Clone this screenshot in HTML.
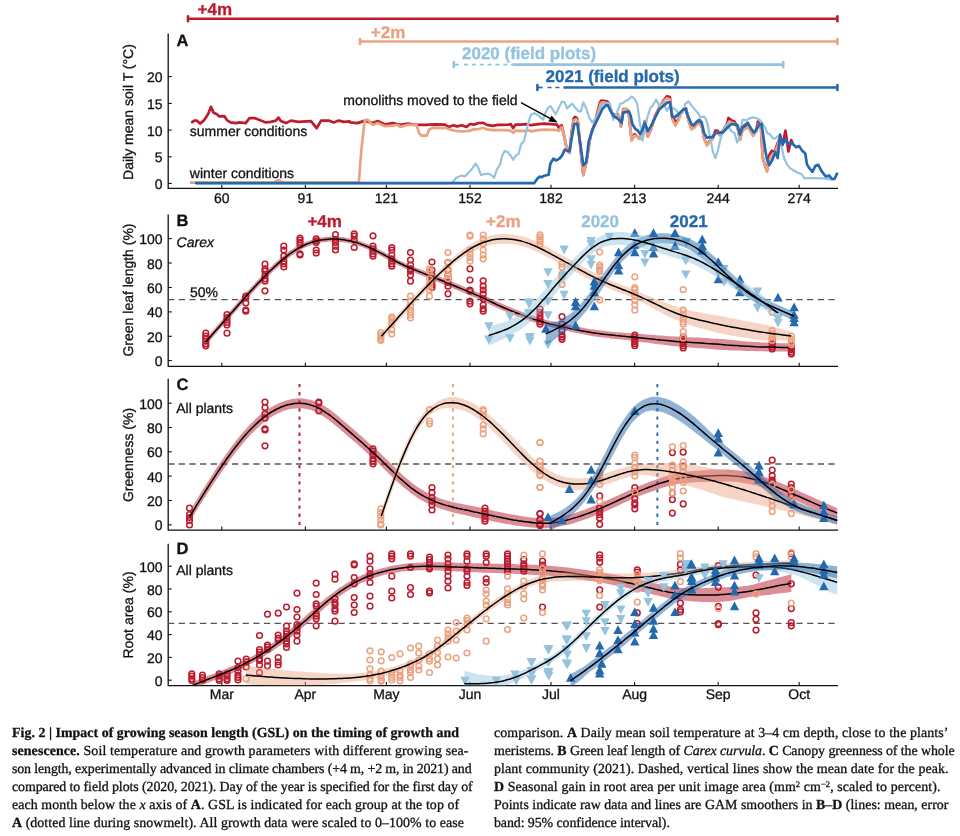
<!DOCTYPE html>
<html lang="en"><head><meta charset="utf-8"><title>Fig. 2</title>
<style>
html,body{margin:0;padding:0;background:#fff}
body{width:960px;height:836px;position:relative;overflow:hidden}
svg,.ln{will-change:transform;-webkit-font-smoothing:antialiased;text-rendering:geometricPrecision}
.ln{position:absolute;height:18px;line-height:18px;font-family:"Liberation Serif","DejaVu Serif",serif;font-size:13.9px;color:#111;white-space:nowrap;-webkit-text-stroke:0.3px #111}.ln sup{font-size:8.5px;line-height:0;vertical-align:4.5px}
</style></head><body>
<svg width="960" height="716" viewBox="0 0 960 716" style="position:absolute;left:0;top:0" font-family="'Liberation Sans', sans-serif">
<defs>
<clipPath id="cA"><rect x="168.2" y="25" width="670.4" height="163.4"/></clipPath>
<clipPath id="cB"><rect x="168.2" y="210" width="669.8" height="156.2"/></clipPath>
<clipPath id="cC"><rect x="168.2" y="375" width="669.8" height="155"/></clipPath>
<clipPath id="cD"><rect x="168.2" y="540" width="669.8" height="145.5"/></clipPath>
<path id="tu" d="M0 -5.6 L4.7 3.2 L-4.7 3.2 Z"/>
<path id="td" d="M0 5.6 L4.7 -3.2 L-4.7 -3.2 Z"/>
</defs>
<path d="M188 18.8 H837.4" stroke="#bc1c2e" stroke-width="2.6" fill="none"/><path d="M188 16.3 V21.3" stroke="#bc1c2e" stroke-width="2.6" stroke-linecap="round" fill="none"/><path d="M837.4 16.3 V21.3" stroke="#bc1c2e" stroke-width="2.6" stroke-linecap="round" fill="none"/>
<path d="M360 41.5 H837.4" stroke="#eba280" stroke-width="2.6" fill="none"/><path d="M360 39 V44" stroke="#eba280" stroke-width="2.6" stroke-linecap="round" fill="none"/><path d="M837.4 39 V44" stroke="#eba280" stroke-width="2.6" stroke-linecap="round" fill="none"/>
<path d="M453.8 64.6 H459" stroke="#95c3de" stroke-width="1.7" fill="none"/><path d="M464 64.6 H512.3" stroke="#95c3de" stroke-width="1.7" stroke-dasharray="4.1 3.75" fill="none"/><path d="M512.3 64.6 H783.2" stroke="#95c3de" stroke-width="2.6" fill="none"/><path d="M453.8 62.1 V67.1" stroke="#95c3de" stroke-width="2.6" stroke-linecap="round" fill="none"/><path d="M783.2 62.1 V67.1" stroke="#95c3de" stroke-width="2.6" stroke-linecap="round" fill="none"/>
<path d="M537.4 87.5 H542.6" stroke="#2468ad" stroke-width="1.7" fill="none"/><path d="M547.5 87.5 H563.6" stroke="#2468ad" stroke-width="1.7" stroke-dasharray="4.1 3.75" fill="none"/><path d="M563.6 87.5 H837.4" stroke="#2468ad" stroke-width="2.6" fill="none"/><path d="M537.4 85 V90" stroke="#2468ad" stroke-width="2.6" stroke-linecap="round" fill="none"/><path d="M837.4 85 V90" stroke="#2468ad" stroke-width="2.6" stroke-linecap="round" fill="none"/>
<text x="197.6" y="15.2" font-size="17" font-weight="bold" fill="#bc1c2e" text-anchor="start" stroke="#bc1c2e" stroke-width="0.3">+4m</text>
<text x="370.8" y="37.8" font-size="17" font-weight="bold" fill="#eba280" text-anchor="start" stroke="#eba280" stroke-width="0.3">+2m</text>
<text x="462" y="59.2" font-size="17" font-weight="bold" fill="#95c3de" text-anchor="start" stroke="#95c3de" stroke-width="0.3">2020 (field plots)</text>
<text x="545.6" y="81.8" font-size="17" font-weight="bold" fill="#2468ad" text-anchor="start" stroke="#2468ad" stroke-width="0.3">2021 (field plots)</text>
<path d="M168.2 33.4 V188.4 H838" stroke="#111" stroke-width="1.3" fill="none" stroke-linejoin="miter"/><path d="M221.8 188.4 V184.8" stroke="#111" stroke-width="1.1"/><path d="M305.4 188.4 V184.8" stroke="#111" stroke-width="1.1"/><path d="M386.4 188.4 V184.8" stroke="#111" stroke-width="1.1"/><path d="M470 188.4 V184.8" stroke="#111" stroke-width="1.1"/><path d="M551 188.4 V184.8" stroke="#111" stroke-width="1.1"/><path d="M634.6 188.4 V184.8" stroke="#111" stroke-width="1.1"/><path d="M718.2 188.4 V184.8" stroke="#111" stroke-width="1.1"/><path d="M799.2 188.4 V184.8" stroke="#111" stroke-width="1.1"/><path d="M168.2 76.6 H171.8" stroke="#111" stroke-width="1.1"/><text x="162.6" y="82.1" font-size="14" font-weight="normal" fill="#111" text-anchor="end" stroke="#111" stroke-width="0.3">20</text><path d="M168.2 103.4 H171.8" stroke="#111" stroke-width="1.1"/><text x="162.6" y="108.9" font-size="14" font-weight="normal" fill="#111" text-anchor="end" stroke="#111" stroke-width="0.3">15</text><path d="M168.2 130.1 H171.8" stroke="#111" stroke-width="1.1"/><text x="162.6" y="135.6" font-size="14" font-weight="normal" fill="#111" text-anchor="end" stroke="#111" stroke-width="0.3">10</text><path d="M168.2 156.8 H171.8" stroke="#111" stroke-width="1.1"/><text x="162.6" y="162.3" font-size="14" font-weight="normal" fill="#111" text-anchor="end" stroke="#111" stroke-width="0.3">5</text><path d="M168.2 183.4 H171.8" stroke="#111" stroke-width="1.1"/><text x="162.6" y="188.9" font-size="14" font-weight="normal" fill="#111" text-anchor="end" stroke="#111" stroke-width="0.3">0</text><text transform="translate(133.4 112) rotate(-90)" font-size="14" fill="#111" stroke="#111" stroke-width="0.3" text-anchor="middle">Daily mean soil T (°C)</text><text x="176.6" y="45.5" font-size="16.5" font-weight="bold" fill="#111" text-anchor="start" stroke="#111" stroke-width="0.3">A</text>
<text x="221.8" y="203.2" font-size="14" font-weight="normal" fill="#111" text-anchor="middle" stroke="#111" stroke-width="0.3">60</text>
<text x="305.4" y="203.2" font-size="14" font-weight="normal" fill="#111" text-anchor="middle" stroke="#111" stroke-width="0.3">91</text>
<text x="386.4" y="203.2" font-size="14" font-weight="normal" fill="#111" text-anchor="middle" stroke="#111" stroke-width="0.3">121</text>
<text x="470" y="203.2" font-size="14" font-weight="normal" fill="#111" text-anchor="middle" stroke="#111" stroke-width="0.3">152</text>
<text x="551" y="203.2" font-size="14" font-weight="normal" fill="#111" text-anchor="middle" stroke="#111" stroke-width="0.3">182</text>
<text x="634.6" y="203.2" font-size="14" font-weight="normal" fill="#111" text-anchor="middle" stroke="#111" stroke-width="0.3">213</text>
<text x="718.2" y="203.2" font-size="14" font-weight="normal" fill="#111" text-anchor="middle" stroke="#111" stroke-width="0.3">244</text>
<text x="799.2" y="203.2" font-size="14" font-weight="normal" fill="#111" text-anchor="middle" stroke="#111" stroke-width="0.3">274</text>
<g clip-path="url(#cA)" fill="none" stroke-linejoin="round" stroke-linecap="round">
<path d="M192.2 122.1 L194.2 120.6 L196.7 120.6 L200 123.6 L204.2 120.1 L208 114.3 L211 106.8 L213.5 112.6 L216.8 114.3 L219.3 116.4 L224.3 116.1 L226.9 120.1 L230.6 122.4 L235.7 123.1 L239.4 122.4 L245.7 123.1 L249.5 118.1 L254.5 118.1 L260.8 120.6 L265.8 122.4 L270.8 121.9 L275.9 120.6 L278.4 117.6 L280.9 121.1 L285.9 123.1 L290.9 120.6 L298.5 121.9 L306 121.4 L311 121.1 L316.6 128.2 L321.1 120.6 L328.6 120.6 L333.7 122.4 L338.7 120.6 L343.7 121.9 L349.7 121.4 L350 122.4 L357.5 123.1 L365.1 120.6 L372.6 123.1 L377.6 121.1 L385.2 124.4 L392.7 123.1 L400.3 124.9 L407.8 123.6 L415.3 124.9 L425.4 124.9 L435.4 124.4 L445 124.6 L448.6 127 L453.4 125.2 L457 126.4 L461.7 125.2 L466.5 127 L470.1 124 L474.3 124.6 L478.5 123 L483.3 122.8 L486.9 124.9 L492.8 125.8 L497.6 124.9 L502.4 124.9 L508.4 124.6 L510.8 124.2 L513.2 128.2 L515.6 124.6 L521.6 124.6 L526.3 124.2 L531.1 125.2 L538.3 124.2 L544.3 123.7 L557 124.6 L558.8 127.6 L561.7 125.2 L564.1 135.9 L567.1 150.3 L569.5 152.7 L571.9 130 L573.7 118.6 L574.9 117 L576.7 118 L577.9 121.6 L580.9 152.7 L583.3 174.8 L586.3 162.3 L590.5 135.9 L595.2 121.6 L600 102.4 L601.2 100.7 L607.2 101.3 L609 103.6 L612 113.2 L616.8 116.2 L618 114.4 L619.2 116.8 L621 126.4 L623.3 109 L626.9 109 L628.7 111.4 L629.9 125.2 L631.7 139.5 L634.7 134.1 L636.5 135.9 L639.5 138.9 L642.4 133.5 L644.8 121 L647.8 136.5 L650.8 130 L655 116.2 L659.1 107.8 L663.9 100.1 L666.9 96.2 L669.9 97.1 L672.3 118 L675.9 121.6 L678.3 119.8 L680.7 113.8 L683.7 109 L686.1 108.4 L688.4 119.8 L691.4 128.8 L694.4 127 L697.4 123.4 L699.8 123.4 L702.2 127 L704 138.3 L707 144.9 L709.4 141.3 L712.4 138.3 L715.4 130.6 L717.8 130.9 L719.5 134.1 L723.1 130.6 L727.3 122.8 L728.5 118 L731.5 120.4 L734.5 121.6 L737.5 127 L740 139.5 L742.4 130 L745.4 126.4 L747.8 125.8 L750.8 131.2 L753.2 135.3 L756.1 131.2 L757.9 121.6 L760.9 126.4 L762.7 157.5 L764.5 163.5 L766.9 171.2 L769.3 155.1 L771.7 150.9 L774.7 151.5 L777.7 143.1 L780.1 137.1 L782.5 144.9 L785.5 130.6 L788.4 151.5 L791.2 140.1 L792.6 143.1" stroke="#bc1c2e" stroke-width="2.7"/>
<path d="M190.9 182.7 L273.4 182.7 L278.4 180.2 L283.4 182.7 L349.7 182.7 L350 182.7 L358.8 182.7 L361.3 150.8 L364.6 120.6 L367.6 119.6 L372.6 124.9 L377.6 123.1 L385.2 126.2 L392.7 125.7 L397.7 124.9 L400.3 126.9 L407.8 124.9 L416.6 124.9 L419.1 133.2 L421.6 135.7 L426.6 135.7 L429.2 129.4 L432.9 127.7 L443 128.2 L445 127.6 L449.8 129.4 L457 131.2 L462.9 131.4 L468.9 130.9 L473.7 129.4 L479.7 128.8 L483.3 127.8 L486.9 129.4 L492.8 130.2 L498.8 130.2 L504.8 130.2 L510.8 130.6 L513.2 132.9 L515.6 130.6 L522.8 131.2 L528.7 130.2 L531.1 131.4 L538.3 130.2 L544.3 129.7 L557 130 L558.8 130.9 L561.7 127 L564.1 135.9 L567.1 150.3 L569.5 152.7 L571.9 131.2 L573.7 120.4 L576.1 119.2 L577.9 121.6 L580.9 152.7 L583.3 175.4 L586.3 162.3 L590.5 135.9 L595.2 122.8 L600.6 103.6 L602.4 102.4 L607.2 103 L609 103.6 L612 113.2 L616.8 117.4 L618.6 115 L621 126.4 L623.3 109.6 L626.9 109 L628.7 111.4 L629.9 125.2 L631.7 140.7 L634.1 135.9 L635.9 135.9 L639.5 138.9 L642.4 133.5 L644.8 121.6 L647.8 136.5 L650.8 130 L655 116.8 L659.1 108.4 L663.9 101.3 L666.9 98.3 L669.9 99.5 L672.3 119.2 L675.3 125.8 L678.3 120.4 L680.7 114.4 L683.7 109.6 L686.1 109.6 L688.4 120.4 L691.4 129.4 L694.4 127.6 L697.4 124 L699.8 124 L702.2 127.6 L704 138.3 L707 145.5 L709.4 141.9 L712.4 139.5 L714.8 133.5 L717.8 132.4 L719.5 135.3 L723.1 131.2 L727.3 124.6 L729.1 121.6 L732.1 122.8 L735.1 124 L737.5 127.6 L740 140.1 L742.4 130.6 L745.4 128.8 L747.8 127 L750.8 131.8 L753.2 135.9 L756.1 131.8 L758.5 124 L760.9 127 L762.7 157.5 L764.5 163.5 L766.9 171.2 L768.7 162.3 L771.1 156.3 L774.7 152.7 L777.7 145.5 L780.1 135.9" stroke="#eba280" stroke-width="2.7"/>
<path d="M194.8 183.1 L452 183.1 L452.2 182.8 L456.4 177.8 L461.7 175.4 L464.7 176.6 L468.9 172.4 L472.5 168.2 L475.5 163.5 L478.5 168.2 L480.9 174.8 L484.5 174.2 L488.7 173.6 L491.7 175.4 L494 177.8 L497 169.4 L500 164.6 L502.4 155.1 L504.8 150.9 L507.8 152.1 L510.8 155.7 L513.2 159.9 L515.6 155.7 L518.6 153.9 L521 144.3 L523.9 141.3 L526.3 131.2 L528.7 121.6 L531.1 114.4 L534.1 113.2 L537.1 114.4 L540.7 117.4 L543.1 119.8 L545 113.8 L547.4 108.4 L550.4 106 L552.8 109.6 L555.8 114.4 L559.4 106.6 L561.7 101.8 L564.1 101.8 L567.1 108.4 L571.9 103.6 L574.9 107.2 L578.5 111.4 L580.9 111.4 L583.3 102.4 L586.3 108.4 L589.3 118 L592.2 122.2 L595.2 119.2 L598.8 113.2 L601.8 105.4 L603.6 104.2 L609.6 103.6 L611.4 109.6 L613.2 119.8 L616.2 114.4 L620.4 103.6 L623.3 103 L625.7 100.7 L628.7 99.5 L631.7 96.5 L634.7 98.9 L637.1 103.6 L638.9 115.6 L640.1 125.2 L641.2 127.6 L642.4 140.7 L644.2 133.5 L647.2 118 L650.2 108.4 L653.2 104.8 L656.1 99.5 L659.1 105.4 L661.5 104.2 L664.5 106 L666.9 110.8 L669.9 106 L672.9 107.8 L675.9 110.2 L679.5 113.8 L682.5 112.6 L685.5 103.6 L688.4 101.3 L691.4 105.4 L695 109.6 L698 113.2 L700.4 117.4 L703.4 116.6 L705.2 117.4 L707.6 124 L710 137.1 L713 152.1 L715.4 158.1 L717.8 150.9 L720.7 138.3 L723.7 130 L726.1 124.6 L728.5 127 L732.1 131.8 L734.5 132.9 L737.1 142.5 L739.3 137.1 L742.4 119.8 L746 120.4 L749 118.6 L752.6 117.4 L756.1 118.2 L759.1 119.2 L762.1 122.8 L765.1 127.6 L767.5 133.5 L769.9 134.1 L772.9 138.3 L775.3 138.3 L778.3 135.9 L780.1 137.1 L781.9 147.9 L784.3 158.7 L787.2 164.6 L790.2 168.2 L793.8 170.6 L797.4 172.4 L801.6 174.2 L804.6 178.4 L811.8 178 L823.7 178.4 L832.1 179.6" stroke="#95c3de" stroke-width="2.2"/>
<path d="M196.2 183.1 L534.1 183.2 L537.1 179 L539.5 176.6 L541.9 177.2 L544.3 175.7 L548.6 174.8 L550.4 163.5 L553.4 158.7 L556.4 160.5 L560 158.1 L562.3 155.1 L564.7 149.7 L569.5 151.3 L571.9 137.1 L574.3 124 L577.3 123.7 L580.9 147.9 L583.3 165.2 L586.3 162.3 L588.7 141.9 L592.8 128.8 L597.6 119.2 L602.4 109 L606 105.4 L607.8 105.2 L610.2 110.2 L613.8 116.2 L616.8 118 L619.8 120.4 L621.6 122.8 L623.3 112.6 L628.7 111.4 L630.5 115 L632.3 124 L635.3 128.8 L637.7 130.6 L640.1 134.1 L642.4 130 L644.8 122.8 L647.8 131.2 L650.8 126.4 L655 118 L659.1 109.6 L663.9 105.4 L667.5 102.4 L669.9 102.4 L672.3 116.8 L674.7 117.4 L678.3 114.4 L683.1 109.6 L685.5 109 L687.8 115.6 L691.4 124 L693.8 125.2 L696.8 121.6 L699.2 119.8 L701.6 122.2 L704 132.9 L707 137.7 L710 137.1 L713 137.1 L715.4 132.9 L718.9 132.9 L723.1 132.4 L727.3 127.6 L731.5 124 L735.1 124.6 L737.5 125.2 L740 134.7 L742.4 127 L745.4 124.6 L747.8 122.8 L750.8 128.2 L753.8 132.4 L756.1 130 L759.1 124.6 L761.5 124 L763.3 135.9 L765.1 149.1 L766.9 158.7 L769.3 165.2 L772.3 159.9 L775.3 152.1 L777.7 158.1 L780.1 134.7 L782.5 144.3 L785.5 139.5 L788.4 144.3 L792 143.1 L796.2 147.3 L799.2 146.1 L802.2 150.9 L805.2 153.3 L807 164.6 L809.4 168.2 L812.4 171.8 L815.4 165.8 L818.3 164.9 L821.3 170.6 L824.3 174.8 L826.1 176.6 L829.1 175.4 L832.1 179 L834.5 178.8 L837.1 173.6" stroke="#2468ad" stroke-width="2.7"/>
</g>
<text x="189.8" y="135.6" font-size="14" font-weight="normal" fill="#111" text-anchor="start" stroke="#111" stroke-width="0.3">summer conditions</text>
<text x="189.8" y="178.4" font-size="14" font-weight="normal" fill="#111" text-anchor="start" stroke="#111" stroke-width="0.3">winter conditions</text>
<text x="517.6" y="105.2" font-size="14" font-weight="normal" fill="#111" text-anchor="end" stroke="#111" stroke-width="0.3">monoliths moved to the field</text>
<path d="M521 102.6 L556 121.6" stroke="#000" stroke-width="1.4" fill="none"/><path d="M557.6 122.6 L548.4 121.4 L551.6 115.4 Z" fill="#000"/>
<path d="M168.2 214.4 V366.3 H838" stroke="#111" stroke-width="1.3" fill="none" stroke-linejoin="miter"/><path d="M221.8 366.3 V362.7" stroke="#111" stroke-width="1.1"/><path d="M305.4 366.3 V362.7" stroke="#111" stroke-width="1.1"/><path d="M386.4 366.3 V362.7" stroke="#111" stroke-width="1.1"/><path d="M470 366.3 V362.7" stroke="#111" stroke-width="1.1"/><path d="M551 366.3 V362.7" stroke="#111" stroke-width="1.1"/><path d="M634.6 366.3 V362.7" stroke="#111" stroke-width="1.1"/><path d="M718.2 366.3 V362.7" stroke="#111" stroke-width="1.1"/><path d="M799.2 366.3 V362.7" stroke="#111" stroke-width="1.1"/><path d="M168.2 238.6 H171.8" stroke="#111" stroke-width="1.1"/><text x="162.6" y="244.1" font-size="14" font-weight="normal" fill="#111" text-anchor="end" stroke="#111" stroke-width="0.3">100</text><path d="M168.2 263 H171.8" stroke="#111" stroke-width="1.1"/><text x="162.6" y="268.5" font-size="14" font-weight="normal" fill="#111" text-anchor="end" stroke="#111" stroke-width="0.3">80</text><path d="M168.2 287.5 H171.8" stroke="#111" stroke-width="1.1"/><text x="162.6" y="293" font-size="14" font-weight="normal" fill="#111" text-anchor="end" stroke="#111" stroke-width="0.3">60</text><path d="M168.2 311.9 H171.8" stroke="#111" stroke-width="1.1"/><text x="162.6" y="317.4" font-size="14" font-weight="normal" fill="#111" text-anchor="end" stroke="#111" stroke-width="0.3">40</text><path d="M168.2 336.3 H171.8" stroke="#111" stroke-width="1.1"/><text x="162.6" y="341.8" font-size="14" font-weight="normal" fill="#111" text-anchor="end" stroke="#111" stroke-width="0.3">20</text><path d="M168.2 360.6 H171.8" stroke="#111" stroke-width="1.1"/><text x="162.6" y="366.1" font-size="14" font-weight="normal" fill="#111" text-anchor="end" stroke="#111" stroke-width="0.3">0</text><text transform="translate(133.4 290) rotate(-90)" font-size="14" fill="#111" stroke="#111" stroke-width="0.3" text-anchor="middle">Green leaf length (%)</text><text x="176.6" y="226.4" font-size="16.5" font-weight="bold" fill="#111" text-anchor="start" stroke="#111" stroke-width="0.3">B</text>
<text x="176.6" y="246.8" font-size="14" font-weight="normal" fill="#111" text-anchor="start" font-style="italic" stroke="#111" stroke-width="0.3">Carex</text>
<text x="190" y="297" font-size="14" font-weight="normal" fill="#111" text-anchor="start" stroke="#111" stroke-width="0.3">50%</text>
<path d="M168.1 299.7 H835" stroke="#555" stroke-width="1.3" stroke-dasharray="6.25 4.4" fill="none"/>
<text x="307.4" y="227" font-size="17" font-weight="bold" fill="#bc1c2e" text-anchor="start" stroke="#bc1c2e" stroke-width="0.3">+4m</text>
<text x="486" y="227.2" font-size="17" font-weight="bold" fill="#eba280" text-anchor="start" stroke="#eba280" stroke-width="0.3">+2m</text>
<text x="581.2" y="227.4" font-size="17" font-weight="bold" fill="#95c3de" text-anchor="start" stroke="#95c3de" stroke-width="0.3">2020</text>
<text x="669.8" y="227.4" font-size="17" font-weight="bold" fill="#2468ad" text-anchor="start" stroke="#2468ad" stroke-width="0.3">2021</text>
<g clip-path="url(#cB)">
<g fill="none" stroke="#bc1c2e" stroke-width="1.5"><circle cx="205.8" cy="333.2" r="2.85"/><circle cx="205.8" cy="336.2" r="2.85"/><circle cx="205.8" cy="338.8" r="2.85"/><circle cx="205.8" cy="341.2" r="2.85"/><circle cx="205.8" cy="343.8" r="2.85"/><circle cx="205.8" cy="345.8" r="2.85"/><circle cx="227" cy="314.5" r="2.85"/><circle cx="227" cy="317.5" r="2.85"/><circle cx="227" cy="320" r="2.85"/><circle cx="227" cy="322.5" r="2.85"/><circle cx="227" cy="325" r="2.85"/><circle cx="227" cy="333.2" r="2.85"/><circle cx="245.8" cy="296.2" r="2.85"/><circle cx="245.8" cy="298" r="2.85"/><circle cx="245.8" cy="303" r="2.85"/><circle cx="245.8" cy="310" r="2.85"/><circle cx="245.8" cy="311.2" r="2.85"/><circle cx="265" cy="264.2" r="2.85"/><circle cx="265" cy="268.8" r="2.85"/><circle cx="265" cy="271.2" r="2.85"/><circle cx="265" cy="275.5" r="2.85"/><circle cx="265" cy="278.8" r="2.85"/><circle cx="265" cy="281.2" r="2.85"/><circle cx="265" cy="290.8" r="2.85"/><circle cx="283.8" cy="246.2" r="2.85"/><circle cx="283.8" cy="250" r="2.85"/><circle cx="283.8" cy="256.2" r="2.85"/><circle cx="283.8" cy="261.2" r="2.85"/><circle cx="283.8" cy="263.8" r="2.85"/><circle cx="283.8" cy="267" r="2.85"/><circle cx="300" cy="238" r="2.85"/><circle cx="300" cy="240" r="2.85"/><circle cx="300" cy="242.5" r="2.85"/><circle cx="300" cy="245" r="2.85"/><circle cx="300" cy="253.8" r="2.85"/><circle cx="300" cy="255" r="2.85"/><circle cx="316.2" cy="238.8" r="2.85"/><circle cx="316.2" cy="240.8" r="2.85"/><circle cx="316.2" cy="242.5" r="2.85"/><circle cx="316.2" cy="250" r="2.85"/><circle cx="316.2" cy="253" r="2.85"/><circle cx="335.5" cy="234.5" r="2.85"/><circle cx="335.5" cy="239.5" r="2.85"/><circle cx="335.5" cy="242.5" r="2.85"/><circle cx="335.5" cy="246.2" r="2.85"/><circle cx="335.5" cy="250" r="2.85"/><circle cx="354.2" cy="233.8" r="2.85"/><circle cx="354.2" cy="236.2" r="2.85"/><circle cx="354.2" cy="240" r="2.85"/><circle cx="354.2" cy="247.5" r="2.85"/><circle cx="373" cy="235.8" r="2.85"/><circle cx="373" cy="246.2" r="2.85"/><circle cx="373" cy="248.8" r="2.85"/><circle cx="373" cy="251.2" r="2.85"/><circle cx="373" cy="253.8" r="2.85"/><circle cx="373" cy="256.2" r="2.85"/><circle cx="391.8" cy="247.5" r="2.85"/><circle cx="391.8" cy="250" r="2.85"/><circle cx="391.8" cy="255" r="2.85"/><circle cx="391.8" cy="258.8" r="2.85"/><circle cx="391.8" cy="261.2" r="2.85"/><circle cx="391.8" cy="263.8" r="2.85"/><circle cx="391.8" cy="266.2" r="2.85"/><circle cx="410.5" cy="252.5" r="2.85"/><circle cx="410.5" cy="260" r="2.85"/><circle cx="410.5" cy="265" r="2.85"/><circle cx="410.5" cy="268.8" r="2.85"/><circle cx="410.5" cy="271.2" r="2.85"/><circle cx="410.5" cy="275" r="2.85"/><circle cx="410.5" cy="281.2" r="2.85"/><circle cx="432" cy="262" r="2.85"/><circle cx="432" cy="270" r="2.85"/><circle cx="432" cy="275" r="2.85"/><circle cx="432" cy="278.8" r="2.85"/><circle cx="432" cy="281.2" r="2.85"/><circle cx="432" cy="285" r="2.85"/><circle cx="432" cy="287.5" r="2.85"/><circle cx="448" cy="262.5" r="2.85"/><circle cx="448" cy="270" r="2.85"/><circle cx="448" cy="275" r="2.85"/><circle cx="448" cy="278.8" r="2.85"/><circle cx="448" cy="282.5" r="2.85"/><circle cx="448" cy="286.2" r="2.85"/><circle cx="448" cy="293.8" r="2.85"/><circle cx="470" cy="268.8" r="2.85"/><circle cx="470" cy="280" r="2.85"/><circle cx="470" cy="290" r="2.85"/><circle cx="470" cy="291.2" r="2.85"/><circle cx="470" cy="301.2" r="2.85"/><circle cx="470" cy="303.8" r="2.85"/><circle cx="483.2" cy="280.8" r="2.85"/><circle cx="483.2" cy="286.2" r="2.85"/><circle cx="483.2" cy="290" r="2.85"/><circle cx="483.2" cy="293.8" r="2.85"/><circle cx="483.2" cy="298.8" r="2.85"/><circle cx="483.2" cy="305" r="2.85"/><circle cx="483.2" cy="308.8" r="2.85"/><circle cx="483.2" cy="311.2" r="2.85"/><circle cx="540" cy="309.1" r="2.85"/><circle cx="540" cy="312.3" r="2.85"/><circle cx="540" cy="315.6" r="2.85"/><circle cx="540" cy="318.8" r="2.85"/><circle cx="540" cy="322" r="2.85"/><circle cx="540" cy="324.2" r="2.85"/><circle cx="562" cy="316.7" r="2.85"/><circle cx="562" cy="324.2" r="2.85"/><circle cx="562" cy="330.6" r="2.85"/><circle cx="562" cy="335" r="2.85"/><circle cx="562" cy="337.1" r="2.85"/><circle cx="562" cy="339.3" r="2.85"/><circle cx="634.8" cy="335" r="2.85"/><circle cx="634.8" cy="337.1" r="2.85"/><circle cx="634.8" cy="339.3" r="2.85"/><circle cx="634.8" cy="341.4" r="2.85"/><circle cx="634.8" cy="343.6" r="2.85"/><circle cx="634.8" cy="345.7" r="2.85"/><circle cx="683.2" cy="337.1" r="2.85"/><circle cx="683.2" cy="339.3" r="2.85"/><circle cx="683.2" cy="341.4" r="2.85"/><circle cx="683.2" cy="343.6" r="2.85"/><circle cx="683.2" cy="345.7" r="2.85"/><circle cx="683.2" cy="347.9" r="2.85"/><circle cx="772.2" cy="339.3" r="2.85"/><circle cx="772.2" cy="342.5" r="2.85"/><circle cx="772.2" cy="344.6" r="2.85"/><circle cx="772.2" cy="346.8" r="2.85"/><circle cx="772.2" cy="348.9" r="2.85"/><circle cx="791.3" cy="345.7" r="2.85"/><circle cx="791.3" cy="347.9" r="2.85"/><circle cx="791.3" cy="350" r="2.85"/><circle cx="791.3" cy="352.2" r="2.85"/><circle cx="791.3" cy="353.9" r="2.85"/></g>
<path d="M205.8 338.8 C206.3 338.1 207.8 336.5 209.2 334.9 C210.6 333.3 212.5 331.1 214.1 329.2 C215.8 327.3 217.5 325.4 219.1 323.5 C220.8 321.6 222.4 319.7 224.1 317.8 C225.8 315.9 227.4 314 229.1 312.1 C230.8 310.2 232.4 308.3 234.1 306.4 C235.7 304.5 237.4 302.6 239.1 300.7 C240.7 298.8 242.4 296.9 244.1 295.1 C245.7 293.2 247.4 291.3 249.1 289.5 C250.7 287.7 252.4 285.8 254.1 284 C255.7 282.2 257.4 280.5 259.1 278.7 C260.7 277 262.4 275.2 264.1 273.5 C265.8 271.9 267.4 270.2 269.1 268.5 C270.8 266.9 272.5 265.3 274.1 263.7 C275.8 262.2 277.5 260.7 279.2 259.2 C280.9 257.7 282.6 256.3 284.3 255 C286 253.6 287.7 252.4 289.4 251.1 C291.1 249.9 292.8 248.8 294.5 247.7 C296.2 246.6 298 245.6 299.7 244.7 C301.4 243.8 303.1 243 304.9 242.2 C306.6 241.5 308.3 240.8 310.1 240.3 C311.8 239.7 313.5 239.2 315.3 238.7 C317 238.3 318.7 238 320.4 237.7 C322.2 237.4 323.9 237.1 325.6 237 C327.4 236.8 329.1 236.7 330.8 236.6 C332.5 236.6 334.2 236.6 336 236.7 C337.7 236.7 339.4 236.9 341.1 237 C342.9 237.2 344.6 237.5 346.3 237.7 C348 238 349.7 238.4 351.4 238.8 C353.2 239.2 354.9 239.6 356.6 240.1 C358.3 240.6 360 241.2 361.7 241.8 C363.4 242.4 365.1 243 366.8 243.7 C368.5 244.4 370.2 245.2 371.9 246 C373.6 246.7 375.3 247.6 377 248.4 C378.7 249.3 380.4 250.2 382.1 251.1 C383.7 252 385.4 252.9 387.1 253.8 C388.7 254.7 390.4 255.6 392.1 256.5 C393.7 257.4 395.4 258.3 397 259.2 C398.7 260 400.3 260.8 402 261.6 C403.6 262.4 405.3 263.2 407 263.9 C408.6 264.7 410.3 265.4 411.9 266 C413.6 266.7 415.2 267.4 416.9 268 C418.6 268.7 420.2 269.3 421.9 269.9 C423.6 270.6 425.2 271.2 426.9 271.8 C428.6 272.4 430.3 273.1 432 273.7 C433.6 274.4 435.3 275 437 275.7 C438.7 276.3 440.4 277 442 277.7 C443.7 278.4 445.4 279 447.1 279.7 C448.7 280.4 450.4 281.1 452.1 281.7 C453.8 282.4 455.4 283.1 457.1 283.8 C458.8 284.5 460.4 285.2 462.1 285.9 C463.8 286.6 465.4 287.2 467.1 287.9 C468.8 288.6 470.5 289.3 472.1 290 C473.8 290.7 475.5 291.5 477.2 292.2 C478.9 292.9 480.5 293.7 482.2 294.5 C483.9 295.2 485.6 296 487.3 296.8 C488.9 297.6 490.6 298.4 492.3 299.2 C493.9 300 495.6 300.8 497.3 301.6 C498.9 302.3 500.6 303.1 502.2 303.8 C503.9 304.6 505.5 305.3 507.2 306 C508.8 306.7 510.5 307.4 512.1 308 C513.8 308.7 515.4 309.4 517.1 310 C518.8 310.6 520.4 311.3 522.1 311.9 C523.7 312.5 525.4 313.1 527 313.7 C528.7 314.3 530.4 314.9 532 315.4 C533.7 316 535.3 316.5 537 317.1 C538.6 317.6 540.3 318.1 541.9 318.6 C543.6 319.1 545.2 319.6 546.9 320 C548.5 320.5 550.2 320.9 551.8 321.3 C553.5 321.7 555.1 322 556.8 322.4 C558.4 322.8 560.1 323.2 561.8 323.5 C563.4 323.9 565.1 324.2 566.8 324.6 C568.4 324.9 570.1 325.3 571.7 325.6 C573.4 325.9 575.1 326.3 576.7 326.6 C578.4 326.9 580.1 327.3 581.7 327.6 C583.4 327.9 585 328.2 586.7 328.5 C588.3 328.8 590 329 591.6 329.3 C593.3 329.5 594.9 329.8 596.6 330 C598.2 330.2 599.9 330.4 601.5 330.6 C603.2 330.8 604.9 331 606.5 331.2 C608.2 331.4 609.8 331.5 611.5 331.7 C613.2 331.9 614.8 332 616.5 332.2 C618.2 332.4 619.8 332.5 621.5 332.6 C623.2 332.8 624.8 332.9 626.5 333 C628.2 333.1 629.8 333.2 631.5 333.4 C633.2 333.5 634.9 333.6 636.5 333.7 C638.2 333.8 639.9 334 641.6 334.1 C643.2 334.2 644.9 334.3 646.6 334.5 C648.3 334.6 649.9 334.7 651.6 334.8 C653.3 335 655 335.1 656.6 335.2 C658.3 335.3 660 335.5 661.6 335.6 C663.3 335.7 665 335.8 666.6 335.9 C668.3 336 670 336.2 671.6 336.3 C673.3 336.4 674.9 336.5 676.6 336.5 C678.3 336.6 679.9 336.7 681.6 336.8 C683.2 336.9 684.9 337 686.5 337.1 C688.2 337.2 689.8 337.3 691.5 337.3 C693.2 337.4 694.8 337.5 696.5 337.6 C698.2 337.7 699.9 337.7 701.6 337.8 C703.2 337.9 704.9 338 706.6 338.1 C708.3 338.2 710 338.3 711.6 338.4 C713.3 338.5 715 338.6 716.7 338.8 C718.3 338.9 720 339 721.7 339.1 C723.3 339.3 725 339.5 726.6 339.6 C728.3 339.8 730 339.9 731.6 340.1 C733.3 340.2 734.9 340.4 736.6 340.5 C738.2 340.7 739.9 340.8 741.6 341 C743.2 341.1 744.9 341.2 746.5 341.4 C748.2 341.5 749.8 341.6 751.5 341.7 C753.2 341.9 754.8 342 756.5 342.1 C758.1 342.2 759.8 342.3 761.5 342.4 C763.1 342.5 764.8 342.6 766.4 342.6 C768.1 342.7 769.7 342.8 771.4 342.9 C773.1 342.9 774.7 343 776.4 343 C778 343.1 779.7 343.2 781.4 343.2 C783 343.3 784.7 343.3 786.3 343.3 C788 343.4 790.5 343.4 791.3 343.4 L791.3 351.4 C790.5 351.5 788 351.5 786.3 351.5 C784.6 351.5 782.9 351.5 781.3 351.5 C779.6 351.5 777.9 351.5 776.2 351.5 C774.5 351.5 772.9 351.5 771.2 351.5 C769.5 351.5 767.8 351.5 766.2 351.4 C764.5 351.4 762.8 351.4 761.1 351.3 C759.4 351.3 757.8 351.3 756.1 351.2 C754.4 351.2 752.7 351.2 751.1 351.1 C749.4 351.1 747.7 351 746 351 C744.3 350.9 742.7 350.9 741 350.8 C739.3 350.7 737.6 350.7 735.9 350.6 C734.3 350.5 732.6 350.4 730.9 350.4 C729.2 350.3 727.5 350.2 725.9 350.1 C724.2 350 722.5 350 720.8 349.8 C719.2 349.7 717.5 349.6 715.8 349.4 C714.2 349.3 712.5 349.2 710.8 349 C709.2 348.9 707.5 348.7 705.9 348.6 C704.2 348.5 702.6 348.3 700.9 348.2 C699.2 348.1 697.6 348 695.9 347.9 C694.3 347.8 692.6 347.7 690.9 347.6 C689.3 347.4 687.6 347.3 685.9 347.2 C684.2 347.1 682.5 347 680.8 346.8 C679.2 346.7 677.5 346.5 675.8 346.3 C674.1 346.1 672.5 345.9 670.8 345.7 C669.1 345.6 667.4 345.4 665.8 345.1 C664.1 344.9 662.4 344.7 660.7 344.5 C659.1 344.3 657.4 344.1 655.7 343.9 C654.1 343.7 652.4 343.5 650.8 343.3 C649.1 343 647.4 342.8 645.8 342.6 C644.1 342.4 642.4 342.2 640.8 342 C639.1 341.8 637.5 341.6 635.8 341.4 C634.1 341.1 632.5 340.9 630.8 340.7 C629.1 340.5 627.5 340.3 625.8 340.1 C624.1 339.9 622.5 339.7 620.8 339.5 C619.1 339.3 617.5 339.1 615.8 338.9 C614.1 338.7 612.5 338.6 610.8 338.4 C609.1 338.2 607.4 338 605.8 337.8 C604.1 337.6 602.4 337.4 600.7 337.2 C599 336.9 597.4 336.7 595.7 336.5 C594 336.2 592.3 336 590.6 335.7 C588.9 335.4 587.2 335.1 585.6 334.8 C583.9 334.5 582.2 334.2 580.5 333.8 C578.8 333.5 577.2 333.1 575.5 332.8 C573.8 332.4 572.1 332.1 570.5 331.7 C568.8 331.4 567.1 331 565.4 330.6 C563.8 330.3 562.1 329.9 560.4 329.5 C558.8 329.1 557.1 328.8 555.4 328.4 C553.7 328 552 327.6 550.4 327.1 C548.7 326.7 547 326.2 545.3 325.8 C543.6 325.3 541.9 324.8 540.2 324.3 C538.5 323.8 536.8 323.2 535.2 322.6 C533.5 322.1 531.8 321.5 530.1 320.9 C528.4 320.3 526.8 319.8 525.1 319.2 C523.4 318.6 521.7 317.9 520 317.3 C518.4 316.7 516.7 316.1 515 315.4 C513.3 314.8 511.6 314.1 510 313.4 C508.3 312.7 506.6 312 504.9 311.3 C503.2 310.6 501.5 309.9 499.9 309.1 C498.2 308.4 496.5 307.6 494.8 306.8 C493.1 306 491.5 305.2 489.8 304.4 C488.1 303.6 486.4 302.8 484.8 302 C483.1 301.3 481.5 300.5 479.8 299.7 C478.2 299 476.5 298.2 474.8 297.5 C473.2 296.8 471.5 296.1 469.9 295.4 C468.2 294.7 466.6 294 464.9 293.3 C463.2 292.6 461.6 291.9 459.9 291.2 C458.2 290.5 456.6 289.9 454.9 289.2 C453.2 288.5 451.5 287.8 449.9 287.1 C448.2 286.4 446.6 285.7 444.9 285 C443.2 284.3 441.6 283.6 439.9 282.9 C438.3 282.2 436.6 281.5 434.9 280.8 C433.3 280.1 431.6 279.4 430 278.8 C428.3 278.1 426.7 277.4 425 276.8 C423.3 276.1 421.7 275.5 420 274.8 C418.3 274.1 416.7 273.5 415 272.8 C413.3 272.1 411.6 271.4 410 270.7 C408.3 269.9 406.6 269.2 404.9 268.4 C403.2 267.6 401.6 266.8 399.9 266 C398.2 265.1 396.5 264.3 394.8 263.4 C393.2 262.6 391.5 261.7 389.8 260.8 C388.1 259.9 386.4 258.9 384.8 258 C383.1 257.1 381.4 256.2 379.8 255.3 C378.1 254.5 376.5 253.6 374.8 252.8 C373.2 251.9 371.5 251.1 369.9 250.4 C368.3 249.6 366.6 248.9 365 248.2 C363.4 247.6 361.7 246.9 360.1 246.4 C358.5 245.8 356.8 245.3 355.2 244.8 C353.6 244.3 352 243.9 350.3 243.5 C348.7 243.2 347.1 242.8 345.5 242.6 C343.9 242.3 342.2 242.1 340.6 241.9 C339 241.8 337.4 241.6 335.8 241.6 C334.2 241.5 332.6 241.5 330.9 241.6 C329.3 241.6 327.7 241.7 326.1 241.9 C324.5 242 322.9 242.2 321.3 242.5 C319.7 242.8 318.1 243.1 316.5 243.5 C314.9 243.9 313.2 244.4 311.6 244.9 C310 245.5 308.4 246.1 306.8 246.8 C305.2 247.5 303.6 248.3 302 249.1 C300.4 250 298.8 250.9 297.2 251.9 C295.5 252.9 293.9 254 292.3 255.2 C290.6 256.4 289 257.6 287.4 258.9 C285.7 260.2 284.1 261.6 282.5 263 C280.8 264.4 279.2 265.9 277.5 267.4 C275.8 268.9 274.2 270.5 272.5 272.1 C270.9 273.7 269.2 275.3 267.5 277 C265.9 278.6 264.2 280.3 262.5 282 C260.9 283.8 259.2 285.5 257.5 287.3 C255.9 289 254.2 290.8 252.5 292.7 C250.9 294.5 249.2 296.3 247.5 298.2 C245.8 300 244.2 301.9 242.5 303.7 C240.8 305.6 239.1 307.5 237.5 309.4 C235.8 311.2 234.1 313.1 232.5 315 C230.8 316.9 229.1 318.8 227.4 320.7 C225.8 322.6 224.1 324.5 222.4 326.3 C220.7 328.2 219.1 330.1 217.4 332 C215.7 333.9 214.3 335.5 212.4 337.7 C210.4 339.9 206.9 343.9 205.8 345.2 Z" fill="#bc1c2e" fill-opacity="0.5"/>
<path d="M205.8 342 C206.6 341 209.1 338.2 210.8 336.3 C212.4 334.4 214.1 332.5 215.8 330.6 C217.4 328.7 219.1 326.8 220.8 324.9 C222.4 323 224.1 321.1 225.8 319.2 C227.4 317.3 229.1 315.4 230.8 313.5 C232.4 311.7 234.1 309.8 235.8 307.9 C237.4 306 239.1 304.1 240.8 302.2 C242.5 300.3 244.1 298.5 245.8 296.6 C247.5 294.8 249.1 292.9 250.8 291.1 C252.5 289.3 254.1 287.4 255.8 285.7 C257.5 283.9 259.1 282.1 260.8 280.4 C262.5 278.6 264.1 276.9 265.8 275.3 C267.5 273.6 269.1 271.9 270.8 270.3 C272.5 268.7 274.1 267.1 275.8 265.6 C277.5 264 279.2 262.5 280.8 261.1 C282.5 259.7 284.2 258.3 285.8 256.9 C287.5 255.6 289.2 254.4 290.8 253.2 C292.5 252 294.2 250.9 295.8 249.8 C297.5 248.8 299.2 247.8 300.8 246.9 C302.5 246 304.2 245.2 305.8 244.5 C307.5 243.8 309.2 243.2 310.9 242.6 C312.5 242 314.2 241.6 315.9 241.1 C317.5 240.7 319.2 240.4 320.9 240.1 C322.5 239.8 324.2 239.6 325.9 239.4 C327.5 239.3 329.2 239.2 330.9 239.1 C332.5 239.1 334.2 239.1 335.9 239.1 C337.5 239.2 339.2 239.3 340.9 239.5 C342.5 239.7 344.2 239.9 345.9 240.2 C347.6 240.4 349.2 240.8 350.9 241.1 C352.6 241.5 354.2 242 355.9 242.5 C357.6 242.9 359.2 243.5 360.9 244.1 C362.6 244.7 364.2 245.3 365.9 246 C367.6 246.6 369.2 247.4 370.9 248.2 C372.6 248.9 374.2 249.7 375.9 250.6 C377.6 251.4 379.3 252.3 380.9 253.2 C382.6 254.1 384.3 255 385.9 255.9 C387.6 256.8 389.3 257.7 390.9 258.6 C392.6 259.5 394.3 260.4 395.9 261.3 C397.6 262.1 399.3 263 400.9 263.8 C402.6 264.6 404.3 265.4 405.9 266.2 C407.6 266.9 409.3 267.6 410.9 268.4 C412.6 269.1 414.3 269.7 416 270.4 C417.6 271.1 419.3 271.7 421 272.4 C422.6 273 424.3 273.7 426 274.3 C427.6 274.9 429.3 275.6 431 276.2 C432.6 276.9 434.3 277.6 436 278.2 C437.6 278.9 439.3 279.6 441 280.3 C442.6 281 444.3 281.7 446 282.3 C447.7 283 449.3 283.7 451 284.4 C452.7 285.1 454.3 285.8 456 286.5 C457.7 287.2 459.3 287.9 461 288.6 C462.7 289.2 464.3 289.9 466 290.6 C467.7 291.3 469.3 292 471 292.7 C472.7 293.4 474.3 294.1 476 294.9 C477.7 295.6 479.3 296.3 481 297.1 C482.7 297.9 484.4 298.6 486 299.4 C487.7 300.2 489.4 301 491 301.8 C492.7 302.6 494.4 303.4 496 304.2 C497.7 305 499.4 305.7 501 306.5 C502.7 307.2 504.4 307.9 506 308.6 C507.7 309.4 509.4 310 511 310.7 C512.7 311.4 514.4 312.1 516 312.7 C517.7 313.4 519.4 314 521.1 314.6 C522.7 315.2 524.4 315.8 526.1 316.4 C527.7 317 529.4 317.6 531.1 318.2 C532.7 318.8 534.4 319.3 536.1 319.9 C537.7 320.4 539.4 320.9 541.1 321.4 C542.7 321.9 544.4 322.4 546.1 322.9 C547.7 323.3 549.4 323.8 551.1 324.2 C552.8 324.6 554.4 325 556.1 325.4 C557.8 325.8 559.4 326.1 561.1 326.5 C562.8 326.9 564.4 327.2 566.1 327.6 C567.8 328 569.4 328.3 571.1 328.7 C572.8 329 574.4 329.4 576.1 329.7 C577.8 330 579.4 330.4 581.1 330.7 C582.8 331 584.4 331.3 586.1 331.6 C587.8 331.9 589.5 332.2 591.1 332.5 C592.8 332.8 594.5 333 596.1 333.2 C597.8 333.5 599.5 333.7 601.1 333.9 C602.8 334.1 604.5 334.3 606.1 334.5 C607.8 334.7 609.5 334.9 611.1 335 C612.8 335.2 614.5 335.4 616.1 335.6 C617.8 335.7 619.5 335.9 621.2 336.1 C622.8 336.2 624.5 336.4 626.2 336.6 C627.8 336.7 629.5 336.9 631.2 337 C632.8 337.2 634.5 337.4 636.2 337.5 C637.8 337.7 639.5 337.9 641.2 338 C642.8 338.2 644.5 338.4 646.2 338.5 C647.8 338.7 649.5 338.9 651.2 339 C652.8 339.2 654.5 339.4 656.2 339.6 C657.9 339.7 659.5 339.9 661.2 340.1 C662.9 340.2 664.5 340.4 666.2 340.5 C667.9 340.7 669.5 340.9 671.2 341 C672.9 341.1 674.5 341.3 676.2 341.4 C677.9 341.6 679.5 341.7 681.2 341.8 C682.9 341.9 684.5 342 686.2 342.1 C687.9 342.3 689.6 342.4 691.2 342.4 C692.9 342.5 694.6 342.6 696.2 342.7 C697.9 342.8 699.6 342.9 701.2 343 C702.9 343.1 704.6 343.2 706.2 343.4 C707.9 343.5 709.6 343.6 711.2 343.7 C712.9 343.8 714.6 344 716.2 344.1 C717.9 344.2 719.6 344.4 721.2 344.5 C722.9 344.6 724.6 344.7 726.3 344.9 C727.9 345 729.6 345.1 731.3 345.2 C732.9 345.3 734.6 345.5 736.3 345.6 C737.9 345.7 739.6 345.8 741.3 345.9 C742.9 346 744.6 346.1 746.3 346.2 C747.9 346.3 749.6 346.3 751.3 346.4 C752.9 346.5 754.6 346.6 756.3 346.7 C758 346.7 759.6 346.8 761.3 346.9 C763 346.9 764.6 347 766.3 347 C768 347.1 769.6 347.1 771.3 347.2 C773 347.2 774.6 347.3 776.3 347.3 C778 347.3 779.6 347.3 781.3 347.4 C783 347.4 784.6 347.4 786.3 347.4 C788 347.4 790.5 347.4 791.3 347.4" stroke="#000" stroke-width="1.5" fill="none"/>
<g fill="none" stroke="#eba280" stroke-width="1.5"><circle cx="380.8" cy="332.5" r="2.85"/><circle cx="380.8" cy="335" r="2.85"/><circle cx="380.8" cy="337" r="2.85"/><circle cx="380.8" cy="338.8" r="2.85"/><circle cx="380.8" cy="340.5" r="2.85"/><circle cx="391.8" cy="317" r="2.85"/><circle cx="391.8" cy="318.8" r="2.85"/><circle cx="391.8" cy="321.2" r="2.85"/><circle cx="391.8" cy="323.8" r="2.85"/><circle cx="391.8" cy="330" r="2.85"/><circle cx="391.8" cy="333.8" r="2.85"/><circle cx="410.5" cy="296.2" r="2.85"/><circle cx="410.5" cy="301.2" r="2.85"/><circle cx="410.5" cy="306.2" r="2.85"/><circle cx="410.5" cy="310" r="2.85"/><circle cx="410.5" cy="312.5" r="2.85"/><circle cx="410.5" cy="315" r="2.85"/><circle cx="410.5" cy="318" r="2.85"/><circle cx="429.5" cy="268.8" r="2.85"/><circle cx="429.5" cy="271.2" r="2.85"/><circle cx="429.5" cy="278.8" r="2.85"/><circle cx="429.5" cy="283.8" r="2.85"/><circle cx="429.5" cy="286.2" r="2.85"/><circle cx="429.5" cy="290" r="2.85"/><circle cx="429.5" cy="296.2" r="2.85"/><circle cx="448" cy="252.5" r="2.85"/><circle cx="448" cy="262.5" r="2.85"/><circle cx="448" cy="268.8" r="2.85"/><circle cx="448" cy="275" r="2.85"/><circle cx="448" cy="278.8" r="2.85"/><circle cx="470" cy="235" r="2.85"/><circle cx="470" cy="236.2" r="2.85"/><circle cx="470" cy="250" r="2.85"/><circle cx="470" cy="253.8" r="2.85"/><circle cx="470" cy="257.5" r="2.85"/><circle cx="470" cy="261.2" r="2.85"/><circle cx="483.2" cy="235" r="2.85"/><circle cx="483.2" cy="238.8" r="2.85"/><circle cx="483.2" cy="243.8" r="2.85"/><circle cx="483.2" cy="250" r="2.85"/><circle cx="483.2" cy="255" r="2.85"/><circle cx="483.2" cy="258.8" r="2.85"/><circle cx="540" cy="234.8" r="2.85"/><circle cx="540" cy="237" r="2.85"/><circle cx="540" cy="239.1" r="2.85"/><circle cx="540" cy="241.3" r="2.85"/><circle cx="540" cy="244.5" r="2.85"/><circle cx="562" cy="263.9" r="2.85"/><circle cx="562" cy="267.1" r="2.85"/><circle cx="562" cy="273.6" r="2.85"/><circle cx="562" cy="276.8" r="2.85"/><circle cx="562" cy="284.4" r="2.85"/><circle cx="599.7" cy="252.1" r="2.85"/><circle cx="599.7" cy="265" r="2.85"/><circle cx="599.7" cy="267.1" r="2.85"/><circle cx="599.7" cy="269.3" r="2.85"/><circle cx="599.7" cy="271.4" r="2.85"/><circle cx="599.7" cy="280" r="2.85"/><circle cx="599.7" cy="299.9" r="2.85"/><circle cx="634.8" cy="276.8" r="2.85"/><circle cx="634.8" cy="287.6" r="2.85"/><circle cx="634.8" cy="289.7" r="2.85"/><circle cx="634.8" cy="293" r="2.85"/><circle cx="634.8" cy="296.2" r="2.85"/><circle cx="634.8" cy="300.5" r="2.85"/><circle cx="634.8" cy="304.8" r="2.85"/><circle cx="634.8" cy="310.2" r="2.85"/><circle cx="683.2" cy="289.7" r="2.85"/><circle cx="683.2" cy="310.2" r="2.85"/><circle cx="683.2" cy="314.5" r="2.85"/><circle cx="683.2" cy="318.8" r="2.85"/><circle cx="683.2" cy="322" r="2.85"/><circle cx="683.2" cy="324.2" r="2.85"/><circle cx="683.2" cy="331.7" r="2.85"/><circle cx="683.2" cy="338.2" r="2.85"/><circle cx="772.2" cy="312.3" r="2.85"/><circle cx="772.2" cy="330.6" r="2.85"/><circle cx="772.2" cy="333.9" r="2.85"/><circle cx="772.2" cy="337.1" r="2.85"/><circle cx="772.2" cy="340.3" r="2.85"/><circle cx="791.3" cy="336" r="2.85"/><circle cx="791.3" cy="339.3" r="2.85"/><circle cx="791.3" cy="342.5" r="2.85"/><circle cx="791.3" cy="344.6" r="2.85"/></g>
<path d="M381.5 332.5 C382 331.9 383.3 330.5 384.6 328.9 C386 327.4 387.9 325.2 389.6 323.3 C391.3 321.4 392.9 319.6 394.6 317.7 C396.2 315.8 397.9 314 399.6 312.1 C401.2 310.2 402.9 308.4 404.6 306.5 C406.2 304.7 407.9 302.8 409.6 301 C411.2 299.1 412.9 297.3 414.6 295.5 C416.2 293.7 417.9 291.9 419.6 290.1 C421.2 288.3 422.9 286.6 424.6 284.8 C426.2 283.1 427.9 281.4 429.6 279.7 C431.3 278 432.9 276.4 434.6 274.7 C436.3 273.1 437.9 271.5 439.6 269.9 C441.3 268.3 443 266.7 444.7 265.2 C446.3 263.7 448 262.2 449.6 260.7 C451.3 259.2 452.9 257.7 454.6 256.3 C456.2 254.8 457.8 253.5 459.5 252.1 C461.2 250.8 462.8 249.5 464.5 248.3 C466.2 247.1 467.8 246 469.5 244.9 C471.2 243.8 472.9 242.8 474.6 241.9 C476.4 240.9 478.1 240.1 479.9 239.3 C481.6 238.6 483.4 237.9 485.1 237.3 C486.9 236.6 488.7 236.1 490.5 235.7 C492.2 235.2 494 234.8 495.8 234.6 C497.6 234.3 499.4 234 501.2 233.9 C503 233.8 504.8 233.8 506.6 233.9 C508.4 233.9 510.2 234.1 512 234.3 C513.8 234.6 515.6 234.9 517.3 235.2 C519.1 235.6 520.9 236 522.7 236.5 C524.4 237 526.2 237.6 527.9 238.2 C529.7 238.8 531.4 239.5 533.1 240.2 C534.9 240.9 536.6 241.7 538.3 242.5 C540 243.3 541.7 244.1 543.4 245 C545.1 245.8 546.8 246.7 548.5 247.6 C550.2 248.5 551.8 249.5 553.5 250.4 C555.2 251.3 556.8 252.2 558.5 253.2 C560.2 254.1 561.8 255 563.5 255.9 C565.1 256.9 566.8 257.8 568.4 258.7 C570.1 259.6 571.8 260.5 573.4 261.4 C575.1 262.3 576.8 263.2 578.4 264.2 C580.1 265.1 581.7 266 583.4 266.9 C585.1 267.8 586.7 268.7 588.4 269.6 C590 270.5 591.6 271.4 593.3 272.2 C594.9 273 596.5 273.8 598.2 274.6 C599.8 275.4 601.4 276.2 603.1 277 C604.7 277.7 606.4 278.4 608 279.2 C609.6 279.9 611.3 280.6 612.9 281.3 C614.6 281.9 616.2 282.6 617.9 283.3 C619.5 283.9 621.2 284.6 622.8 285.3 C624.5 285.9 626.2 286.6 627.9 287.3 C629.5 287.9 631.2 288.6 632.9 289.3 C634.6 290 636.2 290.8 637.9 291.5 C639.6 292.2 641.3 293 643 293.7 C644.7 294.4 646.5 295 648.2 295.7 C649.9 296.4 651.7 297.2 653.4 297.9 C655.1 298.6 656.8 299.3 658.5 300 C660.2 300.7 661.9 301.4 663.6 302 C665.3 302.7 667 303.3 668.6 304 C670.3 304.6 672 305.2 673.6 305.8 C675.3 306.3 676.9 306.9 678.6 307.4 C680.2 307.9 681.8 308.4 683.5 308.8 C685.1 309.3 686.7 309.7 688.3 310.1 C689.9 310.5 691.5 310.8 693.2 311.2 C694.8 311.5 696.4 311.8 698.1 312.1 C699.7 312.4 701.4 312.7 703.1 313 C704.8 313.3 706.4 313.6 708.1 313.9 C709.8 314.2 711.5 314.5 713.1 314.8 C714.8 315.1 716.5 315.3 718.1 315.6 C719.8 315.9 721.4 316.2 723.1 316.5 C724.7 316.8 726.4 317.2 728 317.6 C729.6 317.9 731.3 318.3 732.9 318.6 C734.6 319 736.2 319.3 737.8 319.6 C739.5 319.9 741.1 320.3 742.8 320.6 C744.4 320.9 746.1 321.2 747.7 321.5 C749.4 321.8 751 322.1 752.7 322.4 C754.3 322.7 755.9 323 757.6 323.3 C759.2 323.6 760.9 323.9 762.5 324.2 C764.1 324.5 765.8 324.7 767.4 325.1 C769 325.5 770.6 326 772.3 326.5 C773.9 326.9 775.5 327.4 777.1 327.8 C778.8 328.3 780.4 328.7 782 329.2 C783.7 329.6 785.4 330.1 786.9 330.5 C788.5 330.9 790.6 331.5 791.3 331.7 L791.3 340.4 C790.4 340.4 787.5 340.3 785.7 340.3 C783.9 340.3 782.3 340.3 780.6 340.3 C778.9 340.4 777.2 340.4 775.5 340.4 C773.8 340.4 772.1 340.4 770.4 340.4 C768.7 340.4 766.9 340.5 765.2 340.4 C763.5 340.3 761.8 340.1 760.1 339.9 C758.5 339.7 756.8 339.4 755.1 339.2 C753.4 338.9 751.7 338.7 750 338.4 C748.3 338.2 746.6 337.9 744.9 337.7 C743.3 337.4 741.6 337.1 739.9 336.9 C738.2 336.6 736.5 336.3 734.8 336 C733.1 335.7 731.5 335.5 729.8 335.2 C728.1 334.9 726.4 334.6 724.7 334.3 C723 333.9 721.3 333.7 719.6 333.3 C717.9 332.9 716.2 332.5 714.6 332.1 C712.9 331.6 711.2 331.1 709.6 330.7 C707.9 330.2 706.2 329.8 704.6 329.3 C702.9 328.8 701.3 328.3 699.6 327.9 C698 327.4 696.3 326.9 694.6 326.4 C692.9 325.9 691.3 325.4 689.5 324.9 C687.8 324.3 686.1 323.8 684.4 323.2 C682.7 322.6 681 321.9 679.3 321.3 C677.5 320.6 675.8 319.9 674.1 319.1 C672.4 318.4 670.8 317.6 669.1 316.7 C667.4 315.9 665.7 315.1 664.1 314.2 C662.4 313.4 660.8 312.5 659.1 311.6 C657.5 310.7 655.9 309.8 654.2 308.9 C652.6 308 651 307.1 649.4 306.2 C647.7 305.3 646.1 304.4 644.5 303.5 C642.9 302.7 641.3 301.8 639.7 300.9 C638.1 300.1 636.5 299.4 634.8 298.7 C633.2 298 631.5 297.3 629.9 296.6 C628.2 295.9 626.6 295.3 624.9 294.6 C623.3 294 621.6 293.3 619.9 292.7 C618.3 292 616.6 291.4 614.9 290.7 C613.2 290.1 611.5 289.4 609.8 288.7 C608.2 288 606.5 287.3 604.8 286.6 C603.1 285.9 601.4 285.2 599.7 284.4 C598 283.6 596.3 282.9 594.6 282.1 C592.9 281.3 591.2 280.4 589.5 279.6 C587.8 278.7 586.1 277.9 584.4 277 C582.8 276.1 581.1 275.2 579.4 274.3 C577.7 273.4 576.1 272.5 574.4 271.6 C572.7 270.7 571 269.8 569.4 268.9 C567.7 268 566 267.1 564.4 266.2 C562.7 265.3 561 264.4 559.4 263.5 C557.7 262.6 556 261.7 554.3 260.8 C552.7 259.9 551 259 549.3 258.1 C547.7 257.3 546 256.4 544.3 255.5 C542.7 254.7 541 253.9 539.4 253.1 C537.8 252.3 536.1 251.5 534.5 250.8 C532.9 250.1 531.3 249.4 529.7 248.8 C528.1 248.2 526.5 247.6 524.9 247.1 C523.3 246.6 521.8 246.1 520.2 245.8 C518.6 245.4 517.1 245 515.5 244.7 C514 244.5 512.4 244.2 510.9 244.1 C509.3 243.9 507.8 243.8 506.2 243.8 C504.7 243.7 503.2 243.7 501.7 243.8 C500.1 243.8 498.6 243.9 497.1 244 C495.5 244.1 494 244.4 492.4 244.6 C490.9 244.9 489.3 245.3 487.7 245.7 C486.2 246.1 484.6 246.6 483 247.2 C481.4 247.7 479.9 248.4 478.2 249.1 C476.6 249.9 475 250.6 473.4 251.5 C471.7 252.4 470.1 253.3 468.4 254.3 C466.7 255.3 465.1 256.3 463.4 257.5 C461.7 258.6 460 259.8 458.3 261 C456.7 262.2 454.9 263.5 453.3 264.9 C451.6 266.2 449.9 267.7 448.3 269.2 C446.6 270.7 445 272.2 443.3 273.8 C441.6 275.3 440 276.9 438.3 278.5 C436.7 280.1 435 281.8 433.3 283.4 C431.7 285.1 430 286.8 428.4 288.5 C426.7 290.2 425 291.9 423.4 293.7 C421.7 295.4 420 297.2 418.4 299 C416.7 300.8 415.1 302.6 413.4 304.5 C411.7 306.3 410.1 308.1 408.4 310 C406.7 311.8 405 313.7 403.4 315.5 C401.7 317.4 400 319.2 398.4 321.1 C396.7 323 395 324.8 393.4 326.7 C391.7 328.6 390.3 330.1 388.4 332.3 C386.4 334.5 382.6 338.7 381.5 340 Z" fill="#eba280" fill-opacity="0.45"/>
<path d="M381.5 336.2 C382.3 335.3 384.8 332.5 386.5 330.6 C388.1 328.7 389.8 326.9 391.5 325 C393.1 323.1 394.8 321.3 396.5 319.4 C398.1 317.5 399.8 315.7 401.5 313.8 C403.1 311.9 404.8 310.1 406.5 308.2 C408.1 306.4 409.8 304.6 411.5 302.7 C413.1 300.9 414.8 299.1 416.5 297.3 C418.1 295.5 419.8 293.7 421.5 291.9 C423.1 290.1 424.8 288.4 426.5 286.7 C428.1 284.9 429.8 283.2 431.5 281.6 C433.1 279.9 434.8 278.2 436.5 276.6 C438.1 275 439.8 273.4 441.5 271.8 C443.1 270.2 444.8 268.7 446.5 267.2 C448.1 265.7 449.8 264.2 451.5 262.8 C453.1 261.3 454.8 260 456.5 258.6 C458.1 257.3 459.8 256 461.5 254.8 C463.1 253.6 464.8 252.4 466.4 251.3 C468.1 250.2 469.8 249.2 471.4 248.2 C473.1 247.2 474.8 246.3 476.4 245.5 C478.1 244.7 479.8 243.9 481.4 243.3 C483.1 242.6 484.8 242 486.4 241.5 C488.1 240.9 489.8 240.5 491.4 240.1 C493.1 239.8 494.8 239.5 496.4 239.3 C498.1 239.1 499.8 238.9 501.4 238.8 C503.1 238.8 504.8 238.8 506.4 238.8 C508.1 238.9 509.8 239 511.4 239.2 C513.1 239.4 514.8 239.7 516.4 240 C518.1 240.3 519.8 240.7 521.4 241.1 C523.1 241.6 524.8 242.1 526.4 242.6 C528.1 243.2 529.8 243.8 531.4 244.5 C533.1 245.2 534.8 245.9 536.4 246.6 C538.1 247.4 539.8 248.2 541.4 249 C543.1 249.8 544.7 250.7 546.4 251.6 C548.1 252.5 549.7 253.4 551.4 254.3 C553.1 255.2 554.7 256.1 556.4 257 C558.1 257.9 559.7 258.8 561.4 259.7 C563.1 260.6 564.7 261.5 566.4 262.4 C568.1 263.3 569.7 264.2 571.4 265.1 C573.1 266 574.7 267 576.4 267.9 C578.1 268.8 579.7 269.7 581.4 270.6 C583.1 271.5 584.7 272.4 586.4 273.3 C588.1 274.2 589.7 275 591.4 275.9 C593.1 276.7 594.7 277.6 596.4 278.4 C598.1 279.2 599.7 279.9 601.4 280.7 C603.1 281.4 604.7 282.2 606.4 282.9 C608.1 283.6 609.7 284.3 611.4 285 C613.1 285.7 614.7 286.3 616.4 287 C618.1 287.7 619.7 288.3 621.4 289 C623.1 289.6 624.7 290.3 626.4 290.9 C628 291.6 629.7 292.3 631.4 293 C633 293.7 634.7 294.4 636.4 295.1 C638 295.8 639.7 296.5 641.4 297.3 C643 298.1 644.7 298.9 646.4 299.6 C648 300.4 649.7 301.2 651.4 302 C653 302.8 654.7 303.6 656.4 304.4 C658 305.2 659.7 306 661.4 306.8 C663 307.6 664.7 308.4 666.4 309.1 C668 309.8 669.7 310.6 671.4 311.3 C673 311.9 674.7 312.6 676.4 313.2 C678 313.9 679.7 314.5 681.4 315 C683 315.6 684.7 316.1 686.4 316.6 C688 317.1 689.7 317.6 691.4 318 C693 318.5 694.7 318.9 696.4 319.3 C698 319.7 699.7 320.1 701.4 320.4 C703 320.8 704.7 321.2 706.4 321.6 C708 322 709.7 322.4 711.3 322.7 C713 323.1 714.7 323.5 716.3 323.8 C718 324.2 719.7 324.6 721.3 324.9 C723 325.2 724.7 325.6 726.3 325.9 C728 326.2 729.7 326.6 731.3 326.9 C733 327.2 734.7 327.5 736.3 327.8 C738 328.1 739.7 328.4 741.3 328.7 C743 329 744.7 329.3 746.3 329.6 C748 329.9 749.7 330.2 751.3 330.4 C753 330.7 754.7 331 756.3 331.3 C758 331.5 759.7 331.8 761.3 332 C763 332.3 764.7 332.5 766.3 332.8 C768 333 769.7 333.2 771.3 333.4 C773 333.7 774.7 333.9 776.3 334.1 C778 334.3 779.7 334.5 781.3 334.7 C783 335 784.7 335.2 786.3 335.4 C788 335.6 790.5 335.9 791.3 336" stroke="#000" stroke-width="1.5" fill="none"/>
<g fill="#95c3de"><use href="#td" x="488.8" y="325.5"/><use href="#td" x="488.8" y="338.8"/><use href="#td" x="510" y="315.5"/><use href="#td" x="510" y="337.5"/><use href="#td" x="528.8" y="302.5"/><use href="#td" x="528.8" y="312.5"/><use href="#td" x="530" y="336.2"/><use href="#td" x="530" y="340"/><use href="#td" x="529.7" y="301.6"/><use href="#td" x="529.7" y="337.1"/><use href="#td" x="548" y="271.4"/><use href="#td" x="548" y="283.3"/><use href="#td" x="548" y="300.5"/><use href="#td" x="548" y="314.5"/><use href="#td" x="548" y="343.6"/><use href="#td" x="564.1" y="248.8"/><use href="#td" x="564.1" y="274.7"/><use href="#td" x="564.1" y="294"/><use href="#td" x="591.1" y="240.2"/><use href="#td" x="591.1" y="243.4"/><use href="#td" x="591.1" y="258.5"/><use href="#td" x="591.1" y="263.9"/><use href="#td" x="609.4" y="235.9"/><use href="#td" x="644.9" y="253.1"/><use href="#td" x="644.9" y="261.7"/><use href="#td" x="685.8" y="259.6"/><use href="#td" x="685.8" y="273.6"/><use href="#td" x="686.5" y="241.3"/><use href="#td" x="718.3" y="272.5"/><use href="#td" x="724.1" y="268.2"/><use href="#td" x="724.1" y="281.1"/><use href="#td" x="757.5" y="290.8"/><use href="#td" x="757.5" y="300.5"/><use href="#td" x="757.5" y="307"/><use href="#td" x="778" y="317.7"/><use href="#td" x="778" y="322"/></g>
<g fill="#2468ad"><use href="#tu" x="545.8" y="329.6"/><use href="#tu" x="575.6" y="302.7"/><use href="#tu" x="575.6" y="307"/><use href="#tu" x="575.6" y="326.3"/><use href="#tu" x="594.3" y="282.2"/><use href="#tu" x="594.3" y="286.5"/><use href="#tu" x="594.3" y="293"/><use href="#tu" x="594.3" y="307"/><use href="#tu" x="618.6" y="253.1"/><use href="#tu" x="618.6" y="266.1"/><use href="#tu" x="618.6" y="271.4"/><use href="#tu" x="634.8" y="233.8"/><use href="#tu" x="634.8" y="245.6"/><use href="#tu" x="634.8" y="253.1"/><use href="#tu" x="653.5" y="233.8"/><use href="#tu" x="653.5" y="247.8"/><use href="#tu" x="653.5" y="254.2"/><use href="#tu" x="675" y="233.8"/><use href="#tu" x="675" y="246.7"/><use href="#tu" x="702.2" y="240.2"/><use href="#tu" x="702.2" y="246.7"/><use href="#tu" x="702.2" y="251.4"/><use href="#tu" x="718.3" y="262.8"/><use href="#tu" x="718.3" y="280"/><use href="#tu" x="739.9" y="280"/><use href="#tu" x="739.9" y="285.4"/><use href="#tu" x="739.9" y="293"/><use href="#tu" x="778" y="298.3"/><use href="#tu" x="794.1" y="308"/><use href="#tu" x="794.1" y="315.6"/><use href="#tu" x="794.1" y="318.8"/><use href="#tu" x="794.1" y="323.1"/></g>
<path d="M545.8 322.9 C546 323 545.9 323.7 547 323.6 C548.1 323.6 550.6 322.9 552.3 322.4 C554.1 322 555.9 321.6 557.6 320.9 C559.2 320.3 560.8 319.4 562.4 318.6 C564.1 317.7 565.7 316.8 567.3 315.7 C569 314.6 570.6 313.5 572.3 312.2 C573.9 310.8 575.6 309.4 577.3 307.8 C579 306.1 580.6 304.2 582.2 302.3 C583.8 300.3 585.5 298.2 587.2 296.1 C588.8 293.9 590.5 291.6 592.2 289.3 C593.9 287 595.6 284.5 597.3 282.2 C599 279.8 600.7 277.4 602.4 275 C604.1 272.7 605.8 270.4 607.5 268.1 C609.2 265.8 610.8 263.5 612.4 261.4 C614.1 259.3 615.7 257.2 617.4 255.3 C619.1 253.4 620.8 251.6 622.5 249.9 C624.2 248.2 625.9 246.6 627.6 245.2 C629.3 243.8 631.1 242.5 632.9 241.4 C634.7 240.2 636.5 239.2 638.3 238.3 C640.1 237.4 641.9 236.7 643.7 236.1 C645.5 235.4 647.3 234.9 649.1 234.5 C650.9 234.1 652.7 233.9 654.5 233.7 C656.3 233.5 658.1 233.4 659.9 233.3 C661.7 233.3 663.4 233.3 665.2 233.3 C667 233.4 668.7 233.5 670.5 233.7 C672.3 233.9 674.1 234.2 675.9 234.5 C677.6 234.8 679.4 235.2 681.2 235.7 C683.1 236.2 684.9 236.8 686.7 237.5 C688.5 238.2 690.3 239 692.1 239.9 C693.9 240.8 695.7 241.9 697.5 243 C699.2 244.1 701 245.3 702.7 246.6 C704.4 247.9 706.1 249.3 707.8 250.7 C709.5 252.1 711.2 253.6 712.8 255.2 C714.5 256.7 716.2 258.3 717.8 259.9 C719.5 261.4 721.1 263.1 722.7 264.7 C724.4 266.3 726 267.9 727.6 269.6 C729.2 271.2 730.9 272.8 732.5 274.3 C734.1 275.9 735.7 277.4 737.3 278.9 C738.9 280.4 740.5 281.8 742.1 283.2 C743.7 284.6 745.3 285.9 746.9 287.1 C748.5 288.4 750.1 289.5 751.7 290.7 C753.3 291.8 754.9 292.8 756.5 293.8 C758.1 294.8 759.7 295.8 761.3 296.7 C762.9 297.6 764.5 298.4 766.1 299.2 C767.8 300.1 769.4 300.9 771 301.6 C772.6 302.4 774.3 303.1 775.9 303.9 C777.5 304.6 779.2 305.3 780.8 306 C782.5 306.8 784.1 307.5 785.8 308.2 C787.4 308.9 789.4 309.8 790.8 310.4 C792.1 311 793.6 311.6 794.1 311.9 L794.1 320.6 C793 320.1 789.5 318.5 787.5 317.7 C785.6 316.9 784.2 316.3 782.6 315.5 C780.9 314.8 779.3 314.1 777.6 313.4 C775.9 312.6 774.3 311.9 772.6 311.2 C770.9 310.4 769.3 309.6 767.6 308.9 C765.9 308.1 764.2 307.2 762.5 306.4 C760.8 305.5 759.1 304.6 757.4 303.7 C755.7 302.7 754 301.7 752.3 300.6 C750.6 299.5 748.8 298.4 747.1 297.2 C745.4 296 743.7 294.8 742 293.5 C740.3 292.1 738.6 290.8 736.9 289.4 C735.2 288 733.5 286.5 731.8 285.1 C730.1 283.6 728.4 282.1 726.7 280.5 C725 279 723.3 277.5 721.6 275.9 C719.9 274.3 718.2 272.8 716.5 271.2 C714.8 269.7 713.2 268.1 711.5 266.6 C709.9 265.2 708.2 263.7 706.6 262.3 C704.9 260.9 703.3 259.5 701.6 258.3 C700 257 698.4 255.8 696.8 254.7 C695.2 253.5 693.7 252.4 692.1 251.5 C690.6 250.5 689.1 249.6 687.6 248.8 C686.1 248.1 684.6 247.4 683.1 246.8 C681.6 246.3 680.1 245.8 678.6 245.4 C677.1 244.9 675.5 244.6 674 244.3 C672.5 244 671 243.8 669.4 243.7 C667.9 243.5 666.4 243.4 664.8 243.3 C663.3 243.3 661.7 243.3 660.2 243.3 C658.7 243.4 657.1 243.5 655.6 243.6 C654.1 243.8 652.6 244 651.1 244.3 C649.6 244.6 648.1 244.9 646.6 245.3 C645.1 245.7 643.6 246.2 642.1 246.8 C640.6 247.4 639.1 248.2 637.6 249 C636 249.9 634.5 250.9 632.9 252 C631.3 253.2 629.7 254.5 628.1 255.9 C626.5 257.3 624.9 258.9 623.2 260.6 C621.6 262.3 620 264.2 618.3 266.2 C616.6 268.1 614.9 270.2 613.3 272.4 C611.7 274.6 610.1 277 608.5 279.3 C606.9 281.7 605.3 284.1 603.7 286.6 C602 289 600.4 291.5 598.8 293.9 C597.2 296.3 595.5 298.7 593.9 301 C592.2 303.3 590.6 305.6 588.9 307.7 C587.3 309.9 585.5 311.9 583.9 313.8 C582.2 315.8 580.6 317.7 579 319.4 C577.3 321.1 575.7 322.8 574 324.3 C572.3 325.8 570.6 327.2 569 328.5 C567.3 329.8 565.5 330.9 563.9 332.1 C562.3 333.4 560.7 334.7 559.2 335.9 C557.6 337.1 556.8 338 554.6 339.5 C552.4 341 547.3 344 545.8 344.9 Z" fill="#2468ad" fill-opacity="0.5"/>
<path d="M488.7 325.8 C489.1 325.7 489.7 325.8 491 325.6 C492.2 325.4 494.3 324.9 495.9 324.5 C497.6 324.1 499.2 323.7 500.8 323.3 C502.4 322.8 504 322.4 505.6 321.8 C507.2 321.2 508.8 320.5 510.3 319.7 C511.9 319 513.4 318.1 515 317.2 C516.6 316.3 518.1 315.3 519.7 314.1 C521.3 313 522.9 311.8 524.5 310.4 C526.1 309.1 527.8 307.6 529.4 306.1 C531 304.6 532.7 302.9 534.3 301.2 C536 299.5 537.7 297.7 539.4 295.9 C541 294 542.7 292.1 544.4 290.2 C546.1 288.3 547.8 286.4 549.6 284.4 C551.3 282.5 553 280.6 554.7 278.7 C556.4 276.9 558.2 275 559.9 273.2 C561.6 271.4 563.3 269.6 565 267.8 C566.7 266 568.3 264.3 570 262.5 C571.7 260.8 573.4 259 575.1 257.3 C576.8 255.5 578.6 253.8 580.3 252.1 C582 250.5 583.7 248.8 585.4 247.2 C587.1 245.6 588.8 244.1 590.5 242.8 C592.3 241.4 594.1 240.1 595.9 239 C597.7 237.9 599.5 236.9 601.4 236.1 C603.2 235.3 605.1 234.6 607 234 C608.9 233.5 610.7 233 612.6 232.7 C614.5 232.4 616.4 232.1 618.2 232 C620.1 231.9 621.9 232 623.7 232.1 C625.5 232.2 627.3 232.4 629.1 232.7 C630.9 232.9 632.7 233.2 634.5 233.6 C636.2 233.9 638 234.3 639.7 234.7 C641.5 235.2 643.2 235.7 644.9 236.1 C646.6 236.6 648.3 237.2 650 237.7 C651.7 238.2 653.4 238.8 655 239.3 C656.7 239.9 658.4 240.4 660.1 241 C661.7 241.5 663.4 242.1 665 242.7 C666.7 243.2 668.3 243.8 670 244.4 C671.6 244.9 673.3 245.5 674.9 246 C676.6 246.6 678.2 247.1 679.9 247.6 C681.5 248.2 683.2 248.7 684.9 249.3 C686.6 249.8 688.3 250.4 690.1 251 C691.8 251.6 693.6 252.3 695.3 253 C697 253.8 698.8 254.5 700.5 255.4 C702.3 256.2 704 257.1 705.7 258 C707.4 258.9 709.2 259.8 710.9 260.8 C712.6 261.8 714.3 262.8 716 263.8 C717.7 264.8 719.4 265.9 721.1 266.9 C722.7 268 724.4 269.1 726.1 270.2 C727.8 271.3 729.5 272.4 731.2 273.5 C732.8 274.7 734.5 275.8 736.2 276.9 C737.8 278.1 739.5 279.2 741.2 280.3 C742.8 281.5 744.5 282.6 746.1 283.8 C747.8 285 749.4 286.1 751.1 287.3 C752.8 288.4 754.4 289.6 756.1 290.8 C757.7 292 759.4 293.1 761 294.3 C762.7 295.5 764.3 296.7 766 297.9 C767.7 299.1 769.3 300.3 771 301.5 C772.6 302.7 774.8 304.3 776 305.2 C777.1 306.1 777.6 306.5 778 306.8 L778 319.2 C776.6 318.2 772.2 315 770 313.4 C767.8 311.8 766.7 311 765 309.9 C763.3 308.7 761.7 307.5 760 306.4 C758.3 305.2 756.7 304.1 755 302.9 C753.3 301.8 751.7 300.7 750 299.5 C748.3 298.4 746.7 297.3 745 296.2 C743.3 295 741.6 293.9 740 292.8 C738.3 291.7 736.6 290.6 735 289.4 C733.3 288.3 731.6 287.2 730 286 C728.3 284.9 726.7 283.8 725 282.7 C723.4 281.6 721.7 280.5 720.1 279.4 C718.5 278.3 716.8 277.3 715.2 276.2 C713.5 275.2 711.9 274.2 710.3 273.2 C708.7 272.2 707 271.3 705.4 270.4 C703.8 269.4 702.2 268.5 700.6 267.7 C699 266.9 697.4 266.1 695.8 265.3 C694.2 264.5 692.6 263.8 691.1 263.2 C689.5 262.5 687.9 261.9 686.3 261.3 C684.7 260.8 683.1 260.2 681.5 259.7 C679.9 259.2 678.2 258.7 676.6 258.2 C674.9 257.7 673.2 257.2 671.5 256.7 C669.9 256.2 668.2 255.7 666.5 255.2 C664.8 254.7 663.2 254.2 661.5 253.7 C659.8 253.2 658.2 252.6 656.5 252.1 C654.8 251.6 653.2 251.1 651.5 250.7 C649.9 250.2 648.2 249.7 646.6 249.2 C645 248.8 643.3 248.3 641.7 247.9 C640.1 247.5 638.5 247.2 636.9 246.8 C635.3 246.5 633.8 246.2 632.2 245.9 C630.7 245.7 629.1 245.4 627.6 245.3 C626 245.1 624.5 245 623 244.9 C621.5 244.9 620 244.8 618.5 244.8 C617.1 244.8 615.6 244.8 614.2 244.9 C612.7 244.9 611.3 245.1 609.8 245.4 C608.4 245.6 606.9 246 605.5 246.4 C604 246.9 602.5 247.5 601 248.2 C599.5 249 597.9 249.9 596.3 250.9 C594.8 251.9 593.1 253 591.5 254.3 C589.9 255.6 588.2 257.1 586.6 258.6 C585 260.2 583.4 262 581.8 263.7 C580.2 265.4 578.6 267.2 576.9 269 C575.3 270.8 573.7 272.6 572 274.4 C570.4 276.2 568.8 278 567.2 279.8 C565.5 281.6 563.9 283.5 562.3 285.4 C560.7 287.3 559.1 289.3 557.5 291.2 C555.9 293.2 554.3 295.2 552.7 297.2 C551 299.2 549.4 301.3 547.8 303.2 C546.1 305.2 544.5 307.2 542.8 309 C541.1 310.9 539.5 312.8 537.8 314.5 C536.1 316.3 534.4 318 532.7 319.6 C531 321.2 529.3 322.8 527.5 324.2 C525.8 325.7 524 327 522.3 328.3 C520.5 329.5 518.7 330.6 517 331.7 C515.2 332.8 513.4 333.8 511.7 334.7 C509.9 335.7 508.2 336.6 506.5 337.5 C504.8 338.4 503.1 339.2 501.4 340 C499.8 340.8 498.6 341.4 496.4 342.3 C494.3 343.2 490 344.8 488.7 345.3 Z" fill="#95c3de" fill-opacity="0.47"/>
<path d="M545.8 333.9 C546.7 333.5 549.1 332.4 550.8 331.6 C552.5 330.8 554.1 330 555.8 329.2 C557.4 328.3 559.1 327.5 560.7 326.5 C562.4 325.6 564 324.6 565.7 323.5 C567.4 322.4 569 321.3 570.7 320 C572.3 318.7 574 317.3 575.6 315.8 C577.3 314.3 578.9 312.6 580.6 310.8 C582.3 309 583.9 307.1 585.6 305 C587.2 303 588.9 300.8 590.5 298.6 C592.2 296.3 593.8 293.9 595.5 291.6 C597.1 289.2 598.8 286.8 600.5 284.4 C602.1 282 603.8 279.5 605.4 277.2 C607.1 274.8 608.7 272.5 610.4 270.2 C612 268 613.7 265.8 615.4 263.8 C617 261.7 618.7 259.8 620.3 258 C622 256.2 623.6 254.5 625.3 252.9 C626.9 251.3 628.6 249.9 630.3 248.6 C631.9 247.3 633.6 246.2 635.2 245.2 C636.9 244.2 638.5 243.3 640.2 242.6 C641.8 241.8 643.5 241.2 645.1 240.7 C646.8 240.1 648.5 239.7 650.1 239.4 C651.8 239.1 653.4 238.8 655.1 238.6 C656.7 238.5 658.4 238.4 660 238.3 C661.7 238.3 663.4 238.3 665 238.3 C666.7 238.4 668.3 238.5 670 238.7 C671.6 238.9 673.3 239.1 674.9 239.4 C676.6 239.7 678.3 240.1 679.9 240.5 C681.6 241 683.2 241.5 684.9 242.2 C686.5 242.8 688.2 243.5 689.8 244.4 C691.5 245.2 693.1 246.2 694.8 247.2 C696.5 248.3 698.1 249.4 699.8 250.6 C701.4 251.8 703.1 253.1 704.7 254.5 C706.4 255.8 708 257.3 709.7 258.7 C711.4 260.2 713 261.7 714.7 263.3 C716.3 264.8 718 266.4 719.6 268 C721.3 269.5 722.9 271.1 724.6 272.7 C726.3 274.3 727.9 275.9 729.6 277.4 C731.2 279 732.9 280.5 734.5 282 C736.2 283.5 737.8 284.9 739.5 286.3 C741.1 287.7 742.8 289 744.5 290.3 C746.1 291.6 747.8 292.8 749.4 293.9 C751.1 295.1 752.7 296.2 754.4 297.2 C756 298.3 757.7 299.2 759.4 300.2 C761 301.1 762.7 302 764.3 302.8 C766 303.7 767.6 304.5 769.3 305.2 C770.9 306 772.6 306.8 774.3 307.5 C775.9 308.3 777.6 309 779.2 309.7 C780.9 310.4 782.5 311.2 784.2 311.9 C785.8 312.6 787.5 313.3 789.1 314 C790.8 314.8 793.3 315.9 794.1 316.2" stroke="#000" stroke-width="1.5" fill="none"/>
<path d="M488.7 335.5 C489.5 335.3 492 334.5 493.7 333.9 C495.4 333.4 497 332.9 498.7 332.3 C500.3 331.7 502 331.1 503.7 330.4 C505.3 329.7 507 329 508.7 328.2 C510.3 327.5 512 326.6 513.6 325.7 C515.3 324.8 517 323.8 518.6 322.7 C520.3 321.6 522 320.5 523.6 319.2 C525.3 317.9 526.9 316.5 528.6 315 C530.3 313.5 531.9 312 533.6 310.3 C535.3 308.7 536.9 306.9 538.6 305.1 C540.2 303.3 541.9 301.4 543.6 299.5 C545.2 297.6 546.9 295.7 548.6 293.7 C550.2 291.8 551.9 289.8 553.5 287.8 C555.2 285.9 556.9 284 558.5 282.1 C560.2 280.2 561.9 278.3 563.5 276.5 C565.2 274.7 566.8 272.9 568.5 271.1 C570.2 269.3 571.8 267.5 573.5 265.8 C575.2 264 576.8 262.2 578.5 260.5 C580.1 258.7 581.8 257 583.5 255.4 C585.1 253.8 586.8 252.2 588.5 250.8 C590.1 249.3 591.8 248 593.4 246.8 C595.1 245.6 596.8 244.6 598.4 243.6 C600.1 242.7 601.8 241.9 603.4 241.3 C605.1 240.6 606.7 240.1 608.4 239.7 C610.1 239.3 611.7 239 613.4 238.8 C615.1 238.6 616.7 238.5 618.4 238.4 C620 238.4 621.7 238.4 623.4 238.5 C625 238.6 626.7 238.8 628.3 239 C630 239.2 631.7 239.4 633.3 239.7 C635 240 636.7 240.4 638.3 240.8 C640 241.2 641.6 241.6 643.3 242 C645 242.5 646.6 243 648.3 243.5 C650 244 651.6 244.5 653.3 245 C654.9 245.5 656.6 246 658.3 246.6 C659.9 247.1 661.6 247.6 663.3 248.2 C664.9 248.7 666.6 249.2 668.2 249.8 C669.9 250.3 671.6 250.8 673.2 251.4 C674.9 251.9 676.6 252.4 678.2 252.9 C679.9 253.4 681.5 253.9 683.2 254.5 C684.9 255 686.5 255.6 688.2 256.2 C689.9 256.8 691.5 257.4 693.2 258.1 C694.8 258.8 696.5 259.5 698.2 260.3 C699.8 261.1 701.5 262 703.2 262.8 C704.8 263.7 706.5 264.6 708.1 265.6 C709.8 266.5 711.5 267.5 713.1 268.5 C714.8 269.5 716.5 270.5 718.1 271.6 C719.8 272.6 721.4 273.7 723.1 274.8 C724.8 275.9 726.4 277 728.1 278.1 C729.8 279.2 731.4 280.4 733.1 281.5 C734.7 282.6 736.4 283.8 738.1 284.9 C739.7 286 741.4 287.2 743.1 288.3 C744.7 289.4 746.4 290.6 748 291.7 C749.7 292.9 751.4 294 753 295.2 C754.7 296.3 756.4 297.5 758 298.6 C759.7 299.8 761.3 301 763 302.1 C764.7 303.3 766.3 304.5 768 305.7 C769.7 306.9 771.3 308.1 773 309.3 C774.6 310.5 777.1 312.4 778 313" stroke="#000" stroke-width="1.5" fill="none"/>
</g>
<path d="M168.2 378.7 V530.2 H838" stroke="#111" stroke-width="1.3" fill="none" stroke-linejoin="miter"/><path d="M221.8 530.2 V526.6" stroke="#111" stroke-width="1.1"/><path d="M305.4 530.2 V526.6" stroke="#111" stroke-width="1.1"/><path d="M386.4 530.2 V526.6" stroke="#111" stroke-width="1.1"/><path d="M470 530.2 V526.6" stroke="#111" stroke-width="1.1"/><path d="M551 530.2 V526.6" stroke="#111" stroke-width="1.1"/><path d="M634.6 530.2 V526.6" stroke="#111" stroke-width="1.1"/><path d="M718.2 530.2 V526.6" stroke="#111" stroke-width="1.1"/><path d="M799.2 530.2 V526.6" stroke="#111" stroke-width="1.1"/><path d="M168.2 403.2 H171.8" stroke="#111" stroke-width="1.1"/><text x="162.6" y="408.7" font-size="14" font-weight="normal" fill="#111" text-anchor="end" stroke="#111" stroke-width="0.3">100</text><path d="M168.2 427.5 H171.8" stroke="#111" stroke-width="1.1"/><text x="162.6" y="433" font-size="14" font-weight="normal" fill="#111" text-anchor="end" stroke="#111" stroke-width="0.3">80</text><path d="M168.2 451.8 H171.8" stroke="#111" stroke-width="1.1"/><text x="162.6" y="457.3" font-size="14" font-weight="normal" fill="#111" text-anchor="end" stroke="#111" stroke-width="0.3">60</text><path d="M168.2 476.1 H171.8" stroke="#111" stroke-width="1.1"/><text x="162.6" y="481.6" font-size="14" font-weight="normal" fill="#111" text-anchor="end" stroke="#111" stroke-width="0.3">40</text><path d="M168.2 500.5 H171.8" stroke="#111" stroke-width="1.1"/><text x="162.6" y="506" font-size="14" font-weight="normal" fill="#111" text-anchor="end" stroke="#111" stroke-width="0.3">20</text><path d="M168.2 524.9 H171.8" stroke="#111" stroke-width="1.1"/><text x="162.6" y="530.4" font-size="14" font-weight="normal" fill="#111" text-anchor="end" stroke="#111" stroke-width="0.3">0</text><text transform="translate(133.4 455) rotate(-90)" font-size="14" fill="#111" stroke="#111" stroke-width="0.3" text-anchor="middle">Greenness (%)</text><text x="176.6" y="390.2" font-size="16.5" font-weight="bold" fill="#111" text-anchor="start" stroke="#111" stroke-width="0.3">C</text>
<text x="176.2" y="412.6" font-size="14" font-weight="normal" fill="#111" text-anchor="start" stroke="#111" stroke-width="0.3">All plants</text>
<path d="M168.1 464 H835" stroke="#555" stroke-width="1.3" stroke-dasharray="6.25 4.4" fill="none"/>
<g clip-path="url(#cC)">
<path d="M299.5 384 V530" stroke="#bc1c2e" stroke-width="1.9" stroke-dasharray="3.3 4.8" fill="none"/>
<path d="M453 384 V530" stroke="#eba280" stroke-width="1.9" stroke-dasharray="3.3 4.8" fill="none"/>
<path d="M657.4 384 V530" stroke="#2468ad" stroke-width="1.9" stroke-dasharray="3.3 4.8" fill="none"/>
<g fill="none" stroke="#bc1c2e" stroke-width="1.5"><circle cx="189.5" cy="508.2" r="2.85"/><circle cx="189.5" cy="514.5" r="2.85"/><circle cx="189.5" cy="517.5" r="2.85"/><circle cx="189.5" cy="520.5" r="2.85"/><circle cx="189.5" cy="525" r="2.85"/><circle cx="265" cy="402" r="2.85"/><circle cx="265" cy="407.5" r="2.85"/><circle cx="265" cy="413.8" r="2.85"/><circle cx="265" cy="418.2" r="2.85"/><circle cx="265" cy="428.8" r="2.85"/><circle cx="265" cy="430" r="2.85"/><circle cx="265" cy="445.8" r="2.85"/><circle cx="318.8" cy="402" r="2.85"/><circle cx="318.8" cy="403.2" r="2.85"/><circle cx="318.8" cy="410.8" r="2.85"/><circle cx="373" cy="448.8" r="2.85"/><circle cx="373" cy="451.2" r="2.85"/><circle cx="373" cy="455" r="2.85"/><circle cx="373" cy="458.8" r="2.85"/><circle cx="373" cy="461.2" r="2.85"/><circle cx="373" cy="463.8" r="2.85"/><circle cx="432" cy="487.5" r="2.85"/><circle cx="432" cy="492.5" r="2.85"/><circle cx="432" cy="497.5" r="2.85"/><circle cx="432" cy="501.2" r="2.85"/><circle cx="432" cy="505" r="2.85"/><circle cx="432" cy="510" r="2.85"/><circle cx="485" cy="508.2" r="2.85"/><circle cx="485" cy="511.2" r="2.85"/><circle cx="485" cy="513.8" r="2.85"/><circle cx="485" cy="516.2" r="2.85"/><circle cx="485" cy="518.8" r="2.85"/><circle cx="485" cy="521.2" r="2.85"/><circle cx="540" cy="513.8" r="2.85"/><circle cx="540" cy="520" r="2.85"/><circle cx="540" cy="523.8" r="2.85"/><circle cx="540" cy="525" r="2.85"/><circle cx="540" cy="513.6" r="2.85"/><circle cx="540" cy="519.6" r="2.85"/><circle cx="540" cy="524.3" r="2.85"/><circle cx="540" cy="525.4" r="2.85"/><circle cx="599.7" cy="495.9" r="2.85"/><circle cx="599.7" cy="508.2" r="2.85"/><circle cx="599.7" cy="511.4" r="2.85"/><circle cx="599.7" cy="514.6" r="2.85"/><circle cx="599.7" cy="517.9" r="2.85"/><circle cx="599.7" cy="524.3" r="2.85"/><circle cx="634.8" cy="487.7" r="2.85"/><circle cx="634.8" cy="492" r="2.85"/><circle cx="634.8" cy="498.5" r="2.85"/><circle cx="634.8" cy="502.8" r="2.85"/><circle cx="634.8" cy="505" r="2.85"/><circle cx="634.8" cy="508.8" r="2.85"/><circle cx="672.4" cy="452.6" r="2.85"/><circle cx="672.4" cy="493.1" r="2.85"/><circle cx="672.4" cy="499.6" r="2.85"/><circle cx="672.4" cy="513.1" r="2.85"/><circle cx="683.2" cy="452.2" r="2.85"/><circle cx="683.2" cy="466.2" r="2.85"/><circle cx="683.2" cy="503.9" r="2.85"/><circle cx="772.2" cy="460.2" r="2.85"/><circle cx="772.2" cy="470.1" r="2.85"/><circle cx="772.2" cy="475.9" r="2.85"/><circle cx="772.2" cy="480.2" r="2.85"/><circle cx="772.2" cy="482.3" r="2.85"/><circle cx="791.3" cy="484.1" r="2.85"/><circle cx="791.3" cy="487.7" r="2.85"/><circle cx="791.3" cy="491" r="2.85"/><circle cx="791.3" cy="495.3" r="2.85"/></g>
<path d="M189.5 512 C189.9 511.2 190.9 509.5 192.2 507.4 C193.5 505.3 195.5 501.9 197.1 499.2 C198.7 496.5 200.4 493.8 202 491.1 C203.7 488.5 205.3 485.8 206.9 483.2 C208.6 480.6 210.2 478 211.9 475.4 C213.5 472.9 215.2 470.3 216.8 467.8 C218.5 465.4 220.1 462.9 221.7 460.5 C223.4 458.1 225 455.7 226.7 453.4 C228.3 451.1 230 448.8 231.6 446.5 C233.3 444.3 234.9 442.2 236.6 440.1 C238.2 438 239.9 435.9 241.6 433.9 C243.2 432 244.9 430 246.6 428.2 C248.2 426.4 249.9 424.6 251.6 422.9 C253.3 421.2 255 419.6 256.6 418.1 C258.3 416.6 260 415.2 261.8 413.8 C263.5 412.4 265.2 411.2 266.9 410 C268.6 408.8 270.4 407.7 272.1 406.7 C273.8 405.7 275.6 404.8 277.3 403.9 C279.1 403.1 280.9 402.3 282.7 401.7 C284.4 401 286.2 400.4 288.1 400 C289.9 399.5 291.7 399.1 293.5 398.8 C295.4 398.6 297.2 398.4 299.1 398.3 C300.9 398.3 302.8 398.4 304.7 398.7 C306.6 398.9 308.4 399.3 310.3 399.8 C312.1 400.3 314 400.9 315.8 401.7 C317.6 402.4 319.4 403.3 321.2 404.2 C323 405.1 324.7 406.2 326.5 407.3 C328.2 408.4 330 409.7 331.7 410.9 C333.4 412.2 335.1 413.6 336.8 414.9 C338.5 416.3 340.1 417.8 341.8 419.2 C343.5 420.6 345.1 422.1 346.8 423.5 C348.5 424.9 350.1 426.4 351.8 427.8 C353.5 429.3 355.1 430.7 356.8 432.2 C358.4 433.7 360.1 435.1 361.8 436.6 C363.4 438 365.1 439.5 366.8 441 C368.4 442.5 370.1 443.9 371.8 445.5 C373.4 447 375.1 448.5 376.8 450.1 C378.5 451.6 380.1 453.2 381.8 454.8 C383.5 456.4 385.2 458 386.8 459.6 C388.5 461.3 390.1 462.9 391.8 464.5 C393.5 466.2 395.1 467.8 396.8 469.4 C398.4 471 400 472.6 401.7 474.1 C403.3 475.6 404.9 477 406.6 478.4 C408.2 479.8 409.8 481.1 411.5 482.4 C413.1 483.7 414.7 484.9 416.3 486 C417.9 487.2 419.6 488.2 421.2 489.2 C422.8 490.3 424.4 491.2 426 492.1 C427.5 493 429.1 493.8 430.7 494.5 C432.3 495.3 433.9 496 435.5 496.6 C437.1 497.3 438.7 497.8 440.2 498.4 C441.8 498.9 443.4 499.4 445 499.9 C446.7 500.4 448.3 500.8 449.9 501.2 C451.5 501.7 453.1 502 454.7 502.4 C456.4 502.8 458 503.1 459.7 503.5 C461.3 503.8 462.9 504.2 464.6 504.5 C466.3 504.8 467.9 505.1 469.6 505.5 C471.3 505.8 472.9 506.1 474.6 506.5 C476.3 506.8 477.9 507.1 479.6 507.5 C481.3 507.8 482.9 508.2 484.6 508.6 C486.3 509 487.9 509.4 489.6 509.7 C491.2 510.1 492.9 510.5 494.5 510.9 C496.2 511.2 497.8 511.6 499.4 511.9 C501.1 512.3 502.7 512.6 504.4 513 C506 513.3 507.6 513.6 509.3 513.9 C510.9 514.2 512.5 514.5 514.2 514.8 C515.8 515.1 517.5 515.4 519.1 515.7 C520.8 515.9 522.4 516.2 524 516.5 C525.7 516.7 527.3 517 528.9 517.2 C530.6 517.4 532.2 517.7 533.8 517.8 C535.4 518 536.9 518.2 538.5 518.3 C540.1 518.4 541.7 518.4 543.3 518.5 C544.8 518.5 546.4 518.5 547.9 518.4 C549.5 518.3 551.1 518.2 552.6 518 C554.2 517.9 555.8 517.6 557.4 517.4 C559 517.1 560.5 516.8 562.1 516.4 C563.7 516.1 565.3 515.7 567 515.3 C568.6 514.9 570.2 514.4 571.8 513.9 C573.4 513.4 575 512.9 576.7 512.4 C578.3 511.9 579.9 511.3 581.5 510.8 C583.2 510.2 584.8 509.6 586.4 509 C588 508.4 589.7 507.7 591.3 507.1 C592.9 506.4 594.6 505.8 596.2 505.1 C597.9 504.4 599.5 503.7 601.1 503 C602.8 502.2 604.4 501.5 606.1 500.8 C607.7 500 609.4 499.3 611 498.5 C612.7 497.7 614.3 497 616 496.2 C617.7 495.4 619.3 494.7 621 493.9 C622.7 493.2 624.4 492.4 626 491.7 C627.7 490.9 629.4 490.2 631.1 489.5 C632.7 488.7 634.4 488 636.1 487.3 C637.8 486.6 639.4 485.9 641.1 485.3 C642.8 484.6 644.5 483.9 646.1 483.2 C647.8 482.6 649.5 481.9 651.2 481.3 C652.9 480.6 654.6 480 656.2 479.4 C657.9 478.8 659.6 478.3 661.3 477.7 C663 477.2 664.7 476.6 666.4 476.1 C668.2 475.6 669.9 475.1 671.6 474.7 C673.3 474.2 675 473.8 676.7 473.4 C678.5 473 680.2 472.7 681.9 472.4 C683.7 472.1 685.4 471.8 687.1 471.6 C688.8 471.4 690.6 471.2 692.3 471 C694 470.9 695.7 470.7 697.4 470.6 C699 470.5 700.7 470.3 702.4 470.2 C704 470.1 705.7 470 707.4 469.9 C709 469.8 710.7 469.6 712.4 469.6 C714.1 469.5 715.8 469.5 717.5 469.5 C719.2 469.5 720.9 469.5 722.6 469.5 C724.3 469.5 726 469.6 727.8 469.6 C729.5 469.7 731.2 469.8 733 470 C734.7 470.1 736.4 470.3 738.2 470.5 C739.9 470.7 741.7 471 743.4 471.3 C745.1 471.6 746.9 471.9 748.6 472.3 C750.3 472.7 752.1 473.1 753.8 473.5 C755.5 474 757.3 474.5 759 475 C760.7 475.5 762.4 476 764.1 476.6 C765.8 477.2 767.5 477.8 769.2 478.4 C770.9 479 772.6 479.7 774.3 480.4 C776 481 777.7 481.7 779.4 482.4 C781 483.1 782.7 483.9 784.4 484.6 C786.1 485.3 787.7 486 789.4 486.8 C791 487.5 792.7 488.2 794.4 489 C796 489.7 797.7 490.5 799.3 491.2 C801 492 802.7 492.7 804.3 493.5 C806 494.2 807.6 495 809.3 495.8 C810.9 496.5 812.6 497.3 814.2 498 C815.9 498.8 817.5 499.5 819.2 500.3 C820.8 501 822.4 501.7 824.1 502.5 C825.7 503.2 827.4 503.9 829 504.6 C830.7 505.4 832.6 506.2 834 506.8 C835.3 507.4 836.6 508 837.2 508.2 L837.2 518 C836 517.6 832.4 516.1 830.4 515.2 C828.4 514.4 827.1 513.9 825.4 513.2 C823.7 512.5 822 511.8 820.4 511.1 C818.7 510.4 817 509.7 815.3 509 C813.7 508.3 812 507.6 810.3 506.9 C808.6 506.1 807 505.4 805.3 504.7 C803.6 504 802 503.3 800.3 502.6 C798.6 501.8 797 501.1 795.3 500.4 C793.6 499.7 792 499 790.3 498.3 C788.6 497.6 787 496.9 785.3 496.2 C783.7 495.5 782 494.9 780.4 494.2 C778.7 493.5 777.1 492.9 775.4 492.2 C773.8 491.6 772.1 491 770.5 490.3 C768.9 489.7 767.2 489.2 765.6 488.6 C764 488 762.4 487.5 760.8 487 C759.2 486.5 757.5 486.1 755.9 485.6 C754.3 485.2 752.7 484.8 751.2 484.4 C749.6 484.1 748 483.7 746.4 483.4 C744.8 483.1 743.2 482.9 741.6 482.7 C740.1 482.4 738.5 482.3 736.9 482.1 C735.3 482 733.7 481.8 732.1 481.8 C730.6 481.7 729 481.6 727.4 481.6 C725.8 481.6 724.2 481.6 722.6 481.6 C721 481.6 719.4 481.6 717.7 481.7 C716.1 481.8 714.5 481.9 712.8 481.9 C711.2 482 709.6 482 707.9 482 C706.3 482.1 704.6 482.1 702.9 482.1 C701.3 482.2 699.6 482.2 698 482.2 C696.4 482.3 694.7 482.3 693.1 482.4 C691.5 482.5 689.9 482.6 688.3 482.7 C686.7 482.8 685.1 483 683.5 483.2 C681.9 483.4 680.4 483.6 678.8 483.9 C677.2 484.1 675.6 484.4 674 484.8 C672.4 485.1 670.7 485.5 669.1 485.9 C667.5 486.3 665.9 486.7 664.3 487.2 C662.7 487.7 661 488.2 659.4 488.7 C657.8 489.3 656.1 489.8 654.5 490.4 C652.9 491 651.2 491.6 649.6 492.2 C647.9 492.8 646.3 493.4 644.6 494 C643 494.7 641.3 495.3 639.7 496 C638 496.7 636.4 497.4 634.8 498.1 C633.1 498.8 631.5 499.5 629.8 500.3 C628.2 501 626.5 501.7 624.9 502.5 C623.2 503.2 621.6 504 619.9 504.7 C618.3 505.5 616.6 506.3 614.9 507 C613.3 507.8 611.6 508.6 609.9 509.3 C608.3 510.1 606.6 510.8 604.9 511.6 C603.2 512.3 601.5 513 599.9 513.7 C598.2 514.5 596.5 515.1 594.8 515.8 C593.1 516.5 591.4 517.2 589.7 517.8 C588 518.4 586.3 519 584.6 519.6 C582.9 520.2 581.3 520.8 579.6 521.3 C577.9 521.9 576.2 522.4 574.5 522.9 C572.8 523.4 571 523.9 569.3 524.4 C567.6 524.8 565.9 525.2 564.2 525.6 C562.5 526 560.7 526.4 559 526.7 C557.2 527 555.5 527.3 553.7 527.5 C552 527.7 550.2 527.9 548.5 528 C546.7 528.1 545 528.2 543.2 528.2 C541.5 528.2 539.7 528.1 538 528 C536.2 527.9 534.5 527.8 532.8 527.6 C531.1 527.5 529.3 527.3 527.6 527.1 C525.9 526.9 524.2 526.6 522.6 526.4 C520.9 526.2 519.2 525.9 517.5 525.7 C515.8 525.4 514.2 525.2 512.5 524.9 C510.8 524.6 509.1 524.3 507.4 524.1 C505.8 523.8 504.1 523.5 502.4 523.2 C500.7 522.9 499 522.5 497.3 522.2 C495.7 521.9 494 521.5 492.3 521.2 C490.6 520.8 489 520.5 487.3 520.1 C485.6 519.8 484 519.4 482.3 519.1 C480.6 518.7 479 518.4 477.3 518 C475.7 517.6 474 517.2 472.4 516.9 C470.7 516.5 469.1 516.1 467.4 515.7 C465.8 515.4 464.1 515 462.4 514.6 C460.8 514.2 459.1 513.9 457.4 513.5 C455.7 513.1 454 512.7 452.4 512.2 C450.7 511.8 449 511.3 447.3 510.8 C445.6 510.4 443.8 509.8 442.1 509.3 C440.4 508.7 438.7 508.1 437 507.5 C435.2 506.8 433.5 506.2 431.8 505.4 C430 504.6 428.3 503.8 426.6 503 C424.8 502.1 423.1 501.1 421.4 500.1 C419.6 499.1 417.9 498 416.2 496.9 C414.5 495.8 412.8 494.5 411.1 493.3 C409.4 492 407.7 490.7 406 489.3 C404.3 487.9 402.6 486.5 400.9 485 C399.2 483.5 397.5 481.9 395.8 480.4 C394.1 478.8 392.5 477.2 390.8 475.6 C389.1 474 387.4 472.3 385.8 470.7 C384.1 469.1 382.4 467.4 380.8 465.8 C379.1 464.2 377.5 462.6 375.8 461.1 C374.2 459.5 372.5 458 370.9 456.4 C369.2 454.9 367.6 453.4 365.9 451.9 C364.3 450.4 362.6 449 361 447.5 C359.3 446 357.7 444.6 356 443.1 C354.4 441.7 352.7 440.2 351 438.8 C349.4 437.4 347.7 435.9 346 434.5 C344.4 433 342.7 431.6 341.1 430.2 C339.4 428.7 337.8 427.3 336.1 426 C334.5 424.6 332.8 423.2 331.2 422 C329.6 420.7 327.9 419.5 326.3 418.3 C324.7 417.2 323.1 416.1 321.6 415.2 C320 414.2 318.4 413.4 316.9 412.6 C315.3 411.8 313.8 411.2 312.3 410.6 C310.8 410 309.3 409.6 307.9 409.2 C306.4 408.9 304.9 408.6 303.5 408.5 C302 408.3 300.6 408.3 299.1 408.3 C297.7 408.3 296.2 408.3 294.7 408.5 C293.2 408.6 291.7 408.8 290.2 409.1 C288.7 409.5 287.2 409.9 285.7 410.3 C284.1 410.8 282.6 411.4 281 412.1 C279.5 412.7 277.9 413.5 276.3 414.3 C274.7 415.1 273.1 416 271.5 417 C269.9 418 268.3 419.1 266.7 420.3 C265.1 421.5 263.5 422.7 261.9 424.1 C260.2 425.5 258.6 426.9 257 428.5 C255.3 430 253.7 431.6 252 433.3 C250.4 435 248.7 436.8 247 438.7 C245.4 440.5 243.7 442.5 242.1 444.5 C240.4 446.5 238.7 448.5 237 450.7 C235.4 452.8 233.7 455 232 457.2 C230.3 459.5 228.7 461.8 227 464.2 C225.3 466.5 223.7 468.9 222 471.3 C220.3 473.8 218.6 476.2 216.9 478.8 C215.3 481.3 213.6 483.8 211.9 486.4 C210.2 488.9 208.6 491.6 206.9 494.2 C205.2 496.8 203.5 499.5 201.8 502.1 C200.1 504.8 198.8 506.9 196.8 510.2 C194.7 513.5 190.7 520 189.5 522 Z" fill="#bc1c2e" fill-opacity="0.5"/>
<path d="M189.5 517 C190.3 515.6 192.8 511.5 194.5 508.8 C196.1 506.1 197.8 503.4 199.5 500.7 C201.1 498 202.8 495.3 204.4 492.7 C206.1 490 207.8 487.4 209.4 484.8 C211.1 482.2 212.7 479.6 214.4 477.1 C216.1 474.6 217.7 472.1 219.4 469.6 C221.1 467.1 222.7 464.7 224.4 462.3 C226 459.9 227.7 457.6 229.4 455.3 C231 453 232.7 450.8 234.3 448.6 C236 446.4 237.7 444.3 239.3 442.3 C241 440.2 242.6 438.2 244.3 436.3 C246 434.4 247.6 432.5 249.3 430.8 C250.9 429 252.6 427.3 254.3 425.7 C255.9 424.1 257.6 422.5 259.2 421.1 C260.9 419.7 262.6 418.3 264.2 417 C265.9 415.8 267.6 414.6 269.2 413.5 C270.9 412.4 272.5 411.4 274.2 410.5 C275.9 409.6 277.5 408.7 279.2 408 C280.8 407.2 282.5 406.6 284.2 406 C285.8 405.4 287.5 404.9 289.1 404.6 C290.8 404.2 292.5 403.9 294.1 403.6 C295.8 403.4 297.4 403.3 299.1 403.3 C300.8 403.3 302.4 403.4 304.1 403.6 C305.7 403.8 307.4 404.1 309.1 404.5 C310.7 405 312.4 405.5 314.1 406.1 C315.7 406.8 317.4 407.5 319 408.4 C320.7 409.2 322.4 410.2 324 411.3 C325.7 412.3 327.3 413.4 329 414.6 C330.7 415.8 332.3 417.1 334 418.5 C335.6 419.8 337.3 421.2 339 422.6 C340.6 424 342.3 425.4 343.9 426.8 C345.6 428.3 347.3 429.7 348.9 431.2 C350.6 432.6 352.2 434.1 353.9 435.5 C355.6 437 357.2 438.4 358.9 439.9 C360.6 441.3 362.2 442.8 363.9 444.2 C365.5 445.7 367.2 447.2 368.9 448.7 C370.5 450.2 372.2 451.7 373.8 453.2 C375.5 454.8 377.2 456.3 378.8 457.9 C380.5 459.5 382.1 461.1 383.8 462.7 C385.5 464.4 387.1 466 388.8 467.6 C390.4 469.2 392.1 470.9 393.8 472.5 C395.4 474.1 397.1 475.7 398.7 477.2 C400.4 478.7 402.1 480.3 403.7 481.7 C405.4 483.1 407.1 484.5 408.7 485.8 C410.4 487.2 412 488.4 413.7 489.6 C415.4 490.9 417 492 418.7 493.1 C420.3 494.1 422 495.2 423.7 496.1 C425.3 497 427 497.9 428.6 498.7 C430.3 499.6 432 500.3 433.6 501 C435.3 501.7 436.9 502.3 438.6 502.9 C440.3 503.5 441.9 504.1 443.6 504.6 C445.2 505.1 446.9 505.6 448.6 506 C450.2 506.5 451.9 506.9 453.6 507.3 C455.2 507.7 456.9 508.1 458.5 508.5 C460.2 508.8 461.9 509.2 463.5 509.6 C465.2 509.9 466.8 510.3 468.5 510.6 C470.2 511 471.8 511.3 473.5 511.7 C475.1 512 476.8 512.4 478.5 512.7 C480.1 513.1 481.8 513.5 483.4 513.8 C485.1 514.2 486.8 514.6 488.4 514.9 C490.1 515.3 491.7 515.7 493.4 516 C495.1 516.4 496.7 516.7 498.4 517.1 C500.1 517.4 501.7 517.7 503.4 518.1 C505 518.4 506.7 518.7 508.4 519 C510 519.3 511.7 519.6 513.3 519.9 C515 520.1 516.7 520.4 518.3 520.7 C520 520.9 521.6 521.2 523.3 521.4 C525 521.7 526.6 521.9 528.3 522.1 C529.9 522.4 531.6 522.6 533.3 522.7 C534.9 522.9 536.6 523.1 538.2 523.1 C539.9 523.2 541.6 523.3 543.2 523.3 C544.9 523.3 546.6 523.3 548.2 523.2 C549.9 523.1 551.5 522.9 553.2 522.8 C554.9 522.6 556.5 522.3 558.2 522 C559.8 521.7 561.5 521.4 563.2 521 C564.8 520.7 566.5 520.3 568.1 519.8 C569.8 519.4 571.5 518.9 573.1 518.4 C574.8 517.9 576.4 517.4 578.1 516.9 C579.8 516.3 581.4 515.8 583.1 515.2 C584.7 514.6 586.4 514 588.1 513.4 C589.7 512.8 591.4 512.1 593.1 511.5 C594.7 510.8 596.4 510.1 598 509.4 C599.7 508.7 601.4 508 603 507.3 C604.7 506.5 606.3 505.8 608 505 C609.7 504.3 611.3 503.5 613 502.8 C614.6 502 616.3 501.2 618 500.5 C619.6 499.7 621.3 498.9 622.9 498.2 C624.6 497.4 626.3 496.7 627.9 496 C629.6 495.2 631.2 494.5 632.9 493.8 C634.6 493.1 636.2 492.4 637.9 491.7 C639.6 491 641.2 490.3 642.9 489.6 C644.5 489 646.2 488.3 647.9 487.7 C649.5 487.1 651.2 486.4 652.8 485.8 C654.5 485.2 656.2 484.6 657.8 484.1 C659.5 483.5 661.1 483 662.8 482.5 C664.5 481.9 666.1 481.5 667.8 481 C669.4 480.5 671.1 480.1 672.8 479.7 C674.4 479.3 676.1 479 677.7 478.7 C679.4 478.3 681.1 478 682.7 477.8 C684.4 477.5 686.1 477.3 687.7 477.2 C689.4 477 691 476.8 692.7 476.7 C694.4 476.6 696 476.5 697.7 476.4 C699.3 476.3 701 476.3 702.7 476.2 C704.3 476.1 706 476 707.6 475.9 C709.3 475.9 711 475.8 712.6 475.7 C714.3 475.7 715.9 475.6 717.6 475.6 C719.3 475.6 720.9 475.5 722.6 475.5 C724.2 475.5 725.9 475.6 727.6 475.6 C729.2 475.7 730.9 475.8 732.6 475.9 C734.2 476 735.9 476.1 737.5 476.3 C739.2 476.5 740.9 476.7 742.5 477 C744.2 477.2 745.8 477.5 747.5 477.9 C749.2 478.2 750.8 478.6 752.5 479 C754.1 479.4 755.8 479.8 757.5 480.3 C759.1 480.8 760.8 481.3 762.4 481.8 C764.1 482.4 765.8 482.9 767.4 483.5 C769.1 484.1 770.7 484.7 772.4 485.4 C774.1 486 775.7 486.7 777.4 487.3 C779.1 488 780.7 488.7 782.4 489.4 C784 490.1 785.7 490.8 787.4 491.5 C789 492.2 790.7 492.9 792.3 493.7 C794 494.4 795.7 495.1 797.3 495.8 C799 496.6 800.6 497.3 802.3 498 C804 498.8 805.6 499.5 807.3 500.2 C808.9 501 810.6 501.7 812.3 502.4 C813.9 503.2 815.6 503.9 817.2 504.6 C818.9 505.3 820.6 506.1 822.2 506.8 C823.9 507.5 825.6 508.2 827.2 508.9 C828.9 509.6 830.5 510.3 832.2 511 C833.9 511.7 836.3 512.8 837.2 513.1" stroke="#000" stroke-width="1.5" fill="none"/>
<g fill="none" stroke="#eba280" stroke-width="1.5"><circle cx="380.8" cy="508.8" r="2.85"/><circle cx="380.8" cy="512.5" r="2.85"/><circle cx="380.8" cy="516.2" r="2.85"/><circle cx="380.8" cy="520" r="2.85"/><circle cx="380.8" cy="523.8" r="2.85"/><circle cx="380.8" cy="525" r="2.85"/><circle cx="429.5" cy="409.5" r="2.85"/><circle cx="429.5" cy="421.2" r="2.85"/><circle cx="429.5" cy="423.8" r="2.85"/><circle cx="483.2" cy="409.5" r="2.85"/><circle cx="483.2" cy="411.2" r="2.85"/><circle cx="483.2" cy="416.2" r="2.85"/><circle cx="483.2" cy="425" r="2.85"/><circle cx="483.2" cy="428.8" r="2.85"/><circle cx="483.2" cy="433.8" r="2.85"/><circle cx="540" cy="442.5" r="2.85"/><circle cx="540" cy="461.2" r="2.85"/><circle cx="540" cy="466.2" r="2.85"/><circle cx="540" cy="470" r="2.85"/><circle cx="540" cy="475" r="2.85"/><circle cx="540" cy="487.5" r="2.85"/><circle cx="540" cy="442.5" r="2.85"/><circle cx="540" cy="461.2" r="2.85"/><circle cx="540" cy="466.2" r="2.85"/><circle cx="540" cy="470.5" r="2.85"/><circle cx="540" cy="475.5" r="2.85"/><circle cx="540" cy="487.3" r="2.85"/><circle cx="599.7" cy="472.7" r="2.85"/><circle cx="599.7" cy="475.9" r="2.85"/><circle cx="599.7" cy="480.2" r="2.85"/><circle cx="599.7" cy="484.5" r="2.85"/><circle cx="599.7" cy="501.7" r="2.85"/><circle cx="634.8" cy="455" r="2.85"/><circle cx="634.8" cy="457.6" r="2.85"/><circle cx="634.8" cy="463" r="2.85"/><circle cx="634.8" cy="467.3" r="2.85"/><circle cx="634.8" cy="471.6" r="2.85"/><circle cx="634.8" cy="475.9" r="2.85"/><circle cx="634.8" cy="492" r="2.85"/><circle cx="672.4" cy="446.8" r="2.85"/><circle cx="672.4" cy="465.1" r="2.85"/><circle cx="672.4" cy="470.5" r="2.85"/><circle cx="672.4" cy="474.8" r="2.85"/><circle cx="672.4" cy="478" r="2.85"/><circle cx="672.4" cy="482.3" r="2.85"/><circle cx="672.4" cy="486.7" r="2.85"/><circle cx="672.4" cy="493.1" r="2.85"/><circle cx="683.2" cy="445.7" r="2.85"/><circle cx="683.2" cy="461.9" r="2.85"/><circle cx="683.2" cy="467.3" r="2.85"/><circle cx="683.2" cy="471.6" r="2.85"/><circle cx="683.2" cy="477" r="2.85"/><circle cx="683.2" cy="482.3" r="2.85"/><circle cx="683.2" cy="491" r="2.85"/><circle cx="772.2" cy="484.5" r="2.85"/><circle cx="772.2" cy="489.9" r="2.85"/><circle cx="772.2" cy="500.6" r="2.85"/><circle cx="772.2" cy="506" r="2.85"/><circle cx="772.2" cy="511.4" r="2.85"/><circle cx="791.3" cy="489.9" r="2.85"/><circle cx="791.3" cy="499.6" r="2.85"/><circle cx="791.3" cy="513.6" r="2.85"/></g>
<path d="M381.2 510.8 C381.8 509.1 383.1 504.9 384.4 500.9 C385.8 496.9 387.7 491.2 389.4 486.5 C391 481.8 392.7 477.2 394.4 472.7 C396 468.2 397.7 463.9 399.3 459.7 C401 455.5 402.7 451.5 404.3 447.7 C406 443.9 407.6 440.2 409.3 436.8 C410.9 433.4 412.5 430.2 414.2 427.3 C415.8 424.3 417.4 421.6 419.1 419.2 C420.7 416.7 422.4 414.5 424.1 412.6 C425.8 410.6 427.5 408.9 429.3 407.3 C431 405.7 432.7 404.4 434.5 403.2 C436.2 402 438.1 401 439.9 400.1 C441.8 399.3 443.7 398.6 445.6 398.1 C447.5 397.6 449.4 397.2 451.4 397.1 C453.3 397 455.3 397.2 457.2 397.5 C459.2 397.8 461.1 398.3 463 398.9 C464.8 399.5 466.7 400.2 468.5 401 C470.4 401.9 472.2 402.8 474 403.8 C475.8 404.8 477.5 406 479.3 407.2 C481 408.4 482.7 409.6 484.5 411 C486.2 412.3 487.9 413.8 489.6 415.2 C491.3 416.7 493 418.2 494.7 419.7 C496.4 421.3 498.1 422.8 499.8 424.4 C501.6 426 503.3 427.7 505 429.4 C506.7 431 508.4 432.8 510.1 434.5 C511.8 436.2 513.5 437.9 515.1 439.7 C516.8 441.4 518.5 443.2 520.2 444.9 C521.9 446.6 523.5 448.3 525.2 450 C526.8 451.7 528.5 453.3 530.1 454.9 C531.8 456.4 533.4 458 535.1 459.4 C536.7 460.9 538.3 462.3 539.9 463.5 C541.5 464.8 543.1 466.1 544.7 467.2 C546.3 468.3 547.9 469.4 549.4 470.3 C551 471.3 552.6 472.1 554.1 472.9 C555.6 473.7 557.2 474.3 558.7 474.9 C560.2 475.5 561.7 476 563.2 476.4 C564.7 476.9 566.2 477.2 567.7 477.5 C569.2 477.8 570.7 478 572.2 478.1 C573.8 478.2 575.3 478.3 576.8 478.3 C578.3 478.3 579.8 478.3 581.3 478.2 C582.9 478.2 584.4 478.1 586 477.9 C587.5 477.7 589.1 477.5 590.6 477.2 C592.2 476.9 593.8 476.6 595.3 476.2 C596.9 475.9 598.5 475.4 600.1 475 C601.7 474.5 603.4 474 605 473.5 C606.6 473 608.3 472.4 610 471.9 C611.6 471.3 613.3 470.7 615 470.2 C616.7 469.6 618.5 469 620.2 468.5 C621.9 468 623.7 467.5 625.5 467.1 C627.2 466.7 629 466.3 630.8 466 C632.6 465.6 634.4 465.4 636.1 465.2 C637.9 464.9 639.7 464.8 641.5 464.6 C643.2 464.4 645 464 646.8 463.8 C648.5 463.6 650.3 463.4 652.1 463.3 C653.9 463.2 655.6 463.1 657.4 463 C659.2 463 661 463 662.7 463 C664.5 463 666.2 463 668 463 C669.8 463.1 671.5 463.1 673.3 463.2 C675 463.3 676.7 463.4 678.5 463.5 C680.2 463.6 682 463.7 683.7 463.8 C685.4 464 687.2 464.3 688.9 464.5 C690.6 464.7 692.4 465 694.1 465.3 C695.9 465.5 697.6 465.8 699.4 466.1 C701.1 466.4 702.9 466.7 704.6 467 C706.3 467.3 708 467.7 709.8 468 C711.5 468.3 713.2 468.6 714.9 469 C716.7 469.3 718.4 469.7 720.1 470 C721.9 470.4 723.6 470.7 725.3 471.1 C727.1 471.5 728.9 471.8 730.6 472.3 C732.3 472.8 734 473.4 735.6 474.1 C737.3 474.7 738.9 475.4 740.6 476.1 C742.2 476.8 743.9 477.5 745.5 478.2 C747.1 478.8 748.8 479.5 750.4 480.2 C752 480.9 753.6 481.6 755.3 482.3 C756.9 482.9 758.5 483.6 760.2 484.3 C761.8 485 763.4 485.7 765.1 486.4 C766.7 487.1 768.3 487.8 770 488.6 C771.6 489.3 773.2 490 774.9 490.7 C776.5 491.5 778.1 492.2 779.7 492.9 C781.4 493.6 783 494.4 784.6 495.1 C786.2 495.8 787.8 496.6 789.4 497.3 C791 498 792.6 498.8 794.2 499.5 C795.9 500.2 797.4 500.9 799.1 501.6 C800.7 502.3 802.3 502.9 803.9 503.6 C805.5 504.2 807.2 504.8 808.8 505.4 C810.4 506 812.1 506.6 813.7 507.2 C815.4 507.8 817 508.4 818.7 509 C820.3 509.7 822 510.3 823.6 510.9 C825.3 511.5 826.9 512.1 828.6 512.8 C830.2 513.4 832.1 514.1 833.5 514.7 C835 515.3 836.6 515.9 837.2 516.2 L837.2 524.7 C836.1 524.4 832.7 523.4 830.8 522.9 C828.9 522.3 827.4 521.9 825.7 521.5 C824 521 822.4 520.6 820.7 520.1 C819 519.7 817.3 519.2 815.6 518.8 C813.9 518.3 812.2 517.9 810.5 517.4 C808.8 517 807.1 516.6 805.4 516.1 C803.7 515.7 802 515.2 800.3 514.8 C798.6 514.4 796.9 514 795.1 513.6 C793.4 513.1 791.7 512.8 789.9 512.3 C788.2 511.9 786.4 511.5 784.7 511.1 C783 510.7 781.3 510.3 779.5 509.9 C777.8 509.4 776.1 509 774.4 508.6 C772.7 508.2 770.9 507.8 769.2 507.4 C767.5 507 765.8 506.6 764.1 506.2 C762.4 505.8 760.7 505.4 759 505 C757.3 504.6 755.6 504.2 753.9 503.8 C752.2 503.4 750.4 503.1 748.7 502.7 C747 502.3 745.3 501.9 743.6 501.5 C741.9 501.2 740.2 500.8 738.5 500.4 C736.8 500 735.1 499.7 733.4 499.3 C731.7 499 730 498.6 728.3 498.3 C726.6 497.9 725 497.6 723.3 497.1 C721.7 496.6 720.1 496 718.5 495.4 C717 494.8 715.4 494.3 713.7 493.8 C712.1 493.2 710.5 492.7 708.9 492.2 C707.3 491.6 705.7 491.1 704.1 490.6 C702.5 490.1 700.8 489.6 699.2 489.1 C697.6 488.6 696 488.1 694.4 487.6 C692.8 487.1 691.2 486.6 689.6 486.2 C688 485.7 686.4 485.3 684.8 484.9 C683.2 484.4 681.6 484 680 483.6 C678.4 483.1 676.8 482.6 675.2 482.1 C673.6 481.7 672 481.2 670.4 480.7 C668.8 480.2 667.2 479.8 665.7 479.3 C664.1 478.9 662.5 478.5 660.9 478.1 C659.3 477.7 657.8 477.3 656.2 476.9 C654.6 476.6 653.1 476.3 651.5 476 C650 475.7 648.4 475.5 646.8 475.3 C645.3 475.1 643.7 474.8 642.1 474.8 C640.5 474.8 639 475 637.4 475.2 C635.8 475.4 634.3 475.7 632.7 476 C631.2 476.3 629.6 476.7 628 477.1 C626.5 477.6 624.9 478.1 623.3 478.6 C621.7 479.1 620.1 479.7 618.4 480.2 C616.8 480.8 615.1 481.4 613.5 482 C611.8 482.6 610.1 483.2 608.4 483.8 C606.7 484.4 605 485 603.3 485.5 C601.5 486.1 599.8 486.6 598 487.1 C596.3 487.5 594.5 487.9 592.7 488.3 C591 488.7 589.2 489 587.4 489.2 C585.6 489.5 583.8 489.7 582 489.8 C580.2 489.9 578.3 489.9 576.5 489.9 C574.7 489.8 572.9 489.7 571 489.5 C569.2 489.2 567.4 488.9 565.5 488.6 C563.7 488.2 561.9 487.7 560 487.2 C558.2 486.6 556.4 485.9 554.5 485.2 C552.7 484.4 550.9 483.6 549.1 482.6 C547.3 481.7 545.5 480.6 543.7 479.5 C542 478.4 540.2 477.1 538.4 475.8 C536.7 474.5 534.9 473.2 533.2 471.7 C531.5 470.3 529.8 468.7 528.1 467.2 C526.3 465.6 524.6 464 523 462.3 C521.3 460.6 519.6 458.9 517.9 457.2 C516.2 455.5 514.5 453.7 512.9 451.9 C511.2 450.2 509.5 448.4 507.9 446.6 C506.2 444.9 504.6 443.1 502.9 441.4 C501.3 439.7 499.7 438 498 436.3 C496.4 434.7 494.8 433.1 493.1 431.5 C491.5 429.9 489.9 428.4 488.3 426.9 C486.6 425.5 485 424.1 483.3 422.8 C481.7 421.4 480.1 420.2 478.4 419 C476.8 417.9 475.2 416.8 473.6 415.8 C472 414.8 470.5 413.9 468.9 413.1 C467.3 412.3 465.8 411.6 464.3 411 C462.8 410.5 461.3 410 459.9 409.6 C458.4 409.2 457 409 455.6 408.8 C454.2 408.6 452.8 408.5 451.4 408.4 C450 408.3 448.6 408.1 447.2 408.1 C445.8 408.2 444.3 408.3 442.8 408.6 C441.3 408.9 439.8 409.3 438.3 410 C436.7 410.7 435.1 411.4 433.4 412.5 C431.8 413.7 430.2 415 428.6 416.7 C426.9 418.3 425.3 420.2 423.6 422.4 C421.9 424.6 420.2 427.1 418.5 429.8 C416.8 432.6 415 435.6 413.3 438.9 C411.6 442.1 410 445.7 408.3 449.4 C406.6 453.2 404.9 457.2 403.2 461.3 C401.6 465.4 399.9 469.7 398.2 474.2 C396.5 478.6 394.8 483.2 393.2 487.9 C391.5 492.5 390.1 496.5 388.1 502.2 C386.1 507.8 382.4 518.4 381.2 521.6 Z" fill="#eba280" fill-opacity="0.45"/>
<path d="M381.2 516.2 C382.1 513.8 384.6 506.4 386.3 501.5 C387.9 496.7 389.6 491.9 391.3 487.2 C392.9 482.5 394.6 477.9 396.3 473.4 C398 469 399.6 464.6 401.3 460.5 C403 456.4 404.6 452.3 406.3 448.6 C408 444.8 409.6 441.2 411.3 437.9 C413 434.5 414.7 431.4 416.3 428.5 C418 425.7 419.7 423.1 421.3 420.8 C423 418.5 424.7 416.4 426.3 414.6 C428 412.8 429.7 411.3 431.4 409.9 C433 408.6 434.7 407.5 436.4 406.6 C438 405.7 439.7 404.9 441.4 404.4 C443 403.8 444.7 403.4 446.4 403.1 C448.1 402.9 449.7 402.7 451.4 402.7 C453.1 402.7 454.7 402.9 456.4 403.1 C458.1 403.4 459.7 403.8 461.4 404.2 C463.1 404.7 464.8 405.3 466.4 406 C468.1 406.7 469.8 407.6 471.4 408.5 C473.1 409.4 474.8 410.4 476.4 411.5 C478.1 412.6 479.8 413.8 481.5 415 C483.1 416.3 484.8 417.6 486.5 419 C488.1 420.4 489.8 421.8 491.5 423.3 C493.1 424.8 494.8 426.4 496.5 428 C498.2 429.6 499.8 431.2 501.5 432.9 C503.2 434.5 504.8 436.2 506.5 437.9 C508.2 439.7 509.8 441.4 511.5 443.2 C513.2 444.9 514.9 446.7 516.5 448.4 C518.2 450.2 519.9 451.9 521.5 453.6 C523.2 455.3 524.9 457 526.5 458.6 C528.2 460.2 529.9 461.8 531.6 463.3 C533.2 464.8 534.9 466.3 536.6 467.6 C538.2 469 539.9 470.3 541.6 471.5 C543.2 472.7 544.9 473.9 546.6 474.9 C548.3 476 549.9 476.9 551.6 477.8 C553.3 478.6 554.9 479.4 556.6 480.1 C558.3 480.7 559.9 481.3 561.6 481.8 C563.3 482.3 565 482.7 566.6 483 C568.3 483.4 570 483.6 571.6 483.8 C573.3 484 575 484.1 576.6 484.1 C578.3 484.1 580 484.1 581.7 484 C583.3 483.9 585 483.8 586.7 483.6 C588.3 483.3 590 483.1 591.7 482.8 C593.3 482.4 595 482.1 596.7 481.6 C598.4 481.2 600 480.8 601.7 480.3 C603.4 479.8 605 479.2 606.7 478.7 C608.4 478.1 610 477.5 611.7 476.9 C613.4 476.4 615.1 475.8 616.7 475.2 C618.4 474.6 620.1 474.1 621.7 473.6 C623.4 473 625.1 472.6 626.7 472.1 C628.4 471.7 630.1 471.3 631.8 471 C633.4 470.7 635.1 470.4 636.8 470.2 C638.4 470 640.1 469.8 641.8 469.7 C643.4 469.6 645.1 469.6 646.8 469.5 C648.5 469.5 650.1 469.6 651.8 469.7 C653.5 469.7 655.1 469.8 656.8 470 C658.5 470.1 660.2 470.3 661.8 470.5 C663.5 470.7 665.2 470.9 666.8 471.2 C668.5 471.4 670.2 471.7 671.8 472 C673.5 472.2 675.2 472.5 676.9 472.8 C678.5 473.1 680.2 473.4 681.9 473.7 C683.5 474 685.2 474.3 686.9 474.7 C688.5 475 690.2 475.4 691.9 475.7 C693.6 476.1 695.2 476.5 696.9 476.8 C698.6 477.2 700.2 477.6 701.9 478 C703.6 478.4 705.2 478.9 706.9 479.3 C708.6 479.7 710.3 480.1 711.9 480.6 C713.6 481 715.3 481.4 716.9 481.9 C718.6 482.3 720.3 482.8 721.9 483.2 C723.6 483.7 725.3 484.2 727 484.7 C728.6 485.2 730.3 485.7 732 486.2 C733.6 486.7 735.3 487.2 737 487.7 C738.6 488.2 740.3 488.8 742 489.3 C743.7 489.8 745.3 490.3 747 490.9 C748.7 491.4 750.3 491.9 752 492.5 C753.7 493 755.3 493.5 757 494.1 C758.7 494.6 760.4 495.2 762 495.7 C763.7 496.3 765.4 496.8 767 497.4 C768.7 497.9 770.4 498.5 772 499.1 C773.7 499.6 775.4 500.2 777.1 500.8 C778.7 501.3 780.4 501.9 782.1 502.5 C783.7 503.1 785.4 503.6 787.1 504.2 C788.7 504.8 790.4 505.3 792.1 505.9 C793.8 506.5 795.4 507 797.1 507.6 C798.8 508.1 800.4 508.7 802.1 509.2 C803.8 509.7 805.4 510.2 807.1 510.8 C808.8 511.3 810.5 511.8 812.1 512.3 C813.8 512.9 815.5 513.4 817.1 513.9 C818.8 514.4 820.5 515 822.1 515.5 C823.8 516 825.5 516.6 827.2 517.1 C828.8 517.7 830.5 518.2 832.2 518.8 C833.8 519.3 836.3 520.2 837.2 520.5" stroke="#000" stroke-width="1.5" fill="none"/>
<g fill="#2468ad"><use href="#tu" x="548" y="517.9"/><use href="#tu" x="562" y="521.1"/><use href="#tu" x="569.5" y="489.9"/><use href="#tu" x="591.1" y="470.5"/><use href="#tu" x="591.1" y="481.3"/><use href="#tu" x="591.1" y="500.2"/><use href="#tu" x="634.8" y="411.9"/><use href="#tu" x="718.3" y="433.9"/><use href="#tu" x="718.3" y="439.3"/><use href="#tu" x="718.3" y="453.3"/><use href="#tu" x="759" y="466.2"/><use href="#tu" x="759" y="472.7"/><use href="#tu" x="759" y="480.2"/><use href="#tu" x="794.1" y="505"/><use href="#tu" x="823.8" y="506"/><use href="#tu" x="823.8" y="512.5"/><use href="#tu" x="823.8" y="518.9"/></g>
<path d="M549.3 515.7 C549.6 515.6 550 515.8 551.1 515.4 C552.3 514.9 554.5 513.9 556.2 513 C557.9 512.2 559.6 511.4 561.3 510.5 C563 509.5 564.6 508.4 566.2 507.3 C567.9 506.1 569.5 504.9 571.1 503.5 C572.8 502.1 574.4 500.6 576.1 499 C577.7 497.3 579.4 495.6 581.1 493.6 C582.7 491.7 584.5 489.6 586.1 487.3 C587.8 485 589.3 482.5 590.9 479.8 C592.5 477.1 594.1 474.3 595.7 471.3 C597.3 468.4 598.9 465.3 600.5 462.1 C602.1 459 603.7 455.7 605.4 452.5 C607 449.3 608.6 446 610.2 442.8 C611.9 439.6 613.5 436.4 615.1 433.5 C616.8 430.5 618.4 427.6 620.1 424.9 C621.8 422.2 623.5 419.6 625.2 417.3 C626.8 414.9 628.5 412.7 630.2 410.7 C631.9 408.6 633.6 406.8 635.4 405.2 C637.2 403.6 639 402.2 641 401 C642.9 399.9 644.9 398.9 647 398.2 C649 397.5 651.2 397 653.3 396.8 C655.4 396.6 657.5 396.6 659.6 396.9 C661.6 397.2 663.6 397.9 665.5 398.5 C667.5 399.2 669.3 400 671.2 400.8 C673 401.7 674.8 402.7 676.6 403.7 C678.3 404.7 680.1 405.8 681.8 407 C683.6 408.2 685.3 409.5 687 410.7 C688.7 412 690.4 413.4 692 414.8 C693.7 416.2 695.3 417.6 697 419.1 C698.6 420.6 700.2 422.1 701.8 423.6 C703.4 425.1 705 426.7 706.6 428.2 C708.2 429.7 709.8 431.2 711.4 432.7 C713 434.2 714.6 435.7 716.1 437.2 C717.7 438.6 719.3 440.1 720.9 441.5 C722.5 442.9 724.1 444.3 725.8 445.7 C727.4 447 729.1 448.4 730.7 449.7 C732.4 451.1 734 452.4 735.7 453.8 C737.3 455.1 739 456.5 740.7 457.9 C742.3 459.3 744 460.7 745.7 462.1 C747.3 463.5 749 464.9 750.7 466.4 C752.3 467.8 754 469.3 755.7 470.8 C757.3 472.2 759 473.7 760.6 475.2 C762.3 476.6 763.9 478.1 765.6 479.5 C767.2 481 768.8 482.4 770.5 483.8 C772.1 485.2 773.7 486.5 775.4 487.9 C777 489.2 778.6 490.4 780.2 491.7 C781.8 492.9 783.4 494 785 495.2 C786.6 496.3 788.2 497.3 789.8 498.3 C791.3 499.2 792.9 500.1 794.5 501 C796.1 501.8 797.6 502.6 799.2 503.3 C800.8 504 802.4 504.7 803.9 505.3 C805.5 505.9 807.1 506.5 808.7 507.1 C810.4 507.6 812 508.1 813.6 508.7 C815.3 509.2 816.9 509.7 818.5 510.2 C820.2 510.7 821.8 511.3 823.5 511.8 C825.2 512.3 826.8 512.8 828.5 513.4 C830.1 513.9 832 514.5 833.5 515 C834.9 515.5 836.6 516 837.2 516.2 L837.2 524.7 C836.1 524.3 832.8 523.3 831 522.7 C829.1 522.1 827.7 521.6 826 521.1 C824.4 520.6 822.7 520.1 821.1 519.6 C819.4 519.1 817.8 518.6 816.1 518.1 C814.4 517.6 812.8 517.1 811.1 516.5 C809.4 516 807.7 515.5 806 514.9 C804.4 514.3 802.6 513.8 800.9 513.1 C799.2 512.4 797.5 511.7 795.7 511 C794 510.2 792.3 509.4 790.5 508.5 C788.8 507.6 787.1 506.6 785.3 505.5 C783.6 504.5 781.9 503.4 780.2 502.2 C778.4 501 776.7 499.8 775 498.5 C773.3 497.2 771.6 495.9 770 494.5 C768.3 493.2 766.6 491.8 764.9 490.3 C763.2 488.9 761.6 487.5 759.9 486 C758.2 484.6 756.6 483.1 754.9 481.6 C753.3 480.1 751.6 478.7 750 477.2 C748.3 475.8 746.7 474.3 745 472.9 C743.4 471.4 741.7 470 740.1 468.6 C738.5 467.2 736.8 465.9 735.2 464.5 C733.5 463.1 731.9 461.8 730.2 460.4 C728.6 459.1 726.9 457.7 725.3 456.4 C723.6 455 722 453.7 720.3 452.3 C718.6 451 717 449.6 715.2 448.3 C713.5 447 711.8 445.7 710.1 444.3 C708.3 443 706.6 441.6 704.9 440.2 C703.2 438.8 701.4 437.5 699.7 436.1 C698 434.7 696.3 433.3 694.6 432 C692.9 430.7 691.2 429.3 689.5 428.1 C687.9 426.8 686.2 425.5 684.6 424.4 C682.9 423.2 681.3 422 679.7 420.9 C678.1 419.9 676.5 418.9 674.9 417.9 C673.3 417 671.8 416.2 670.2 415.4 C668.7 414.6 667.2 414 665.7 413.4 C664.3 412.8 662.8 412.4 661.4 412 C660 411.6 658.7 411.5 657.4 411.3 C656.2 411 655 410.8 653.8 410.7 C652.6 410.6 651.4 410.5 650.2 410.7 C648.9 410.8 647.7 411.1 646.3 411.6 C644.9 412.1 643.5 412.8 642 413.7 C640.5 414.7 638.9 415.9 637.2 417.4 C635.6 418.9 633.9 420.6 632.3 422.6 C630.7 424.7 629.1 427 627.4 429.5 C625.8 432 624.1 434.8 622.5 437.6 C620.8 440.5 619.1 443.5 617.5 446.6 C615.8 449.7 614.1 452.9 612.4 456.1 C610.7 459.3 609 462.6 607.3 465.7 C605.6 468.9 603.9 472 602.2 475 C600.5 478 598.8 480.8 597.1 483.6 C595.4 486.3 593.6 488.9 592 491.4 C590.3 493.8 588.7 496.2 587.1 498.4 C585.5 500.6 583.8 502.7 582.2 504.6 C580.5 506.6 578.8 508.3 577.2 510 C575.5 511.7 573.8 513.2 572.1 514.7 C570.5 516.2 568.8 517.5 567.1 518.8 C565.5 520.2 563.9 521.5 562.3 522.7 C560.7 524 559.6 524.9 557.5 526.3 C555.3 527.8 550.7 530.8 549.3 531.6 Z" fill="#2468ad" fill-opacity="0.5"/>
<path d="M549.3 523.7 C550.2 523.2 552.6 521.8 554.3 520.9 C555.9 519.9 557.6 518.9 559.3 517.9 C560.9 516.9 562.6 515.8 564.2 514.6 C565.9 513.5 567.5 512.3 569.2 511 C570.8 509.7 572.5 508.3 574.1 506.7 C575.8 505.2 577.5 503.6 579.1 501.8 C580.8 500 582.4 498.1 584.1 496 C585.7 493.9 587.4 491.7 589 489.3 C590.7 486.9 592.3 484.4 594 481.7 C595.7 479 597.3 476.1 599 473.2 C600.6 470.2 602.3 467.1 603.9 463.9 C605.6 460.8 607.2 457.5 608.9 454.3 C610.5 451.1 612.2 447.8 613.8 444.7 C615.5 441.6 617.2 438.5 618.8 435.5 C620.5 432.6 622.1 429.8 623.8 427.2 C625.4 424.6 627.1 422.2 628.7 420 C630.4 417.8 632 415.8 633.7 414 C635.4 412.3 637 410.8 638.7 409.5 C640.3 408.2 642 407.2 643.6 406.3 C645.3 405.5 646.9 404.9 648.6 404.5 C650.2 404 651.9 403.8 653.6 403.8 C655.2 403.7 656.9 403.8 658.5 404.1 C660.2 404.3 661.8 404.8 663.5 405.3 C665.1 405.8 666.8 406.4 668.4 407.1 C670.1 407.8 671.7 408.7 673.4 409.6 C675.1 410.4 676.7 411.4 678.4 412.5 C680 413.5 681.7 414.7 683.3 415.8 C685 417 686.6 418.3 688.3 419.6 C689.9 420.9 691.6 422.2 693.3 423.6 C694.9 425 696.6 426.4 698.2 427.8 C699.9 429.2 701.5 430.7 703.2 432.1 C704.8 433.6 706.5 435 708.1 436.5 C709.8 437.9 711.5 439.3 713.1 440.7 C714.8 442.1 716.4 443.5 718.1 444.9 C719.7 446.3 721.4 447.6 723 449 C724.7 450.4 726.3 451.7 728 453 C729.6 454.4 731.3 455.7 733 457.1 C734.6 458.4 736.3 459.8 737.9 461.2 C739.6 462.6 741.2 463.9 742.9 465.4 C744.5 466.8 746.2 468.2 747.8 469.6 C749.5 471.1 751.2 472.5 752.8 474 C754.5 475.5 756.1 476.9 757.8 478.4 C759.4 479.9 761.1 481.3 762.7 482.8 C764.4 484.2 766 485.7 767.7 487.1 C769.4 488.5 771 489.9 772.7 491.2 C774.3 492.5 776 493.8 777.6 495.1 C779.3 496.3 780.9 497.5 782.6 498.7 C784.2 499.8 785.9 500.9 787.5 501.9 C789.2 502.9 790.9 503.9 792.5 504.7 C794.2 505.6 795.8 506.4 797.5 507.1 C799.1 507.9 800.8 508.6 802.4 509.2 C804.1 509.8 805.7 510.4 807.4 511 C809.1 511.6 810.7 512.1 812.4 512.6 C814 513.1 815.7 513.6 817.3 514.1 C819 514.7 820.6 515.2 822.3 515.7 C823.9 516.2 825.6 516.7 827.3 517.2 C828.9 517.8 830.6 518.3 832.2 518.8 C833.9 519.4 836.3 520.2 837.2 520.5" stroke="#000" stroke-width="1.5" fill="none"/>
</g>
<path d="M168.2 543.7 V685.6 H838" stroke="#111" stroke-width="1.3" fill="none" stroke-linejoin="miter"/><path d="M221.8 685.6 V682" stroke="#111" stroke-width="1.1"/><path d="M305.4 685.6 V682" stroke="#111" stroke-width="1.1"/><path d="M386.4 685.6 V682" stroke="#111" stroke-width="1.1"/><path d="M470 685.6 V682" stroke="#111" stroke-width="1.1"/><path d="M551 685.6 V682" stroke="#111" stroke-width="1.1"/><path d="M634.6 685.6 V682" stroke="#111" stroke-width="1.1"/><path d="M718.2 685.6 V682" stroke="#111" stroke-width="1.1"/><path d="M799.2 685.6 V682" stroke="#111" stroke-width="1.1"/><path d="M168.2 566.2 H171.8" stroke="#111" stroke-width="1.1"/><text x="162.6" y="571.7" font-size="14" font-weight="normal" fill="#111" text-anchor="end" stroke="#111" stroke-width="0.3">100</text><path d="M168.2 589 H171.8" stroke="#111" stroke-width="1.1"/><text x="162.6" y="594.5" font-size="14" font-weight="normal" fill="#111" text-anchor="end" stroke="#111" stroke-width="0.3">80</text><path d="M168.2 611.8 H171.8" stroke="#111" stroke-width="1.1"/><text x="162.6" y="617.3" font-size="14" font-weight="normal" fill="#111" text-anchor="end" stroke="#111" stroke-width="0.3">60</text><path d="M168.2 634.6 H171.8" stroke="#111" stroke-width="1.1"/><text x="162.6" y="640.1" font-size="14" font-weight="normal" fill="#111" text-anchor="end" stroke="#111" stroke-width="0.3">40</text><path d="M168.2 657.4 H171.8" stroke="#111" stroke-width="1.1"/><text x="162.6" y="662.9" font-size="14" font-weight="normal" fill="#111" text-anchor="end" stroke="#111" stroke-width="0.3">20</text><path d="M168.2 680.2 H171.8" stroke="#111" stroke-width="1.1"/><text x="162.6" y="685.7" font-size="14" font-weight="normal" fill="#111" text-anchor="end" stroke="#111" stroke-width="0.3">0</text><text transform="translate(133.4 615) rotate(-90)" font-size="14" fill="#111" stroke="#111" stroke-width="0.3" text-anchor="middle">Root area (%)</text><text x="176.6" y="554.4" font-size="16.5" font-weight="bold" fill="#111" text-anchor="start" stroke="#111" stroke-width="0.3">D</text>
<text x="176.2" y="575" font-size="14" font-weight="normal" fill="#111" text-anchor="start" stroke="#111" stroke-width="0.3">All plants</text>
<path d="M168.1 623.3 H835" stroke="#555" stroke-width="1.3" stroke-dasharray="6.25 4.4" fill="none"/>
<text x="221.8" y="699.2" font-size="14" font-weight="normal" fill="#111" text-anchor="middle" stroke="#111" stroke-width="0.3">Mar</text>
<text x="305.4" y="699.2" font-size="14" font-weight="normal" fill="#111" text-anchor="middle" stroke="#111" stroke-width="0.3">Apr</text>
<text x="386.4" y="699.2" font-size="14" font-weight="normal" fill="#111" text-anchor="middle" stroke="#111" stroke-width="0.3">May</text>
<text x="470" y="699.2" font-size="14" font-weight="normal" fill="#111" text-anchor="middle" stroke="#111" stroke-width="0.3">Jun</text>
<text x="551" y="699.2" font-size="14" font-weight="normal" fill="#111" text-anchor="middle" stroke="#111" stroke-width="0.3">Jul</text>
<text x="634.6" y="699.2" font-size="14" font-weight="normal" fill="#111" text-anchor="middle" stroke="#111" stroke-width="0.3">Aug</text>
<text x="718.2" y="699.2" font-size="14" font-weight="normal" fill="#111" text-anchor="middle" stroke="#111" stroke-width="0.3">Sep</text>
<text x="799.2" y="699.2" font-size="14" font-weight="normal" fill="#111" text-anchor="middle" stroke="#111" stroke-width="0.3">Oct</text>
<g clip-path="url(#cD)">
<g fill="none" stroke="#bc1c2e" stroke-width="1.5"><circle cx="191.8" cy="673.8" r="2.85"/><circle cx="191.8" cy="676.2" r="2.85"/><circle cx="191.8" cy="678.8" r="2.85"/><circle cx="191.8" cy="680.5" r="2.85"/><circle cx="202.5" cy="675" r="2.85"/><circle cx="202.5" cy="677.5" r="2.85"/><circle cx="202.5" cy="680" r="2.85"/><circle cx="219.2" cy="673.8" r="2.85"/><circle cx="219.2" cy="676.2" r="2.85"/><circle cx="219.2" cy="678.8" r="2.85"/><circle cx="219.2" cy="680.5" r="2.85"/><circle cx="227" cy="673.8" r="2.85"/><circle cx="227" cy="676.2" r="2.85"/><circle cx="227" cy="678.8" r="2.85"/><circle cx="227" cy="680.5" r="2.85"/><circle cx="238" cy="661.2" r="2.85"/><circle cx="238" cy="667.5" r="2.85"/><circle cx="238" cy="671.2" r="2.85"/><circle cx="238" cy="675" r="2.85"/><circle cx="238" cy="677.5" r="2.85"/><circle cx="238" cy="680" r="2.85"/><circle cx="246.2" cy="659.2" r="2.85"/><circle cx="246.2" cy="661.8" r="2.85"/><circle cx="246.2" cy="667" r="2.85"/><circle cx="259.5" cy="635.5" r="2.85"/><circle cx="259.5" cy="649.5" r="2.85"/><circle cx="259.5" cy="652" r="2.85"/><circle cx="259.5" cy="655" r="2.85"/><circle cx="259.5" cy="658.8" r="2.85"/><circle cx="259.5" cy="660.5" r="2.85"/><circle cx="259.5" cy="665" r="2.85"/><circle cx="259.5" cy="672.5" r="2.85"/><circle cx="267.5" cy="614.2" r="2.85"/><circle cx="267.5" cy="645" r="2.85"/><circle cx="267.5" cy="647" r="2.85"/><circle cx="267.5" cy="649.5" r="2.85"/><circle cx="267.5" cy="661.2" r="2.85"/><circle cx="267.5" cy="665.8" r="2.85"/><circle cx="278.2" cy="613.2" r="2.85"/><circle cx="278.2" cy="635" r="2.85"/><circle cx="278.2" cy="638.2" r="2.85"/><circle cx="278.2" cy="640" r="2.85"/><circle cx="278.2" cy="657.5" r="2.85"/><circle cx="278.2" cy="662" r="2.85"/><circle cx="278.2" cy="665" r="2.85"/><circle cx="286.5" cy="607" r="2.85"/><circle cx="286.5" cy="626.2" r="2.85"/><circle cx="286.5" cy="631.2" r="2.85"/><circle cx="286.5" cy="633.8" r="2.85"/><circle cx="286.5" cy="637.5" r="2.85"/><circle cx="286.5" cy="641.2" r="2.85"/><circle cx="286.5" cy="643.8" r="2.85"/><circle cx="286.5" cy="647.5" r="2.85"/><circle cx="297" cy="593.2" r="2.85"/><circle cx="297" cy="609.5" r="2.85"/><circle cx="297" cy="617" r="2.85"/><circle cx="297" cy="624.5" r="2.85"/><circle cx="297" cy="627.5" r="2.85"/><circle cx="297" cy="631.2" r="2.85"/><circle cx="297" cy="635" r="2.85"/><circle cx="297" cy="641.2" r="2.85"/><circle cx="316.2" cy="583.2" r="2.85"/><circle cx="316.2" cy="594.5" r="2.85"/><circle cx="316.2" cy="603.8" r="2.85"/><circle cx="316.2" cy="606.2" r="2.85"/><circle cx="316.2" cy="613.8" r="2.85"/><circle cx="316.2" cy="616.2" r="2.85"/><circle cx="316.2" cy="618.8" r="2.85"/><circle cx="316.2" cy="625.8" r="2.85"/><circle cx="335" cy="574.2" r="2.85"/><circle cx="335" cy="579.2" r="2.85"/><circle cx="335" cy="598.8" r="2.85"/><circle cx="335" cy="602.5" r="2.85"/><circle cx="335" cy="605" r="2.85"/><circle cx="335" cy="608.8" r="2.85"/><circle cx="335" cy="611.2" r="2.85"/><circle cx="335" cy="621.2" r="2.85"/><circle cx="354.2" cy="563.8" r="2.85"/><circle cx="354.2" cy="565" r="2.85"/><circle cx="354.2" cy="577.5" r="2.85"/><circle cx="354.2" cy="583.8" r="2.85"/><circle cx="354.2" cy="597.5" r="2.85"/><circle cx="354.2" cy="605" r="2.85"/><circle cx="354.2" cy="612.5" r="2.85"/><circle cx="370" cy="556.2" r="2.85"/><circle cx="370" cy="561.2" r="2.85"/><circle cx="370" cy="568.8" r="2.85"/><circle cx="370" cy="573.8" r="2.85"/><circle cx="370" cy="576.2" r="2.85"/><circle cx="370" cy="582.5" r="2.85"/><circle cx="370" cy="596.2" r="2.85"/><circle cx="370" cy="606.2" r="2.85"/><circle cx="391.8" cy="553.8" r="2.85"/><circle cx="391.8" cy="556.2" r="2.85"/><circle cx="391.8" cy="558.8" r="2.85"/><circle cx="391.8" cy="576.2" r="2.85"/><circle cx="391.8" cy="591.2" r="2.85"/><circle cx="391.8" cy="598" r="2.85"/><circle cx="410.5" cy="553.8" r="2.85"/><circle cx="410.5" cy="556.2" r="2.85"/><circle cx="410.5" cy="567.5" r="2.85"/><circle cx="410.5" cy="587.5" r="2.85"/><circle cx="410.5" cy="594.5" r="2.85"/><circle cx="429.5" cy="557" r="2.85"/><circle cx="429.5" cy="559.5" r="2.85"/><circle cx="429.5" cy="562.5" r="2.85"/><circle cx="429.5" cy="565" r="2.85"/><circle cx="429.5" cy="567.5" r="2.85"/><circle cx="429.5" cy="568.8" r="2.85"/><circle cx="429.5" cy="591.2" r="2.85"/><circle cx="429.5" cy="593" r="2.85"/><circle cx="448" cy="555" r="2.85"/><circle cx="448" cy="558.8" r="2.85"/><circle cx="448" cy="563.8" r="2.85"/><circle cx="448" cy="567.5" r="2.85"/><circle cx="448" cy="571.2" r="2.85"/><circle cx="448" cy="576.2" r="2.85"/><circle cx="448" cy="581.2" r="2.85"/><circle cx="448" cy="588" r="2.85"/><circle cx="467" cy="553.8" r="2.85"/><circle cx="467" cy="556.2" r="2.85"/><circle cx="467" cy="561.2" r="2.85"/><circle cx="467" cy="568.8" r="2.85"/><circle cx="467" cy="571.2" r="2.85"/><circle cx="467" cy="576.2" r="2.85"/><circle cx="467" cy="582.5" r="2.85"/><circle cx="467" cy="585.5" r="2.85"/><circle cx="486.2" cy="553.8" r="2.85"/><circle cx="486.2" cy="556.2" r="2.85"/><circle cx="486.2" cy="562.5" r="2.85"/><circle cx="486.2" cy="578.8" r="2.85"/><circle cx="486.2" cy="582.5" r="2.85"/><circle cx="507.5" cy="553.8" r="2.85"/><circle cx="507.5" cy="556.2" r="2.85"/><circle cx="507.5" cy="558.8" r="2.85"/><circle cx="507.5" cy="561.2" r="2.85"/><circle cx="507.5" cy="563.8" r="2.85"/><circle cx="507.5" cy="566.2" r="2.85"/><circle cx="507.5" cy="568.8" r="2.85"/><circle cx="507.5" cy="571.2" r="2.85"/><circle cx="523.8" cy="559.5" r="2.85"/><circle cx="523.8" cy="563.8" r="2.85"/><circle cx="523.8" cy="566.2" r="2.85"/><circle cx="523.8" cy="568.8" r="2.85"/><circle cx="523.8" cy="571.2" r="2.85"/><circle cx="542.5" cy="561.2" r="2.85"/><circle cx="542.5" cy="565" r="2.85"/><circle cx="542.5" cy="568.8" r="2.85"/><circle cx="542.5" cy="572.5" r="2.85"/><circle cx="542.5" cy="578.8" r="2.85"/><circle cx="542.5" cy="607" r="2.85"/><circle cx="599.7" cy="554.8" r="2.85"/><circle cx="599.7" cy="558" r="2.85"/><circle cx="599.7" cy="562.3" r="2.85"/><circle cx="599.7" cy="573.1" r="2.85"/><circle cx="599.7" cy="589.9" r="2.85"/><circle cx="599.7" cy="607.1" r="2.85"/><circle cx="637.3" cy="569.8" r="2.85"/><circle cx="637.3" cy="572" r="2.85"/><circle cx="637.3" cy="612.9" r="2.85"/><circle cx="637.3" cy="623.7" r="2.85"/><circle cx="680.4" cy="564.4" r="2.85"/><circle cx="680.4" cy="569.8" r="2.85"/><circle cx="680.4" cy="603.2" r="2.85"/><circle cx="680.4" cy="609.7" r="2.85"/><circle cx="680.4" cy="611.8" r="2.85"/><circle cx="718.3" cy="565.5" r="2.85"/><circle cx="718.3" cy="587.1" r="2.85"/><circle cx="718.3" cy="606.4" r="2.85"/><circle cx="718.3" cy="623.7" r="2.85"/><circle cx="718.3" cy="624.7" r="2.85"/><circle cx="756" cy="575.2" r="2.85"/><circle cx="756" cy="612.9" r="2.85"/><circle cx="756" cy="619.4" r="2.85"/><circle cx="756" cy="630.1" r="2.85"/><circle cx="791.3" cy="553.7" r="2.85"/><circle cx="791.3" cy="583.8" r="2.85"/><circle cx="791.3" cy="608.6" r="2.85"/><circle cx="791.3" cy="622.6" r="2.85"/><circle cx="791.3" cy="625.8" r="2.85"/></g>
<path d="M192.5 681.9 C193.1 681.7 194.8 681 196.3 680.4 C197.7 679.8 199.6 679.1 201.3 678.4 C202.9 677.8 204.6 677.1 206.3 676.5 C208 675.8 209.6 675.2 211.3 674.6 C213 673.9 214.6 673.3 216.3 672.7 C217.9 672 219.6 671.4 221.3 670.7 C222.9 670.1 224.6 669.4 226.2 668.7 C227.9 668 229.5 667.3 231.2 666.6 C232.8 665.9 234.4 665.2 236.1 664.4 C237.7 663.7 239.4 662.9 241 662.1 C242.7 661.3 244.3 660.4 245.9 659.6 C247.6 658.7 249.2 657.8 250.9 656.9 C252.5 656 254.1 655 255.8 654.1 C257.4 653.1 259.1 652.1 260.7 651 C262.3 650 264 648.9 265.6 647.9 C267.2 646.8 268.9 645.6 270.5 644.5 C272.2 643.4 273.8 642.2 275.4 641 C277.1 639.8 278.7 638.5 280.4 637.3 C282 636 283.6 634.7 285.3 633.4 C286.9 632 288.6 630.7 290.2 629.3 C291.9 628 293.5 626.6 295.2 625.2 C296.8 623.8 298.5 622.4 300.1 620.9 C301.8 619.5 303.4 618 305.1 616.5 C306.7 615 308.4 613.5 310 612 C311.7 610.5 313.4 609 315 607.5 C316.7 606 318.4 604.6 320 603.1 C321.7 601.7 323.4 600.2 325.1 598.8 C326.8 597.4 328.4 596.1 330.1 594.8 C331.8 593.4 333.5 592.2 335.2 590.9 C336.9 589.7 338.6 588.5 340.3 587.3 C342 586.2 343.7 585.1 345.4 584 C347.1 582.9 348.8 581.9 350.5 581 C352.2 580 353.9 579.1 355.6 578.2 C357.3 577.3 359 576.5 360.7 575.7 C362.4 574.9 364.2 574.2 365.9 573.5 C367.6 572.8 369.3 572.2 371 571.6 C372.7 571 374.4 570.5 376.1 569.9 C377.8 569.4 379.5 568.9 381.2 568.5 C382.9 568 384.6 567.6 386.3 567.2 C388 566.8 389.7 566.4 391.4 566.1 C393.1 565.7 394.8 565.4 396.5 565.1 C398.2 564.8 399.9 564.6 401.6 564.3 C403.3 564.1 405 563.8 406.7 563.6 C408.4 563.4 410.1 563.2 411.8 563.1 C413.5 562.9 415.2 562.8 416.9 562.7 C418.6 562.6 420.3 562.5 421.9 562.4 C423.6 562.4 425.3 562.3 427 562.3 C428.7 562.3 430.4 562.2 432.1 562.2 C433.8 562.2 435.4 562.2 437.1 562.2 C438.8 562.3 440.5 562.3 442.1 562.3 C443.8 562.3 445.5 562.4 447.1 562.4 C448.8 562.4 450.5 562.5 452.2 562.5 C453.8 562.6 455.5 562.6 457.1 562.7 C458.8 562.8 460.5 562.8 462.1 562.9 C463.8 562.9 465.5 563 467.1 563 C468.8 563.1 470.5 563.1 472.1 563.2 C473.8 563.2 475.4 563.3 477.1 563.3 C478.8 563.4 480.4 563.4 482.1 563.4 C483.7 563.5 485.4 563.5 487.1 563.6 C488.7 563.6 490.4 563.6 492 563.7 C493.7 563.7 495.4 563.7 497 563.8 C498.7 563.8 500.4 563.8 502 563.9 C503.7 563.9 505.4 563.9 507 564 C508.7 564 510.4 564 512 564.1 C513.7 564.1 515.4 564.2 517 564.2 C518.7 564.3 520.4 564.4 522.1 564.4 C523.7 564.5 525.4 564.5 527.1 564.6 C528.7 564.7 530.4 564.7 532.1 564.8 C533.7 564.9 535.4 564.9 537.1 565 C538.8 565.1 540.4 565.2 542.1 565.3 C543.8 565.4 545.5 565.5 547.1 565.6 C548.8 565.7 550.5 565.8 552.2 566 C553.9 566.1 555.6 566.3 557.2 566.4 C558.9 566.6 560.6 566.8 562.3 566.9 C564 567.1 565.7 567.3 567.4 567.5 C569 567.7 570.7 567.9 572.4 568.2 C574.1 568.4 575.8 568.6 577.4 568.8 C579.1 569.1 580.8 569.3 582.5 569.6 C584.1 569.8 585.8 570.1 587.5 570.3 C589.1 570.6 590.8 570.8 592.5 571.1 C594.2 571.4 595.8 571.6 597.5 571.9 C599.2 572.2 600.8 572.4 602.5 572.7 C604.2 573 605.9 573.2 607.6 573.5 C609.2 573.8 610.9 574.1 612.6 574.3 C614.3 574.6 616 574.9 617.6 575.2 C619.3 575.5 621 575.8 622.7 576.2 C624.4 576.5 626.1 576.8 627.8 577.2 C629.4 577.5 631.1 577.9 632.8 578.2 C634.5 578.6 636.2 578.9 637.9 579.3 C639.6 579.7 641.3 580.1 642.9 580.5 C644.6 580.9 646.3 581.3 647.9 581.7 C649.6 582.1 651.3 582.5 652.9 582.8 C654.6 583.2 656.2 583.6 657.9 584 C659.5 584.3 661.2 584.7 662.8 585 C664.4 585.4 666.1 585.7 667.7 586 C669.3 586.3 670.9 586.6 672.5 586.8 C674.1 587.1 675.8 587.3 677.4 587.5 C679 587.7 680.6 587.9 682.2 588 C683.8 588.1 685.4 588.2 687 588.2 C688.6 588.3 690.2 588.3 691.8 588.3 C693.4 588.3 695.1 588.3 696.7 588.3 C698.3 588.3 699.9 588.2 701.6 588.2 C703.2 588.1 704.8 588.1 706.5 588 C708.1 587.9 709.7 587.8 711.3 587.7 C712.9 587.6 714.5 587.4 716.2 587.4 C717.8 587.3 719.4 587.4 721 587.3 C722.6 587.3 724.2 587.3 725.8 587.3 C727.5 587.2 729.1 587.1 730.7 587.1 C732.4 587 734 586.9 735.6 586.8 C737.3 586.7 738.9 586.5 740.5 586.4 C742.2 586.2 743.8 586.1 745.5 585.9 C747.1 585.7 748.8 585.5 750.4 585.2 C752 584.9 753.7 584.4 755.3 584 C756.9 583.5 758.5 583.1 760.1 582.7 C761.8 582.2 763.4 581.8 765 581.3 C766.7 580.9 768.3 580.5 769.9 580 C771.6 579.6 773.2 579.1 774.9 578.7 C776.5 578.2 778.1 577.7 779.8 577.3 C781.4 576.9 782.8 576.5 784.7 576 C786.6 575.5 790.2 574.6 791.3 574.3 L791.3 592 C790.8 592.1 789.3 592.2 787.9 592.4 C786.5 592.5 784.6 592.8 782.9 593 C781.2 593.2 779.5 593.4 777.8 593.6 C776.1 593.8 774.5 594 772.8 594.2 C771.1 594.5 769.4 594.7 767.7 594.9 C766 595.1 764.3 595.3 762.6 595.5 C760.9 595.7 759.2 595.9 757.5 596.1 C755.8 596.3 754.1 596.4 752.4 596.6 C750.7 596.9 749 597.2 747.3 597.6 C745.6 597.9 744 598.3 742.3 598.6 C740.6 598.9 738.9 599.2 737.2 599.5 C735.5 599.8 733.8 600.1 732.1 600.4 C730.4 600.7 728.7 600.9 727 601.2 C725.3 601.4 723.6 601.6 721.9 601.8 C720.2 602 718.5 602.2 716.8 602.3 C715.1 602.4 713.3 602.3 711.6 602.3 C709.9 602.2 708.2 602.2 706.5 602.1 C704.8 602.1 703.1 602 701.4 601.9 C699.7 601.8 698 601.7 696.3 601.6 C694.6 601.5 692.9 601.4 691.2 601.2 C689.5 601.1 687.8 600.9 686.1 600.7 C684.3 600.5 682.6 600.3 680.9 600 C679.2 599.8 677.4 599.6 675.7 599.3 C674 599 672.3 598.8 670.6 598.4 C668.9 598.1 667.1 597.8 665.4 597.4 C663.7 597.1 662 596.7 660.3 596.3 C658.6 595.9 657 595.5 655.3 595.1 C653.6 594.7 651.9 594.2 650.2 593.8 C648.6 593.4 646.9 592.9 645.3 592.5 C643.6 592.1 641.9 591.6 640.3 591.2 C638.6 590.8 637 590.4 635.4 589.9 C633.7 589.5 632.1 589.1 630.4 588.7 C628.8 588.3 627.2 588 625.5 587.6 C623.9 587.2 622.2 586.9 620.6 586.5 C619 586.1 617.3 585.8 615.7 585.5 C614 585.1 612.4 584.8 610.7 584.5 C609.1 584.2 607.5 583.8 605.8 583.5 C604.2 583.2 602.5 582.9 600.9 582.6 C599.2 582.3 597.6 582 595.9 581.8 C594.2 581.5 592.6 581.2 590.9 581 C589.3 580.7 587.6 580.5 586 580.2 C584.3 580 582.7 579.7 581 579.5 C579.3 579.2 577.7 579 576 578.7 C574.4 578.5 572.7 578.3 571.1 578.1 C569.4 577.9 567.8 577.6 566.2 577.4 C564.5 577.2 562.9 577.1 561.2 576.9 C559.6 576.7 558 576.5 556.3 576.4 C554.7 576.2 553 576.1 551.4 575.9 C549.7 575.8 548.1 575.7 546.5 575.6 C544.8 575.5 543.2 575.4 541.5 575.3 C539.9 575.2 538.2 575.1 536.6 575 C534.9 574.9 533.2 574.8 531.6 574.7 C529.9 574.6 528.3 574.5 526.6 574.4 C525 574.3 523.3 574.2 521.6 574.1 C520 574 518.3 574 516.7 573.9 C515 573.8 513.4 573.7 511.7 573.7 C510 573.6 508.4 573.5 506.7 573.4 C505.1 573.4 503.4 573.3 501.8 573.3 C500.1 573.2 498.4 573.1 496.8 573.1 C495.1 573 493.4 573 491.8 572.9 C490.1 572.8 488.4 572.8 486.8 572.7 C485.1 572.7 483.4 572.6 481.8 572.5 C480.1 572.5 478.4 572.4 476.8 572.3 C475.1 572.3 473.4 572.2 471.8 572.1 C470.1 572 468.5 572 466.8 571.9 C465.1 571.8 463.5 571.7 461.8 571.6 C460.1 571.6 458.5 571.5 456.8 571.4 C455.1 571.3 453.5 571.2 451.8 571.2 C450.2 571.1 448.5 571 446.8 570.9 C445.2 570.8 443.5 570.8 441.9 570.7 C440.2 570.6 438.6 570.5 436.9 570.5 C435.3 570.4 433.6 570.4 432 570.3 C430.3 570.3 428.7 570.3 427.1 570.2 C425.4 570.2 423.8 570.2 422.1 570.2 C420.5 570.3 418.9 570.3 417.2 570.4 C415.6 570.4 414 570.5 412.4 570.6 C410.7 570.7 409.1 570.8 407.5 571 C405.8 571.1 404.2 571.3 402.6 571.5 C400.9 571.7 399.3 572 397.7 572.2 C396.1 572.5 394.4 572.8 392.8 573.1 C391.2 573.4 389.5 573.8 387.9 574.1 C386.3 574.5 384.7 574.9 383 575.3 C381.4 575.7 379.8 576.2 378.2 576.7 C376.5 577.2 374.9 577.7 373.3 578.2 C371.7 578.8 370.1 579.4 368.4 580 C366.8 580.7 365.2 581.3 363.6 582.1 C362 582.8 360.4 583.6 358.7 584.4 C357.1 585.2 355.5 586.1 353.9 587 C352.3 587.9 350.6 588.9 349 589.9 C347.4 590.9 345.8 591.9 344.1 593 C342.5 594.1 340.9 595.2 339.2 596.4 C337.6 597.6 336 598.8 334.3 600.1 C332.7 601.4 331 602.7 329.4 604.1 C327.7 605.4 326.1 606.8 324.4 608.2 C322.8 609.6 321.1 611.1 319.5 612.6 C317.8 614 316.2 615.5 314.5 617 C312.8 618.5 311.2 620 309.5 621.5 C307.8 623 306.1 624.5 304.5 625.9 C302.8 627.4 301.1 628.8 299.4 630.2 C297.7 631.6 296.1 633 294.4 634.4 C292.7 635.8 291 637.1 289.3 638.5 C287.7 639.8 286 641.1 284.3 642.4 C282.6 643.7 280.9 644.9 279.2 646.1 C277.5 647.4 275.9 648.6 274.2 649.7 C272.5 650.9 270.8 652 269.1 653.1 C267.4 654.3 265.7 655.3 264 656.4 C262.3 657.4 260.7 658.4 259 659.4 C257.3 660.4 255.6 661.4 253.9 662.3 C252.2 663.3 250.5 664.2 248.8 665.1 C247.2 666 245.5 666.8 243.8 667.7 C242.1 668.5 240.4 669.3 238.7 670.1 C237.1 670.9 235.4 671.7 233.7 672.4 C232 673.2 230.3 673.9 228.7 674.6 C227 675.3 225.3 676 223.6 676.6 C222 677.3 220.3 678 218.6 678.6 C217 679.3 215.3 679.9 213.6 680.6 C212 681.2 210.3 681.9 208.7 682.5 C207 683.2 205.3 683.9 203.7 684.5 C202 685.2 200.6 685.8 198.7 686.5 C196.9 687.3 193.5 688.6 192.5 689.1 Z" fill="#bc1c2e" fill-opacity="0.5"/>
<path d="M192.5 685.5 C193.3 685.2 195.8 684.1 197.5 683.5 C199.2 682.8 200.8 682.1 202.5 681.5 C204.1 680.8 205.8 680.2 207.5 679.5 C209.1 678.9 210.8 678.2 212.5 677.6 C214.1 676.9 215.8 676.3 217.5 675.7 C219.1 675 220.8 674.4 222.4 673.7 C224.1 673 225.8 672.3 227.4 671.6 C229.1 671 230.8 670.2 232.4 669.5 C234.1 668.8 235.7 668 237.4 667.3 C239.1 666.5 240.7 665.7 242.4 664.9 C244.1 664 245.7 663.2 247.4 662.3 C249.1 661.4 250.7 660.5 252.4 659.6 C254 658.7 255.7 657.7 257.4 656.7 C259 655.8 260.7 654.8 262.4 653.7 C264 652.7 265.7 651.6 267.4 650.5 C269 649.4 270.7 648.3 272.3 647.1 C274 646 275.7 644.8 277.3 643.6 C279 642.3 280.7 641.1 282.3 639.8 C284 638.5 285.6 637.2 287.3 635.9 C289 634.6 290.6 633.2 292.3 631.9 C294 630.5 295.6 629.1 297.3 627.7 C299 626.3 300.6 624.9 302.3 623.4 C303.9 622 305.6 620.5 307.3 619 C308.9 617.5 310.6 616 312.3 614.5 C313.9 613 315.6 611.5 317.3 610 C318.9 608.6 320.6 607.1 322.2 605.7 C323.9 604.2 325.6 602.8 327.2 601.4 C328.9 600.1 330.6 598.7 332.2 597.4 C333.9 596.1 335.6 594.9 337.2 593.7 C338.9 592.5 340.5 591.3 342.2 590.2 C343.9 589 345.5 588 347.2 586.9 C348.9 585.9 350.5 584.9 352.2 584 C353.8 583 355.5 582.1 357.2 581.3 C358.8 580.4 360.5 579.6 362.2 578.9 C363.8 578.1 365.5 577.4 367.2 576.8 C368.8 576.1 370.5 575.5 372.1 574.9 C373.8 574.3 375.5 573.8 377.1 573.3 C378.8 572.8 380.5 572.3 382.1 571.9 C383.8 571.5 385.5 571 387.1 570.7 C388.8 570.3 390.4 569.9 392.1 569.6 C393.8 569.3 395.4 569 397.1 568.7 C398.8 568.4 400.4 568.1 402.1 567.9 C403.7 567.7 405.4 567.5 407.1 567.3 C408.7 567.1 410.4 567 412.1 566.8 C413.7 566.7 415.4 566.6 417.1 566.5 C418.7 566.4 420.4 566.4 422 566.3 C423.7 566.3 425.4 566.3 427 566.3 C428.7 566.3 430.4 566.3 432 566.3 C433.7 566.3 435.4 566.3 437 566.4 C438.7 566.4 440.3 566.5 442 566.5 C443.7 566.6 445.3 566.6 447 566.7 C448.7 566.7 450.3 566.8 452 566.9 C453.7 566.9 455.3 567 457 567.1 C458.6 567.1 460.3 567.2 462 567.3 C463.6 567.3 465.3 567.4 467 567.4 C468.6 567.5 470.3 567.6 471.9 567.6 C473.6 567.7 475.3 567.8 476.9 567.8 C478.6 567.9 480.3 567.9 481.9 568 C483.6 568 485.3 568.1 486.9 568.1 C488.6 568.2 490.2 568.2 491.9 568.3 C493.6 568.3 495.2 568.4 496.9 568.4 C498.6 568.5 500.2 568.5 501.9 568.6 C503.6 568.6 505.2 568.7 506.9 568.7 C508.5 568.8 510.2 568.8 511.9 568.9 C513.5 568.9 515.2 569 516.9 569.1 C518.5 569.1 520.2 569.2 521.8 569.3 C523.5 569.3 525.2 569.4 526.8 569.5 C528.5 569.6 530.2 569.6 531.8 569.7 C533.5 569.8 535.2 569.9 536.8 570 C538.5 570.1 540.1 570.2 541.8 570.3 C543.5 570.4 545.1 570.5 546.8 570.6 C548.5 570.7 550.1 570.8 551.8 571 C553.5 571.1 555.1 571.2 556.8 571.4 C558.4 571.6 560.1 571.7 561.8 571.9 C563.4 572.1 565.1 572.3 566.8 572.5 C568.4 572.7 570.1 572.9 571.8 573.1 C573.4 573.3 575.1 573.6 576.7 573.8 C578.4 574 580.1 574.3 581.7 574.5 C583.4 574.8 585.1 575 586.7 575.3 C588.4 575.5 590 575.8 591.7 576 C593.4 576.3 595 576.6 596.7 576.8 C598.4 577.1 600 577.4 601.7 577.7 C603.4 577.9 605 578.2 606.7 578.5 C608.3 578.8 610 579.1 611.7 579.4 C613.3 579.7 615 580 616.7 580.3 C618.3 580.7 620 581 621.7 581.3 C623.3 581.7 625 582 626.6 582.4 C628.3 582.7 630 583.1 631.6 583.5 C633.3 583.9 635 584.2 636.6 584.6 C638.3 585 639.9 585.4 641.6 585.9 C643.3 586.3 644.9 586.7 646.6 587.1 C648.3 587.5 649.9 587.9 651.6 588.3 C653.3 588.7 654.9 589.1 656.6 589.5 C658.2 589.9 659.9 590.3 661.6 590.7 C663.2 591 664.9 591.4 666.6 591.7 C668.2 592 669.9 592.4 671.6 592.6 C673.2 592.9 674.9 593.2 676.5 593.4 C678.2 593.6 679.9 593.8 681.5 594 C683.2 594.2 684.9 594.3 686.5 594.5 C688.2 594.6 689.8 594.7 691.5 594.8 C693.2 594.8 694.8 594.9 696.5 594.9 C698.2 595 699.8 595 701.5 595 C703.2 595.1 704.8 595.1 706.5 595.1 C708.1 595.1 709.8 595 711.5 595 C713.1 595 714.8 594.9 716.5 594.9 C718.1 594.8 719.8 594.7 721.5 594.6 C723.1 594.5 724.8 594.4 726.4 594.2 C728.1 594.1 729.8 593.9 731.4 593.7 C733.1 593.6 734.8 593.4 736.4 593.2 C738.1 592.9 739.8 592.7 741.4 592.5 C743.1 592.2 744.7 592 746.4 591.7 C748.1 591.5 749.7 591.2 751.4 590.9 C753.1 590.6 754.7 590.3 756.4 590 C758 589.7 759.7 589.4 761.4 589.1 C763 588.8 764.7 588.4 766.4 588.1 C768 587.8 769.7 587.5 771.4 587.1 C773 586.8 774.7 586.5 776.3 586.1 C778 585.8 779.7 585.5 781.3 585.1 C783 584.8 784.7 584.5 786.3 584.2 C788 583.8 790.5 583.3 791.3 583.2" stroke="#000" stroke-width="1.5" fill="none"/>
<g fill="none" stroke="#eba280" stroke-width="1.5"><circle cx="246.2" cy="678.8" r="2.85"/><circle cx="370" cy="650.8" r="2.85"/><circle cx="370" cy="660" r="2.85"/><circle cx="370" cy="668.8" r="2.85"/><circle cx="370" cy="675" r="2.85"/><circle cx="370" cy="678.8" r="2.85"/><circle cx="370" cy="680.8" r="2.85"/><circle cx="381.2" cy="651.8" r="2.85"/><circle cx="381.2" cy="660.8" r="2.85"/><circle cx="381.2" cy="671.2" r="2.85"/><circle cx="381.2" cy="677.5" r="2.85"/><circle cx="381.2" cy="680" r="2.85"/><circle cx="381.2" cy="681.2" r="2.85"/><circle cx="391.8" cy="657.5" r="2.85"/><circle cx="391.8" cy="672.5" r="2.85"/><circle cx="391.8" cy="675" r="2.85"/><circle cx="391.8" cy="677.5" r="2.85"/><circle cx="391.8" cy="680" r="2.85"/><circle cx="400" cy="653.8" r="2.85"/><circle cx="400" cy="671.2" r="2.85"/><circle cx="400" cy="675" r="2.85"/><circle cx="400" cy="677.5" r="2.85"/><circle cx="400" cy="680.8" r="2.85"/><circle cx="410.5" cy="648" r="2.85"/><circle cx="410.5" cy="663.8" r="2.85"/><circle cx="410.5" cy="666.2" r="2.85"/><circle cx="410.5" cy="670" r="2.85"/><circle cx="410.5" cy="672.5" r="2.85"/><circle cx="410.5" cy="677.5" r="2.85"/><circle cx="418.8" cy="646.2" r="2.85"/><circle cx="418.8" cy="653" r="2.85"/><circle cx="418.8" cy="660" r="2.85"/><circle cx="418.8" cy="666.2" r="2.85"/><circle cx="418.8" cy="670" r="2.85"/><circle cx="429.5" cy="653.8" r="2.85"/><circle cx="429.5" cy="658.8" r="2.85"/><circle cx="429.5" cy="661.2" r="2.85"/><circle cx="429.5" cy="672.5" r="2.85"/><circle cx="437.5" cy="640" r="2.85"/><circle cx="437.5" cy="646.2" r="2.85"/><circle cx="437.5" cy="652.5" r="2.85"/><circle cx="437.5" cy="658.8" r="2.85"/><circle cx="437.5" cy="665" r="2.85"/><circle cx="448" cy="630" r="2.85"/><circle cx="448" cy="633.8" r="2.85"/><circle cx="448" cy="637.5" r="2.85"/><circle cx="448" cy="641.2" r="2.85"/><circle cx="448" cy="657" r="2.85"/><circle cx="456.2" cy="622.5" r="2.85"/><circle cx="456.2" cy="631.2" r="2.85"/><circle cx="456.2" cy="640" r="2.85"/><circle cx="456.2" cy="658" r="2.85"/><circle cx="467" cy="618" r="2.85"/><circle cx="467" cy="620.5" r="2.85"/><circle cx="467" cy="623.8" r="2.85"/><circle cx="467" cy="630" r="2.85"/><circle cx="467" cy="653" r="2.85"/><circle cx="486.2" cy="590" r="2.85"/><circle cx="486.2" cy="593.8" r="2.85"/><circle cx="486.2" cy="601.2" r="2.85"/><circle cx="486.2" cy="605" r="2.85"/><circle cx="486.2" cy="618.8" r="2.85"/><circle cx="486.2" cy="641.2" r="2.85"/><circle cx="507.5" cy="576.2" r="2.85"/><circle cx="507.5" cy="588.8" r="2.85"/><circle cx="507.5" cy="593.8" r="2.85"/><circle cx="507.5" cy="598.8" r="2.85"/><circle cx="507.5" cy="602.5" r="2.85"/><circle cx="507.5" cy="605" r="2.85"/><circle cx="507.5" cy="629.5" r="2.85"/><circle cx="523.8" cy="555" r="2.85"/><circle cx="523.8" cy="581.2" r="2.85"/><circle cx="523.8" cy="586.2" r="2.85"/><circle cx="523.8" cy="593.8" r="2.85"/><circle cx="523.8" cy="598.8" r="2.85"/><circle cx="523.8" cy="618" r="2.85"/><circle cx="542.5" cy="553.8" r="2.85"/><circle cx="542.5" cy="568.8" r="2.85"/><circle cx="542.5" cy="572.5" r="2.85"/><circle cx="542.5" cy="578.8" r="2.85"/><circle cx="542.5" cy="583.8" r="2.85"/><circle cx="542.5" cy="586.2" r="2.85"/><circle cx="542.5" cy="590" r="2.85"/><circle cx="542.5" cy="612.5" r="2.85"/><circle cx="599.7" cy="569.8" r="2.85"/><circle cx="599.7" cy="573.1" r="2.85"/><circle cx="599.7" cy="577.4" r="2.85"/><circle cx="599.7" cy="580.6" r="2.85"/><circle cx="599.7" cy="595.7" r="2.85"/><circle cx="637.3" cy="574.1" r="2.85"/><circle cx="637.3" cy="578.4" r="2.85"/><circle cx="637.3" cy="581.7" r="2.85"/><circle cx="637.3" cy="589.2" r="2.85"/><circle cx="637.3" cy="602.1" r="2.85"/><circle cx="680.4" cy="553.7" r="2.85"/><circle cx="680.4" cy="558" r="2.85"/><circle cx="680.4" cy="572" r="2.85"/><circle cx="680.4" cy="581.7" r="2.85"/><circle cx="718.3" cy="608.6" r="2.85"/><circle cx="756" cy="553.7" r="2.85"/><circle cx="756" cy="556.9" r="2.85"/><circle cx="756" cy="593.9" r="2.85"/><circle cx="791.3" cy="552.6" r="2.85"/><circle cx="791.3" cy="556.9" r="2.85"/><circle cx="791.3" cy="603.2" r="2.85"/></g>
<path d="M245.8 665.7 C246.7 665.8 249.8 666.2 251.6 666.4 C253.4 666.6 254.9 666.8 256.5 667 C258.2 667.3 259.8 667.5 261.5 667.7 C263.1 667.9 264.8 668.1 266.4 668.3 C268.1 668.5 269.7 668.7 271.4 668.8 C273 669 274.7 669.2 276.3 669.4 C278 669.6 279.6 669.7 281.2 669.9 C282.9 670 284.5 670.2 286.2 670.3 C287.8 670.5 289.5 670.6 291.1 670.8 C292.8 670.9 294.4 671 296.1 671.2 C297.7 671.3 299.4 671.4 301 671.5 C302.7 671.6 304.3 671.7 306 671.9 C307.6 672 309.3 672.2 310.9 672.3 C312.6 672.4 314.2 672.5 315.9 672.6 C317.5 672.8 319.2 672.9 320.8 673 C322.5 673.1 324.1 673.2 325.8 673.2 C327.4 673.3 329.1 673.4 330.7 673.5 C332.4 673.5 334 673.6 335.7 673.7 C337.4 673.7 339 673.8 340.6 673.8 C342.3 673.9 343.9 673.9 345.6 673.9 C347.2 673.9 348.9 673.8 350.5 673.7 C352.2 673.6 353.8 673.5 355.4 673.4 C357.1 673.2 358.7 673.1 360.4 672.9 C362 672.8 363.7 672.6 365.3 672.4 C367 672.2 368.6 672 370.3 671.7 C371.9 671.5 373.5 671.2 375.2 671 C376.8 670.7 378.5 670.4 380.1 670 C381.8 669.7 383.4 669.4 385.1 669 C386.7 668.6 388.3 668.2 390 667.8 C391.6 667.3 393.3 666.8 394.9 666.3 C396.5 665.8 398.2 665.2 399.8 664.6 C401.5 664 403.1 663.4 404.7 662.7 C406.4 662.1 408 661.4 409.7 660.7 C411.3 660 413 659.3 414.6 658.5 C416.2 657.7 417.9 656.9 419.5 656.1 C421.1 655.2 422.8 654.3 424.4 653.4 C426 652.4 427.7 651.4 429.3 650.4 C430.9 649.3 432.6 648.2 434.2 647.1 C435.9 646 437.5 644.8 439.2 643.5 C440.8 642.3 442.5 641 444.1 639.7 C445.8 638.4 447.4 637.1 449.1 635.8 C450.7 634.4 452.4 633.1 454.1 631.7 C455.7 630.3 457.4 629 459.1 627.6 C460.7 626.3 462.4 624.9 464.1 623.5 C465.8 622.2 467.4 620.8 469.1 619.5 C470.8 618.1 472.4 616.8 474.1 615.5 C475.8 614.1 477.5 612.8 479.1 611.5 C480.8 610.2 482.5 608.9 484.2 607.6 C485.9 606.3 487.5 605 489.2 603.8 C490.9 602.5 492.6 601.3 494.3 600.1 C495.9 598.9 497.6 597.7 499.3 596.5 C501 595.4 502.7 594.3 504.4 593.2 C506.1 592.1 507.8 591 509.5 590 C511.2 589 512.9 588 514.6 587 C516.3 586.1 518 585.2 519.7 584.3 C521.4 583.4 523.1 582.6 524.8 581.8 C526.5 581 528.2 580.2 529.9 579.5 C531.6 578.8 533.3 578.2 535 577.6 C536.7 577 538.4 576.5 540.2 576 C541.9 575.5 543.6 575.1 545.3 574.7 C547.1 574.3 548.8 574 550.5 573.7 C552.3 573.4 554 573.2 555.7 573 C557.4 572.8 559.1 572.6 560.8 572.5 C562.5 572.3 564.3 572.3 566 572.3 C567.7 572.2 569.4 572.2 571.1 572.2 C572.7 572.2 574.4 572.2 576.1 572.2 C577.8 572.2 579.5 572.2 581.2 572.2 C582.9 572.3 584.6 572.3 586.2 572.4 C587.9 572.4 589.6 572.5 591.3 572.6 C593 572.6 594.6 572.7 596.3 572.8 C598 572.9 599.6 572.9 601.3 573 C603 573.1 604.6 573.2 606.3 573.2 C607.9 573.3 609.6 573.3 611.2 573.4 C612.9 573.4 614.6 573.5 616.2 573.5 C617.9 573.5 619.5 573.5 621.2 573.5 C622.8 573.5 624.5 573.5 626.1 573.5 C627.7 573.5 629.4 573.5 631 573.4 C632.7 573.4 634.3 573.3 636 573.2 C637.6 573.2 639.3 573.1 640.9 573 C642.5 572.9 644.2 572.9 645.8 572.8 C647.5 572.7 649.1 572.6 650.8 572.5 C652.5 572.4 654.1 572.2 655.8 572.1 C657.4 572 659.1 571.8 660.7 571.7 C662.4 571.5 664.1 571.4 665.7 571.2 C667.4 571 669.1 570.9 670.7 570.7 C672.4 570.5 674 570.3 675.7 570.1 C677.4 569.9 679 569.7 680.7 569.5 C682.3 569.3 684 569.1 685.7 568.8 C687.3 568.6 689 568.3 690.6 568 C692.3 567.8 694 567.5 695.7 567.2 C697.3 566.9 699 566.6 700.7 566.4 C702.4 566.1 704.1 565.8 705.8 565.6 C707.5 565.3 709.2 565.1 710.9 564.9 C712.5 564.7 714.2 564.5 715.9 564.3 C717.6 564.1 719.3 563.9 721 563.8 C722.6 563.6 724.3 563.5 726 563.3 C727.7 563.2 729.4 563.1 731 562.9 C732.7 562.8 734.4 562.7 736.1 562.6 C737.7 562.5 739.4 562.4 741.1 562.3 C742.8 562.2 744.4 562.1 746.1 562 C747.8 561.9 749.5 561.8 751.1 561.7 C752.8 561.7 754.5 561.6 756.1 561.5 C757.8 561.4 759.5 561.3 761.2 561.3 C762.8 561.2 764.5 561.1 766.2 561.1 C767.9 561 769.5 561 771.2 560.9 C772.9 560.9 774.5 560.8 776.2 560.8 C777.9 560.7 779.6 560.7 781.2 560.6 C782.9 560.6 784.6 560.5 786.2 560.5 C787.9 560.5 790.5 560.4 791.3 560.4 L791.3 566.4 C790.5 566.4 788 566.5 786.4 566.5 C784.7 566.5 783.1 566.6 781.4 566.6 C779.7 566.7 778.1 566.7 776.4 566.8 C774.7 566.8 773.1 566.9 771.4 566.9 C769.7 567 768.1 567 766.4 567.1 C764.7 567.1 763.1 567.2 761.4 567.3 C759.7 567.3 758.1 567.4 756.4 567.5 C754.8 567.6 753.1 567.6 751.4 567.7 C749.8 567.8 748.1 567.9 746.4 568 C744.8 568.1 743.1 568.2 741.4 568.3 C739.8 568.4 738.1 568.5 736.5 568.6 C734.8 568.7 733.1 568.8 731.5 568.9 C729.8 569.1 728.2 569.2 726.5 569.3 C724.8 569.5 723.2 569.6 721.5 569.7 C719.9 569.9 718.2 570.1 716.6 570.2 C714.9 570.4 713.3 570.6 711.6 570.8 C710 571 708.3 571.3 706.7 571.5 C705 571.7 703.4 572 701.7 572.3 C700.1 572.6 698.4 572.9 696.8 573.3 C695.1 573.6 693.5 574 691.8 574.3 C690.1 574.7 688.4 575 686.8 575.3 C685.1 575.6 683.4 575.9 681.7 576.2 C680 576.5 678.4 576.8 676.7 577.1 C675 577.4 673.3 577.6 671.7 577.9 C670 578.1 668.3 578.4 666.6 578.6 C665 578.8 663.3 579.1 661.6 579.3 C659.9 579.5 658.3 579.7 656.6 580 C654.9 580.2 653.2 580.4 651.5 580.6 C649.9 580.7 648.2 580.9 646.5 581.1 C644.8 581.3 643.1 581.4 641.4 581.5 C639.7 581.7 638 581.8 636.3 581.8 C634.7 581.9 633 582 631.3 582 C629.6 582.1 627.9 582.1 626.2 582.1 C624.5 582.1 622.8 582.1 621.1 582.1 C619.4 582.1 617.8 582.1 616.1 582.1 C614.4 582.1 612.7 582 611 582 C609.3 581.9 607.6 581.9 606 581.8 C604.3 581.7 602.6 581.7 600.9 581.6 C599.3 581.5 597.6 581.5 595.9 581.4 C594.3 581.3 592.6 581.2 590.9 581.2 C589.3 581.1 587.6 581 586 581 C584.3 580.9 582.7 580.9 581 580.8 C579.4 580.8 577.7 580.8 576.1 580.8 C574.4 580.8 572.8 580.8 571.1 580.8 C569.5 580.8 567.8 580.8 566.2 580.9 C564.6 580.9 562.9 581 561.3 581.1 C559.7 581.1 558.1 581.2 556.4 581.3 C554.8 581.4 553.2 581.5 551.6 581.6 C550 581.8 548.4 582 546.8 582.2 C545.2 582.5 543.6 582.8 541.9 583.1 C540.3 583.5 538.7 583.9 537.1 584.3 C535.5 584.8 533.9 585.3 532.2 585.8 C530.6 586.4 529 587 527.3 587.6 C525.7 588.3 524 589 522.4 589.8 C520.7 590.5 519.1 591.4 517.5 592.3 C515.8 593.2 514.2 594.1 512.6 595.1 C510.9 596.1 509.3 597.2 507.6 598.2 C506 599.3 504.4 600.4 502.7 601.5 C501.1 602.6 499.4 603.8 497.8 605 C496.1 606.2 494.4 607.4 492.8 608.6 C491.1 609.8 489.5 611.1 487.8 612.3 C486.2 613.6 484.5 614.9 482.8 616.2 C481.2 617.5 479.5 618.8 477.9 620.1 C476.2 621.5 474.5 622.8 472.9 624.2 C471.2 625.5 469.5 626.8 467.9 628.2 C466.2 629.6 464.5 630.9 462.9 632.3 C461.2 633.6 459.5 635 457.9 636.4 C456.2 637.7 454.5 639.1 452.8 640.4 C451.2 641.8 449.5 643.1 447.8 644.4 C446.1 645.8 444.4 647.1 442.7 648.3 C441.1 649.6 439.4 650.9 437.7 652 C436 653.2 434.3 654.4 432.6 655.5 C430.9 656.6 429.2 657.6 427.5 658.7 C425.8 659.7 424.1 660.6 422.4 661.5 C420.7 662.4 419 663.3 417.3 664.1 C415.6 664.9 413.9 665.7 412.2 666.4 C410.5 667.2 408.8 667.9 407.1 668.6 C405.4 669.3 403.7 669.9 402 670.6 C400.3 671.2 398.6 671.8 396.9 672.3 C395.2 672.9 393.5 673.5 391.8 674 C390.1 674.5 388.4 675 386.7 675.5 C385 676 383.3 676.4 381.7 676.9 C380 677.3 378.3 677.7 376.6 678 C374.9 678.4 373.2 678.8 371.5 679.1 C369.8 679.4 368.1 679.7 366.4 680 C364.7 680.3 363 680.6 361.4 680.8 C359.7 681.1 358 681.3 356.3 681.5 C354.6 681.7 352.9 681.9 351.2 682.1 C349.5 682.3 347.8 682.4 346.1 682.6 C344.4 682.8 342.7 683 341 683.2 C339.4 683.4 337.7 683.5 336 683.7 C334.3 683.8 332.6 684 330.9 684.1 C329.3 684.2 327.6 684.4 325.9 684.5 C324.2 684.6 322.5 684.7 320.8 684.9 C319.2 685 317.5 685.1 315.8 685.2 C314.1 685.3 312.4 685.3 310.7 685.4 C309 685.5 307.3 685.6 305.7 685.6 C304 685.7 302.3 685.7 300.6 685.8 C298.9 685.8 297.2 685.8 295.5 685.8 C293.9 685.8 292.2 685.8 290.5 685.8 C288.8 685.8 287.1 685.8 285.4 685.7 C283.7 685.7 282 685.7 280.3 685.7 C278.6 685.6 276.9 685.6 275.3 685.6 C273.6 685.5 271.9 685.5 270.2 685.4 C268.5 685.3 266.8 685.3 265.1 685.2 C263.4 685.1 261.7 685.1 260 685 C258.4 684.9 256.7 684.8 255 684.7 C253.3 684.7 251.5 684.6 250 684.5 C248.4 684.4 246.5 684.3 245.8 684.3 Z" fill="#eba280" fill-opacity="0.45"/>
<path d="M245.8 675 C246.6 675.1 249.1 675.3 250.8 675.4 C252.4 675.6 254.1 675.7 255.8 675.9 C257.4 676 259.1 676.2 260.8 676.3 C262.4 676.5 264.1 676.6 265.8 676.7 C267.4 676.9 269.1 677 270.8 677.1 C272.4 677.2 274.1 677.4 275.8 677.5 C277.4 677.6 279.1 677.7 280.8 677.8 C282.5 677.9 284.1 678 285.8 678 C287.5 678.1 289.1 678.2 290.8 678.3 C292.5 678.3 294.1 678.4 295.8 678.5 C297.5 678.5 299.1 678.6 300.8 678.6 C302.5 678.7 304.1 678.7 305.8 678.8 C307.5 678.8 309.1 678.8 310.8 678.9 C312.5 678.9 314.2 678.9 315.8 678.9 C317.5 678.9 319.2 678.9 320.8 678.9 C322.5 678.9 324.2 678.9 325.8 678.9 C327.5 678.8 329.2 678.8 330.8 678.8 C332.5 678.8 334.2 678.7 335.8 678.7 C337.5 678.6 339.2 678.6 340.8 678.5 C342.5 678.4 344.2 678.3 345.9 678.2 C347.5 678.1 349.2 678 350.9 677.9 C352.5 677.8 354.2 677.6 355.9 677.4 C357.5 677.3 359.2 677.1 360.9 676.9 C362.5 676.7 364.2 676.4 365.9 676.2 C367.5 675.9 369.2 675.7 370.9 675.4 C372.5 675.1 374.2 674.8 375.9 674.5 C377.6 674.2 379.2 673.8 380.9 673.5 C382.6 673.1 384.2 672.7 385.9 672.2 C387.6 671.8 389.2 671.4 390.9 670.9 C392.6 670.4 394.2 669.9 395.9 669.3 C397.6 668.8 399.2 668.2 400.9 667.6 C402.6 667 404.2 666.3 405.9 665.7 C407.6 665 409.3 664.3 410.9 663.6 C412.6 662.8 414.3 662.1 415.9 661.3 C417.6 660.5 419.3 659.7 420.9 658.8 C422.6 657.9 424.3 657 425.9 656 C427.6 655 429.3 654 430.9 652.9 C432.6 651.9 434.3 650.7 435.9 649.6 C437.6 648.4 439.3 647.2 441 645.9 C442.6 644.7 444.3 643.4 446 642.1 C447.6 640.8 449.3 639.4 451 638.1 C452.6 636.7 454.3 635.4 456 634 C457.6 632.7 459.3 631.3 461 629.9 C462.6 628.6 464.3 627.2 466 625.9 C467.6 624.5 469.3 623.2 471 621.8 C472.7 620.5 474.3 619.1 476 617.8 C477.7 616.5 479.3 615.1 481 613.8 C482.7 612.5 484.3 611.2 486 610 C487.7 608.7 489.3 607.4 491 606.2 C492.7 604.9 494.3 603.7 496 602.5 C497.7 601.3 499.3 600.2 501 599 C502.7 597.9 504.4 596.8 506 595.7 C507.7 594.6 509.4 593.6 511 592.6 C512.7 591.6 514.4 590.6 516 589.7 C517.7 588.7 519.4 587.9 521 587 C522.7 586.2 524.4 585.4 526 584.7 C527.7 584 529.4 583.3 531 582.7 C532.7 582 534.4 581.5 536.1 581 C537.7 580.4 539.4 580 541.1 579.6 C542.7 579.1 544.4 578.8 546.1 578.5 C547.7 578.1 549.4 577.9 551.1 577.7 C552.7 577.4 554.4 577.3 556.1 577.1 C557.7 577 559.4 576.9 561.1 576.8 C562.7 576.7 564.4 576.6 566.1 576.6 C567.8 576.5 569.4 576.5 571.1 576.5 C572.8 576.5 574.4 576.5 576.1 576.5 C577.8 576.5 579.4 576.5 581.1 576.5 C582.8 576.6 584.4 576.6 586.1 576.7 C587.8 576.7 589.4 576.8 591.1 576.9 C592.8 576.9 594.4 577 596.1 577.1 C597.8 577.2 599.5 577.2 601.1 577.3 C602.8 577.4 604.5 577.4 606.1 577.5 C607.8 577.6 609.5 577.6 611.1 577.7 C612.8 577.7 614.5 577.8 616.1 577.8 C617.8 577.8 619.5 577.8 621.1 577.8 C622.8 577.8 624.5 577.8 626.1 577.8 C627.8 577.8 629.5 577.8 631.1 577.7 C632.8 577.7 634.5 577.6 636.2 577.5 C637.8 577.5 639.5 577.4 641.2 577.3 C642.8 577.2 644.5 577.1 646.2 576.9 C647.8 576.8 649.5 576.7 651.2 576.5 C652.8 576.4 654.5 576.2 656.2 576 C657.8 575.9 659.5 575.7 661.2 575.5 C662.8 575.3 664.5 575.1 666.2 574.9 C667.9 574.7 669.5 574.5 671.2 574.3 C672.9 574.1 674.5 573.8 676.2 573.6 C677.9 573.4 679.5 573.1 681.2 572.9 C682.9 572.6 684.5 572.3 686.2 572.1 C687.9 571.8 689.5 571.5 691.2 571.2 C692.9 570.9 694.5 570.5 696.2 570.2 C697.9 569.9 699.6 569.6 701.2 569.3 C702.9 569 704.6 568.8 706.2 568.5 C707.9 568.3 709.6 568.1 711.2 567.8 C712.9 567.6 714.6 567.4 716.2 567.3 C717.9 567.1 719.6 566.9 721.2 566.8 C722.9 566.6 724.6 566.5 726.2 566.3 C727.9 566.2 729.6 566.1 731.3 565.9 C732.9 565.8 734.6 565.7 736.3 565.6 C737.9 565.5 739.6 565.4 741.3 565.3 C742.9 565.2 744.6 565.1 746.3 565 C747.9 564.9 749.6 564.8 751.3 564.7 C752.9 564.6 754.6 564.6 756.3 564.5 C757.9 564.4 759.6 564.3 761.3 564.3 C763 564.2 764.6 564.1 766.3 564.1 C768 564 769.6 564 771.3 563.9 C773 563.9 774.6 563.8 776.3 563.8 C778 563.7 779.6 563.7 781.3 563.6 C783 563.6 784.6 563.5 786.3 563.5 C788 563.5 790.5 563.4 791.3 563.4" stroke="#000" stroke-width="1.5" fill="none"/>
<g fill="#95c3de"><use href="#td" x="465" y="680"/><use href="#td" x="496.2" y="680"/><use href="#td" x="515" y="673.8"/><use href="#td" x="516.2" y="680"/><use href="#td" x="531.2" y="661.2"/><use href="#td" x="531.2" y="670"/><use href="#td" x="531.2" y="678.8"/><use href="#td" x="548.8" y="648.8"/><use href="#td" x="548.8" y="661.2"/><use href="#td" x="548.8" y="671.2"/><use href="#td" x="548.8" y="675"/><use href="#td" x="566.2" y="625"/><use href="#td" x="566.2" y="638.8"/><use href="#td" x="566.2" y="648.8"/><use href="#td" x="566.2" y="662.5"/><use href="#td" x="531.8" y="661.3"/><use href="#td" x="531.8" y="673.2"/><use href="#td" x="531.8" y="678.6"/><use href="#td" x="548" y="648.4"/><use href="#td" x="548" y="661.3"/><use href="#td" x="548" y="671"/><use href="#td" x="548" y="673.2"/><use href="#td" x="567.4" y="624.7"/><use href="#td" x="567.4" y="638.7"/><use href="#td" x="567.4" y="653.8"/><use href="#td" x="567.4" y="663.5"/><use href="#td" x="586.3" y="612.9"/><use href="#td" x="586.3" y="620.4"/><use href="#td" x="586.3" y="635.5"/><use href="#td" x="586.3" y="647.3"/><use href="#td" x="605" y="604.3"/><use href="#td" x="605" y="621.5"/><use href="#td" x="605" y="630.1"/><use href="#td" x="620.8" y="587.1"/><use href="#td" x="620.8" y="592.4"/><use href="#td" x="620.8" y="608.6"/><use href="#td" x="620.8" y="618.3"/><use href="#td" x="648.1" y="580"/><use href="#td" x="648.1" y="592.4"/><use href="#td" x="648.1" y="601.1"/><use href="#td" x="663.8" y="575.2"/><use href="#td" x="663.8" y="586.4"/><use href="#td" x="685.8" y="563.4"/><use href="#td" x="685.8" y="568.8"/><use href="#td" x="686.5" y="563.4"/><use href="#td" x="704.8" y="566.6"/><use href="#td" x="704.8" y="574.1"/><use href="#td" x="723.1" y="563.4"/><use href="#td" x="759" y="577.4"/></g>
<path d="M464.3 670.7 C465.2 670.9 467.8 671.6 469.4 672 C471.1 672.5 472.6 672.9 474.2 673.3 C475.8 673.7 477.4 674.2 479 674.5 C480.6 674.8 482.2 675 483.7 675.1 C485.3 675.3 486.9 675.4 488.5 675.5 C490 675.6 491.6 675.7 493.2 675.8 C494.8 675.8 496.4 675.8 498 675.7 C499.6 675.7 501.2 675.6 502.8 675.5 C504.4 675.3 506.1 675.2 507.7 674.9 C509.4 674.7 511.1 674.4 512.7 674 C514.3 673.5 515.9 672.9 517.6 672.3 C519.2 671.7 520.8 671 522.5 670.3 C524.1 669.7 525.8 668.9 527.4 668.2 C529.1 667.4 530.8 666.7 532.4 665.9 C534.1 665.1 535.8 664.3 537.5 663.5 C539.1 662.6 540.8 661.7 542.4 660.8 C544 659.9 545.7 659 547.3 658 C548.9 657 550.5 656 552.2 654.9 C553.8 653.8 555.4 652.7 557 651.5 C558.7 650.3 560.3 649 561.9 647.7 C563.5 646.4 565.2 645 566.8 643.6 C568.5 642.2 570.1 640.7 571.7 639.2 C573.4 637.7 575 636.1 576.7 634.5 C578.3 632.9 580 631.3 581.6 629.7 C583.3 628 585 626.4 586.6 624.8 C588.3 623.1 590 621.5 591.6 619.9 C593.3 618.3 595 616.7 596.6 615.1 C598.3 613.5 600 612 601.7 610.5 C603.3 608.9 605 607.4 606.7 606 C608.4 604.5 610 603.1 611.7 601.7 C613.4 600.4 615.1 599 616.8 597.7 C618.5 596.4 620.1 595.2 621.8 594 C623.5 592.8 625.2 591.6 626.9 590.5 C628.6 589.4 630.3 588.4 632 587.4 C633.7 586.4 635.4 585.5 637.1 584.6 C638.7 583.7 640.4 582.9 642.1 582.2 C643.8 581.4 645.5 580.7 647.2 580.1 C648.9 579.4 650.6 578.8 652.3 578.2 C654 577.7 655.7 577.2 657.4 576.7 C659.1 576.2 660.8 575.8 662.5 575.4 C664.2 575 665.9 574.7 667.6 574.4 C669.3 574.1 671 573.8 672.6 573.5 C674.3 573.2 675.9 573 677.6 572.7 C679.2 572.4 680.9 572.1 682.5 571.8 C684.1 571.5 685.7 571.1 687.4 570.8 C689 570.4 690.7 570 692.3 569.6 C694 569.3 695.6 568.8 697.3 568.5 C699 568.1 700.7 567.7 702.3 567.4 C704 567.1 705.7 566.8 707.4 566.5 C709.1 566.2 710.8 566 712.5 565.8 C714.2 565.5 715.9 565.4 717.5 565.2 C719.2 565 720.9 564.9 722.6 564.7 C724.2 564.6 725.9 564.4 727.6 564.3 C729.2 564.2 730.9 564.1 732.6 564 C734.3 563.9 735.9 563.8 737.6 563.7 C739.2 563.6 740.9 563.5 742.6 563.5 C744.3 563.4 745.9 563.3 747.6 563.3 C749.3 563.2 750.9 563.1 752.6 563.1 C754.3 563.1 756 563.1 757.6 563 C759.3 563 761 563 762.7 563 C764.3 562.9 766 562.9 767.7 562.9 C769.4 562.9 771.1 562.9 772.8 563 C774.5 563 776.2 563.1 777.9 563.2 C779.6 563.3 781.3 563.5 783.1 563.6 C784.8 563.8 786.5 564 788.2 564.2 C789.9 564.4 791.7 564.7 793.4 565 C795.1 565.3 796.8 565.7 798.5 565.9 C800.3 566.2 802 566.5 803.8 566.7 C805.5 566.9 807.3 567 809.1 567.2 C810.9 567.4 812.6 567.5 814.4 567.7 C816.2 567.9 817.9 568.1 819.7 568.3 C821.4 568.5 823.2 568.8 824.9 569 C826.7 569.2 828.4 569.4 830.2 569.6 C831.9 569.8 834.3 570.2 835.4 570.2 C836.6 570.2 836.9 569.8 837.2 569.8 L837.2 594.9 C835.8 594.3 831.1 592.4 829 591.4 C826.8 590.4 825.8 589.8 824.3 589 C822.7 588.2 821.1 587.4 819.6 586.6 C818 585.8 816.5 585 814.9 584.2 C813.3 583.4 811.8 582.6 810.2 581.8 C808.7 581 807.2 580.2 805.6 579.5 C804.1 578.7 802.5 577.9 801 577.2 C799.4 576.6 797.9 576 796.3 575.5 C794.7 575 793.1 574.6 791.5 574.2 C789.9 573.8 788.3 573.5 786.7 573.2 C785.1 572.8 783.5 572.5 781.9 572.2 C780.3 572 778.7 571.7 777.1 571.5 C775.5 571.3 773.9 571.1 772.3 570.9 C770.7 570.7 769.1 570.6 767.4 570.5 C765.8 570.4 764.2 570.2 762.5 570.2 C760.9 570.1 759.3 570 757.6 570 C756 570 754.4 570 752.7 570 C751.1 570.1 749.4 570.1 747.8 570.1 C746.1 570.2 744.5 570.2 742.9 570.3 C741.2 570.3 739.6 570.4 737.9 570.5 C736.3 570.5 734.6 570.6 733 570.7 C731.3 570.8 729.7 570.9 728 571 C726.4 571.1 724.7 571.2 723.1 571.3 C721.5 571.4 719.8 571.6 718.2 571.7 C716.6 571.9 714.9 572 713.3 572.2 C711.7 572.4 710 572.6 708.4 572.9 C706.8 573.1 705.2 573.4 703.5 573.7 C701.9 574 700.3 574.3 698.7 574.7 C697 575 695.4 575.4 693.7 575.8 C692 576.2 690.4 576.5 688.7 576.9 C687 577.2 685.3 577.6 683.6 577.9 C682 578.2 680.3 578.5 678.6 578.7 C676.9 579 675.3 579.2 673.6 579.5 C672 579.8 670.3 580 668.7 580.3 C667.1 580.6 665.4 580.9 663.8 581.2 C662.2 581.6 660.6 581.9 659 582.4 C657.4 582.8 655.7 583.3 654.1 583.8 C652.5 584.3 650.9 584.8 649.3 585.4 C647.7 586 646.1 586.7 644.4 587.4 C642.8 588.1 641.2 588.8 639.6 589.6 C638 590.4 636.4 591.3 634.7 592.2 C633.1 593.1 631.5 594.1 629.9 595.1 C628.2 596.2 626.6 597.3 625 598.4 C623.3 599.6 621.7 600.8 620.1 602 C618.5 603.3 616.8 604.6 615.2 605.9 C613.6 607.3 611.9 608.7 610.3 610.1 C608.7 611.6 607 613 605.4 614.5 C603.7 616 602.1 617.6 600.5 619.2 C598.8 620.7 597.2 622.3 595.5 623.9 C593.9 625.5 592.2 627.2 590.6 628.8 C588.9 630.4 587.3 632.1 585.6 633.7 C584 635.3 582.3 637 580.6 638.6 C579 640.2 577.3 641.8 575.6 643.4 C574 644.9 572.3 646.5 570.6 647.9 C568.9 649.4 567.3 650.8 565.6 652.2 C563.9 653.6 562.2 654.9 560.5 656.2 C558.8 657.4 557.1 658.6 555.5 659.8 C553.8 660.9 552.1 662 550.4 663.1 C548.7 664.1 547 665.1 545.3 666 C543.7 667 542 667.9 540.3 668.8 C538.7 669.7 537 670.7 535.4 671.6 C533.7 672.5 532.1 673.4 530.4 674.3 C528.8 675.2 527.1 676 525.5 676.9 C523.8 677.7 522.1 678.5 520.4 679.3 C518.8 680 517 680.7 515.4 681.4 C513.7 682.2 512.1 683 510.4 683.7 C508.7 684.5 507 685.2 505.4 685.9 C503.7 686.5 502 687.2 500.3 687.7 C498.5 688.3 496.8 688.8 495.1 689.3 C493.4 689.8 491.6 690.3 489.9 690.7 C488.2 691.1 486.4 691.5 484.7 691.8 C482.9 692.2 481.2 692.5 479.5 692.9 C477.7 693.3 476 693.8 474.3 694.2 C472.6 694.6 470.8 695 469.2 695.4 C467.5 695.8 465.1 696.4 464.3 696.6 Z" fill="#95c3de" fill-opacity="0.47"/>
<path d="M464.3 683.6 C465.1 683.6 467.6 683.7 469.3 683.7 C470.9 683.7 472.6 683.7 474.3 683.7 C475.9 683.7 477.6 683.7 479.2 683.7 C480.9 683.6 482.5 683.6 484.2 683.5 C485.9 683.4 487.5 683.3 489.2 683.1 C490.8 683 492.5 682.8 494.1 682.6 C495.8 682.3 497.5 682.1 499.1 681.7 C500.8 681.4 502.4 681.1 504.1 680.7 C505.7 680.3 507.4 679.8 509.1 679.3 C510.7 678.8 512.4 678.3 514 677.7 C515.7 677.1 517.3 676.4 519 675.8 C520.7 675.1 522.3 674.4 524 673.6 C525.6 672.9 527.3 672.1 528.9 671.2 C530.6 670.4 532.3 669.6 533.9 668.7 C535.6 667.9 537.2 667 538.9 666.1 C540.5 665.2 542.2 664.3 543.9 663.4 C545.5 662.5 547.2 661.5 548.8 660.5 C550.5 659.5 552.1 658.5 553.8 657.3 C555.5 656.2 557.1 655.1 558.8 653.8 C560.4 652.6 562.1 651.3 563.7 650 C565.4 648.6 567.1 647.2 568.7 645.8 C570.4 644.3 572 642.8 573.7 641.3 C575.3 639.7 577 638.2 578.7 636.6 C580.3 635 582 633.3 583.6 631.7 C585.3 630.1 586.9 628.4 588.6 626.8 C590.3 625.1 591.9 623.5 593.6 621.9 C595.2 620.3 596.9 618.7 598.5 617.1 C600.2 615.6 601.9 614 603.5 612.5 C605.2 611 606.8 609.5 608.5 608.1 C610.1 606.6 611.8 605.2 613.5 603.8 C615.1 602.5 616.8 601.2 618.4 599.9 C620.1 598.6 621.7 597.4 623.4 596.2 C625.1 595 626.7 593.9 628.4 592.8 C630 591.8 631.7 590.7 633.3 589.8 C635 588.8 636.7 587.9 638.3 587.1 C640 586.3 641.6 585.5 643.3 584.8 C644.9 584 646.6 583.4 648.3 582.7 C649.9 582.1 651.6 581.5 653.2 581 C654.9 580.5 656.5 580 658.2 579.5 C659.9 579.1 661.5 578.7 663.2 578.3 C664.8 578 666.5 577.6 668.1 577.3 C669.8 577 671.5 576.8 673.1 576.5 C674.8 576.2 676.4 576 678.1 575.7 C679.7 575.4 681.4 575.1 683.1 574.8 C684.7 574.5 686.4 574.2 688 573.8 C689.7 573.5 691.3 573.1 693 572.7 C694.7 572.3 696.3 571.9 698 571.6 C699.6 571.2 701.3 570.9 702.9 570.5 C704.6 570.2 706.3 569.9 707.9 569.7 C709.6 569.4 711.2 569.2 712.9 569 C714.5 568.8 716.2 568.6 717.9 568.5 C719.5 568.3 721.2 568.2 722.8 568 C724.5 567.9 726.1 567.8 727.8 567.7 C729.5 567.5 731.1 567.4 732.8 567.3 C734.4 567.3 736.1 567.2 737.7 567.1 C739.4 567 741.1 566.9 742.7 566.9 C744.4 566.8 746 566.7 747.7 566.7 C749.3 566.6 751 566.6 752.7 566.6 C754.3 566.5 756 566.5 757.6 566.5 C759.3 566.5 760.9 566.5 762.6 566.6 C764.3 566.6 765.9 566.6 767.6 566.7 C769.2 566.8 770.9 566.8 772.5 567 C774.2 567.1 775.9 567.2 777.5 567.4 C779.2 567.5 780.8 567.7 782.5 567.9 C784.1 568.2 785.8 568.4 787.5 568.7 C789.1 569 790.8 569.3 792.4 569.6 C794.1 570 795.7 570.3 797.4 570.7 C799.1 571.1 800.7 571.5 802.4 572 C804 572.4 805.7 572.9 807.3 573.3 C809 573.8 810.7 574.3 812.3 574.8 C814 575.3 815.6 575.8 817.3 576.3 C818.9 576.8 820.6 577.3 822.3 577.8 C823.9 578.3 825.6 578.8 827.2 579.3 C828.9 579.8 830.5 580.3 832.2 580.8 C833.9 581.3 836.3 582.1 837.2 582.3" stroke="#000" stroke-width="1.5" fill="none"/>
<g fill="#2468ad"><use href="#tu" x="570.6" y="678.6"/><use href="#tu" x="599.7" y="646.3"/><use href="#tu" x="599.7" y="653.8"/><use href="#tu" x="601.8" y="664.6"/><use href="#tu" x="599.7" y="671"/><use href="#tu" x="599.7" y="674.3"/><use href="#tu" x="618" y="630.8"/><use href="#tu" x="618" y="640.9"/><use href="#tu" x="618" y="650.1"/><use href="#tu" x="634.8" y="612.9"/><use href="#tu" x="634.8" y="624.7"/><use href="#tu" x="634.8" y="633.3"/><use href="#tu" x="634.8" y="642.4"/><use href="#tu" x="653.5" y="608.6"/><use href="#tu" x="653.5" y="621.5"/><use href="#tu" x="653.5" y="629.5"/><use href="#tu" x="653.5" y="635.9"/><use href="#tu" x="675" y="586.4"/><use href="#tu" x="675" y="595.7"/><use href="#tu" x="675" y="612.9"/><use href="#tu" x="691.2" y="564.9"/><use href="#tu" x="691.2" y="578.4"/><use href="#tu" x="691.8" y="565.5"/><use href="#tu" x="691.8" y="578.4"/><use href="#tu" x="691.8" y="581.7"/><use href="#tu" x="691.8" y="590.3"/><use href="#tu" x="715.5" y="570.9"/><use href="#tu" x="715.5" y="574.1"/><use href="#tu" x="715.5" y="578.4"/><use href="#tu" x="715.5" y="582.8"/><use href="#tu" x="734.5" y="561.2"/><use href="#tu" x="734.5" y="576.3"/><use href="#tu" x="734.5" y="586.4"/><use href="#tu" x="734.5" y="592.4"/><use href="#tu" x="734.5" y="607.1"/><use href="#tu" x="759" y="559.1"/><use href="#tu" x="759" y="562.3"/><use href="#tu" x="759" y="565.5"/><use href="#tu" x="774.7" y="559.1"/><use href="#tu" x="774.7" y="572"/><use href="#tu" x="794.1" y="559.1"/><use href="#tu" x="794.1" y="562.3"/><use href="#tu" x="823.8" y="565.1"/><use href="#tu" x="823.8" y="570.9"/><use href="#tu" x="823.8" y="575.2"/><use href="#tu" x="823.8" y="587.1"/></g>
<path d="M570.6 673.7 C570.9 673.6 571.4 673.6 572.7 673 C573.9 672.4 576.3 671 578 670 C579.8 669 581.6 668 583.3 666.9 C585.1 665.7 586.7 664.4 588.3 663.2 C590 662 591.7 660.7 593.3 659.5 C595 658.2 596.7 656.9 598.4 655.6 C600 654.3 601.7 653.1 603.4 651.8 C605 650.5 606.7 649.1 608.4 647.8 C610.1 646.5 611.7 645.2 613.4 643.9 C615.1 642.5 616.7 641.2 618.4 639.8 C620.1 638.5 621.8 637.1 623.4 635.7 C625.1 634.3 626.8 633 628.5 631.6 C630.1 630.2 631.8 628.8 633.5 627.4 C635.2 626 636.8 624.6 638.5 623.2 C640.2 621.8 641.9 620.3 643.6 618.9 C645.2 617.5 646.9 616.1 648.6 614.7 C650.3 613.3 652 611.9 653.6 610.5 C655.3 609.1 657 607.7 658.7 606.3 C660.4 605 662.1 603.6 663.8 602.2 C665.5 600.9 667.2 599.6 668.9 598.3 C670.6 597 672.3 595.8 674 594.5 C675.7 593.3 677.5 592.1 679.2 591 C680.9 589.9 682.6 588.8 684.4 587.8 C686.1 586.8 687.8 585.8 689.6 584.9 C691.3 584 693 583.2 694.7 582.4 C696.4 581.5 698.1 580.8 699.8 580 C701.5 579.3 703.2 578.5 704.9 577.8 C706.6 577.1 708.3 576.3 710 575.7 C711.7 575 713.4 574.3 715.1 573.6 C716.9 573 718.6 572.4 720.3 571.8 C722 571.2 723.7 570.6 725.4 570.1 C727.2 569.6 728.9 569.1 730.6 568.6 C732.3 568.2 734 567.7 735.8 567.4 C737.5 567 739.2 566.6 740.9 566.3 C742.6 565.9 744.3 565.6 746 565.3 C747.7 565.1 749.5 564.8 751.2 564.6 C752.9 564.3 754.6 564.1 756.3 563.9 C758 563.7 759.7 563.5 761.4 563.3 C763.1 563.2 764.8 563 766.5 562.8 C768.2 562.7 769.9 562.6 771.6 562.4 C773.3 562.3 775 562.2 776.7 562.2 C778.4 562.1 780.1 562 781.8 562 C783.5 562 785.2 562 787 562 C788.7 562 790.4 562.1 792.1 562.1 C793.8 562.2 795.5 562.3 797.2 562.4 C799 562.5 800.7 562.6 802.4 562.7 C804.1 562.9 805.8 562.9 807.5 563.1 C809.3 563.2 811 563.3 812.7 563.5 C814.4 563.7 816.1 563.8 817.8 564 C819.5 564.2 821.3 564.4 823 564.6 C824.7 564.8 826.4 565 828.1 565.2 C829.8 565.4 831.7 565.7 833.2 565.8 C834.7 566 836.5 566.2 837.2 566.3 L837.2 578.5 C836.2 578.3 833 577.6 831.1 577.1 C829.3 576.7 827.8 576.4 826.2 576 C824.5 575.6 822.9 575.2 821.2 574.8 C819.6 574.5 817.9 574.1 816.3 573.7 C814.6 573.4 813 573 811.4 572.7 C809.7 572.4 808.1 572.1 806.5 571.8 C804.8 571.5 803.2 571.2 801.5 570.9 C799.9 570.7 798.3 570.5 796.6 570.3 C795 570.2 793.4 570.1 791.7 570 C790.1 569.9 788.4 569.8 786.8 569.7 C785.2 569.7 783.5 569.7 781.9 569.6 C780.2 569.6 778.6 569.7 776.9 569.7 C775.3 569.7 773.6 569.8 772 569.9 C770.4 569.9 768.7 570 767 570.2 C765.4 570.3 763.7 570.4 762.1 570.5 C760.4 570.7 758.8 570.9 757.1 571.1 C755.5 571.3 753.8 571.5 752.2 571.7 C750.5 572 748.9 572.2 747.2 572.5 C745.6 572.8 744 573.1 742.3 573.4 C740.7 573.7 739 574.1 737.4 574.5 C735.8 574.9 734.1 575.3 732.5 575.7 C730.9 576.2 729.2 576.6 727.6 577.1 C726 577.7 724.3 578.2 722.7 578.8 C721.1 579.3 719.4 579.9 717.8 580.6 C716.1 581.2 714.5 581.9 712.8 582.5 C711.2 583.2 709.5 583.9 707.9 584.6 C706.2 585.4 704.6 586.1 702.9 586.9 C701.3 587.6 699.6 588.4 698 589.1 C696.3 589.9 694.7 590.7 693.1 591.6 C691.4 592.4 689.8 593.3 688.2 594.3 C686.6 595.3 685 596.3 683.3 597.4 C681.7 598.4 680.1 599.6 678.4 600.7 C676.8 601.9 675.1 603.1 673.5 604.4 C671.8 605.6 670.2 606.9 668.5 608.2 C666.9 609.6 665.2 610.9 663.6 612.3 C661.9 613.6 660.2 615 658.6 616.4 C656.9 617.8 655.2 619.2 653.6 620.6 C651.9 622 650.2 623.5 648.5 624.9 C646.9 626.3 645.2 627.7 643.5 629.1 C641.8 630.5 640.2 631.9 638.5 633.3 C636.8 634.8 635.1 636.2 633.5 637.6 C631.8 639 630.1 640.4 628.4 641.8 C626.7 643.2 625.1 644.5 623.4 645.9 C621.7 647.3 620 648.6 618.3 650 C616.6 651.3 615 652.7 613.3 654 C611.6 655.4 609.9 656.7 608.2 658 C606.6 659.3 604.9 660.6 603.2 661.9 C601.5 663.2 599.8 664.5 598.2 665.8 C596.5 667.1 594.8 668.3 593.1 669.6 C591.4 670.9 589.7 672 588 673.3 C586.4 674.6 584.9 676.1 583.3 677.4 C581.7 678.8 580.7 679.8 578.6 681.5 C576.5 683.2 571.9 686.7 570.6 687.8 Z" fill="#2468ad" fill-opacity="0.5"/>
<path d="M570.6 680.7 C571.4 680.1 574 678.4 575.6 677.2 C577.3 676.1 579 674.9 580.7 673.7 C582.3 672.5 584 671.3 585.7 670.1 C587.4 668.9 589 667.6 590.7 666.4 C592.4 665.2 594.1 663.9 595.7 662.6 C597.4 661.4 599.1 660.1 600.8 658.8 C602.5 657.5 604.1 656.2 605.8 654.9 C607.5 653.6 609.2 652.3 610.8 650.9 C612.5 649.6 614.2 648.3 615.9 646.9 C617.5 645.6 619.2 644.2 620.9 642.9 C622.6 641.5 624.2 640.1 625.9 638.7 C627.6 637.4 629.3 636 631 634.6 C632.6 633.2 634.3 631.8 636 630.4 C637.7 629 639.3 627.5 641 626.1 C642.7 624.7 644.4 623.3 646 621.9 C647.7 620.5 649.4 619.1 651.1 617.7 C652.8 616.3 654.4 614.9 656.1 613.5 C657.8 612.1 659.5 610.7 661.1 609.3 C662.8 607.9 664.5 606.6 666.2 605.2 C667.8 603.9 669.5 602.6 671.2 601.3 C672.9 600.1 674.5 598.8 676.2 597.6 C677.9 596.5 679.6 595.3 681.3 594.2 C682.9 593.1 684.6 592 686.3 591.1 C688 590.1 689.6 589.1 691.3 588.2 C693 587.4 694.7 586.6 696.3 585.8 C698 585 699.7 584.2 701.4 583.4 C703 582.7 704.7 581.9 706.4 581.2 C708.1 580.5 709.8 579.8 711.4 579.1 C713.1 578.4 714.8 577.7 716.5 577.1 C718.1 576.5 719.8 575.9 721.5 575.3 C723.2 574.7 724.8 574.1 726.5 573.6 C728.2 573.1 729.9 572.6 731.6 572.2 C733.2 571.7 734.9 571.3 736.6 570.9 C738.3 570.5 739.9 570.2 741.6 569.8 C743.3 569.5 745 569.2 746.6 568.9 C748.3 568.6 750 568.4 751.7 568.1 C753.3 567.9 755 567.7 756.7 567.5 C758.4 567.3 760.1 567.1 761.7 566.9 C763.4 566.8 765.1 566.6 766.8 566.5 C768.4 566.4 770.1 566.3 771.8 566.2 C773.5 566.1 775.1 566 776.8 565.9 C778.5 565.9 780.2 565.8 781.8 565.8 C783.5 565.8 785.2 565.8 786.9 565.9 C788.6 565.9 790.2 566 791.9 566 C793.6 566.1 795.3 566.2 796.9 566.4 C798.6 566.5 800.3 566.7 802 566.8 C803.6 567 805.3 567.2 807 567.4 C808.7 567.6 810.4 567.9 812 568.1 C813.7 568.3 815.4 568.6 817.1 568.9 C818.7 569.1 820.4 569.4 822.1 569.7 C823.8 570 825.4 570.3 827.1 570.6 C828.8 570.9 830.5 571.2 832.1 571.5 C833.8 571.8 836.3 572.3 837.2 572.4" stroke="#000" stroke-width="1.5" fill="none"/>
</g>
</svg>
<div class="ln" style="left:12.4px;top:724.8px;letter-spacing:0.035px"><b>Fig. 2 | Impact of growing season length (GSL) on the timing of growth and</b></div>
<div class="ln" style="left:12.4px;top:742.8px;letter-spacing:0.109px"><b>senescence.</b> Soil temperature and growth parameters with different growing sea-</div>
<div class="ln" style="left:12.4px;top:760.8px;letter-spacing:-0.121px">son length, experimentally advanced in climate chambers (+4 m, +2 m, in 2021) and</div>
<div class="ln" style="left:12.4px;top:778.6px;letter-spacing:-0.080px">compared to field plots (2020, 2021). Day of the year is specified for the first day of</div>
<div class="ln" style="left:12.4px;top:796.6px;letter-spacing:0.081px">each month below the <i>x</i> axis of <b>A</b>. GSL is indicated for each group at the top of</div>
<div class="ln" style="left:12.4px;top:814.6px;letter-spacing:0.067px"><b>A</b> (dotted line during snowmelt). All growth data were scaled to 0–100% to ease</div>
<div class="ln" style="left:493.6px;top:724.8px;letter-spacing:0.093px">comparison. <b>A</b> Daily mean soil temperature at 3–4 cm depth, close to the plants’</div>
<div class="ln" style="left:493.6px;top:742.8px;letter-spacing:-0.066px">meristems. <b>B</b> Green leaf length of <i>Carex curvula</i>. <b>C</b> Canopy greenness of the whole</div>
<div class="ln" style="left:493.6px;top:760.8px;letter-spacing:0.074px">plant community (2021). Dashed, vertical lines show the mean date for the peak.</div>
<div class="ln" style="left:493.6px;top:778.6px;letter-spacing:0.093px"><b>D</b> Seasonal gain in root area per unit image area (mm<sup>2</sup> cm<sup>−2</sup>, scaled to percent).</div>
<div class="ln" style="left:493.6px;top:796.6px;letter-spacing:0.019px">Points indicate raw data and lines are GAM smoothers in <b>B</b>–<b>D</b> (lines: mean, error</div>
<div class="ln" style="left:493.6px;top:814.6px;letter-spacing:-0.077px">band: 95% confidence interval).</div>
</body></html>
